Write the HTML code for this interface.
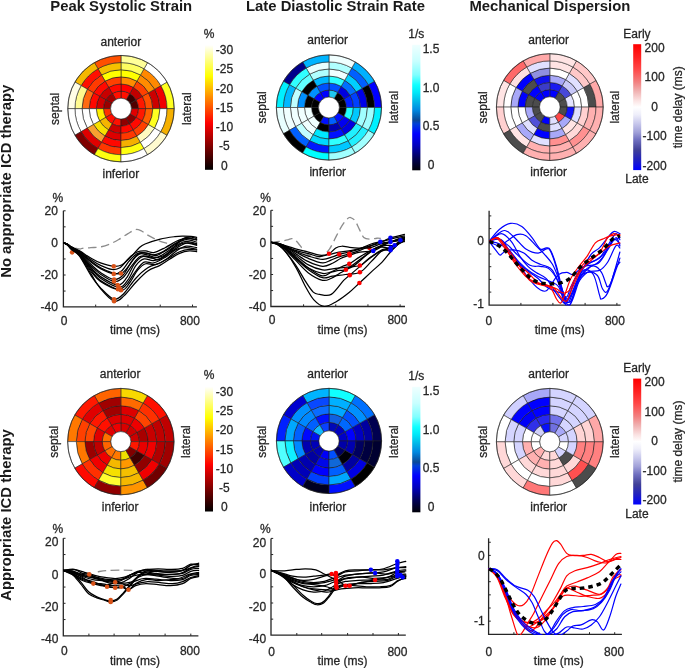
<!DOCTYPE html>
<html><head><meta charset="utf-8"><style>
html,body{margin:0;padding:0;background:#fff;}
svg{display:block;font-family:"Liberation Sans", sans-serif;}
</style></head><body>
<svg style="will-change:transform" width="685" height="668" viewBox="0 0 685 668">
<defs><linearGradient id="ghot" x1="0" y1="0" x2="0" y2="1"><stop offset="0.000" stop-color="#ffffff"/><stop offset="0.025" stop-color="#ffffe5"/><stop offset="0.050" stop-color="#ffffcb"/><stop offset="0.075" stop-color="#ffffb2"/><stop offset="0.100" stop-color="#ffff99"/><stop offset="0.125" stop-color="#ffff7f"/><stop offset="0.150" stop-color="#ffff65"/><stop offset="0.175" stop-color="#ffff4c"/><stop offset="0.200" stop-color="#ffff33"/><stop offset="0.225" stop-color="#ffff19"/><stop offset="0.250" stop-color="#ffff00"/><stop offset="0.275" stop-color="#ffed00"/><stop offset="0.300" stop-color="#ffdc00"/><stop offset="0.325" stop-color="#ffcc00"/><stop offset="0.350" stop-color="#ffbb00"/><stop offset="0.375" stop-color="#ffaa00"/><stop offset="0.400" stop-color="#ff9900"/><stop offset="0.425" stop-color="#ff8700"/><stop offset="0.450" stop-color="#ff7700"/><stop offset="0.475" stop-color="#ff6600"/><stop offset="0.500" stop-color="#ff5500"/><stop offset="0.525" stop-color="#ff4300"/><stop offset="0.550" stop-color="#ff3300"/><stop offset="0.575" stop-color="#ff2100"/><stop offset="0.600" stop-color="#ff1100"/><stop offset="0.625" stop-color="#ff0000"/><stop offset="0.650" stop-color="#ed0000"/><stop offset="0.675" stop-color="#dd0000"/><stop offset="0.700" stop-color="#cb0000"/><stop offset="0.725" stop-color="#bb0000"/><stop offset="0.750" stop-color="#aa0000"/><stop offset="0.775" stop-color="#990000"/><stop offset="0.800" stop-color="#880000"/><stop offset="0.825" stop-color="#760000"/><stop offset="0.850" stop-color="#650000"/><stop offset="0.875" stop-color="#550000"/><stop offset="0.900" stop-color="#440000"/><stop offset="0.925" stop-color="#320000"/><stop offset="0.950" stop-color="#220000"/><stop offset="0.975" stop-color="#110000"/><stop offset="1.000" stop-color="#000000"/></linearGradient><linearGradient id="gblue" x1="0" y1="0" x2="0" y2="1"><stop offset="0.000" stop-color="#f0ffff"/><stop offset="0.130" stop-color="#c8ffff"/><stop offset="0.240" stop-color="#80ffff"/><stop offset="0.320" stop-color="#10ffff"/><stop offset="0.380" stop-color="#00e8f8"/><stop offset="0.450" stop-color="#00b8e8"/><stop offset="0.520" stop-color="#0088e0"/><stop offset="0.600" stop-color="#0a4898"/><stop offset="0.630" stop-color="#0040d8"/><stop offset="0.710" stop-color="#0000ff"/><stop offset="0.800" stop-color="#0000c0"/><stop offset="0.910" stop-color="#000050"/><stop offset="1.000" stop-color="#000008"/></linearGradient><linearGradient id="grb" x1="0" y1="0" x2="0" y2="1"><stop offset="0.000" stop-color="#ff0000"/><stop offset="0.100" stop-color="#ff2020"/><stop offset="0.200" stop-color="#ff4848"/><stop offset="0.300" stop-color="#f28080"/><stop offset="0.370" stop-color="#f0b0b0"/><stop offset="0.450" stop-color="#fbe4e4"/><stop offset="0.500" stop-color="#ffffff"/><stop offset="0.560" stop-color="#eeeefa"/><stop offset="0.630" stop-color="#c8c8ec"/><stop offset="0.700" stop-color="#a0a0d8"/><stop offset="0.760" stop-color="#7070c0"/><stop offset="0.840" stop-color="#404098"/><stop offset="0.920" stop-color="#2020c0"/><stop offset="1.000" stop-color="#0000ff"/></linearGradient><clipPath id="c1"><rect x="63.4" y="200" width="134" height="107.3"/></clipPath><clipPath id="c2"><rect x="271.4" y="200" width="134" height="107.3"/></clipPath><clipPath id="c3"><rect x="489.1" y="200" width="133" height="105.4"/></clipPath><clipPath id="c4"><rect x="63.3" y="530" width="136" height="106.2"/></clipPath><clipPath id="c5"><rect x="271" y="530" width="136" height="105.8"/></clipPath><clipPath id="c6"><rect x="488.6" y="530" width="134" height="105"/></clipPath></defs>
<rect width="685" height="668" fill="#fff"/>
<text x="121.2" y="10.7" font-size="14.85" text-anchor="middle" font-weight="bold" fill="#1a1a1a">Peak Systolic Strain</text>
<text x="335.5" y="10.7" font-size="14.85" text-anchor="middle" font-weight="bold" fill="#1a1a1a">Late Diastolic Strain Rate</text>
<text x="549.9" y="10.7" font-size="14.85" text-anchor="middle" font-weight="bold" fill="#1a1a1a">Mechanical Dispersion</text>
<text x="10.8" y="181.3" font-size="14.85" text-anchor="middle" font-weight="bold" fill="#1a1a1a" transform="rotate(-90 10.8 181.3)">No appropriate ICD therapy</text>
<text x="10.8" y="515" font-size="14.85" text-anchor="middle" font-weight="bold" fill="#1a1a1a" transform="rotate(-90 10.8 515)">Appropriate ICD therapy</text>
<g>
<path d="M138.53 108.65A17.53 17.53 0 0 0 136.18 99.88L130.01 103.45A10.4 10.4 0 0 1 131.4 108.65Z" fill="#500000" stroke="#1e1e1e" stroke-width="0.55"/>
<path d="M145.67 108.65A24.67 24.67 0 0 0 142.36 96.32L136.18 99.88A17.53 17.53 0 0 1 138.53 108.65Z" fill="#ff1800" stroke="#1e1e1e" stroke-width="0.55"/>
<path d="M152.8 108.65A31.8 31.8 0 0 0 148.54 92.75L142.36 96.32A24.67 24.67 0 0 1 145.67 108.65Z" fill="#ff5000" stroke="#1e1e1e" stroke-width="0.55"/>
<path d="M159.93 108.65A38.93 38.93 0 0 0 154.72 89.18L148.54 92.75A31.8 31.8 0 0 1 152.8 108.65Z" fill="#cc0000" stroke="#1e1e1e" stroke-width="0.55"/>
<path d="M167.07 108.65A46.07 46.07 0 0 0 160.89 85.62L154.72 89.18A38.93 38.93 0 0 1 159.93 108.65Z" fill="#f00000" stroke="#1e1e1e" stroke-width="0.55"/>
<path d="M174.2 108.65A53.2 53.2 0 0 0 167.07 82.05L160.89 85.62A46.07 46.07 0 0 1 167.07 108.65Z" fill="#ffff20" stroke="#1e1e1e" stroke-width="0.55"/>
<path d="M136.18 99.88A17.53 17.53 0 0 0 129.77 93.47L126.2 99.64A10.4 10.4 0 0 1 130.01 103.45Z" fill="#3a0000" stroke="#1e1e1e" stroke-width="0.55"/>
<path d="M142.36 96.32A24.67 24.67 0 0 0 133.33 87.29L129.77 93.47A17.53 17.53 0 0 1 136.18 99.88Z" fill="#c00000" stroke="#1e1e1e" stroke-width="0.55"/>
<path d="M148.54 92.75A31.8 31.8 0 0 0 136.9 81.11L133.33 87.29A24.67 24.67 0 0 1 142.36 96.32Z" fill="#ff4000" stroke="#1e1e1e" stroke-width="0.55"/>
<path d="M154.72 89.18A38.93 38.93 0 0 0 140.47 74.93L136.9 81.11A31.8 31.8 0 0 1 148.54 92.75Z" fill="#ff8c00" stroke="#1e1e1e" stroke-width="0.55"/>
<path d="M160.89 85.62A46.07 46.07 0 0 0 144.03 68.76L140.47 74.93A38.93 38.93 0 0 1 154.72 89.18Z" fill="#ff8800" stroke="#1e1e1e" stroke-width="0.55"/>
<path d="M167.07 82.05A53.2 53.2 0 0 0 147.6 62.58L144.03 68.76A46.07 46.07 0 0 1 160.89 85.62Z" fill="#ffffff" stroke="#1e1e1e" stroke-width="0.55"/>
<path d="M129.77 93.47A17.53 17.53 0 0 0 121 91.12L121 98.25A10.4 10.4 0 0 1 126.2 99.64Z" fill="#ff1000" stroke="#1e1e1e" stroke-width="0.55"/>
<path d="M133.33 87.29A24.67 24.67 0 0 0 121 83.98L121 91.12A17.53 17.53 0 0 1 129.77 93.47Z" fill="#ff0000" stroke="#1e1e1e" stroke-width="0.55"/>
<path d="M136.9 81.11A31.8 31.8 0 0 0 121 76.85L121 83.98A24.67 24.67 0 0 1 133.33 87.29Z" fill="#ff8c00" stroke="#1e1e1e" stroke-width="0.55"/>
<path d="M140.47 74.93A38.93 38.93 0 0 0 121 69.72L121 76.85A31.8 31.8 0 0 1 136.9 81.11Z" fill="#ffff00" stroke="#1e1e1e" stroke-width="0.55"/>
<path d="M144.03 68.76A46.07 46.07 0 0 0 121 62.58L121 69.72A38.93 38.93 0 0 1 140.47 74.93Z" fill="#fdfd60" stroke="#1e1e1e" stroke-width="0.55"/>
<path d="M147.6 62.58A53.2 53.2 0 0 0 121 55.45L121 62.58A46.07 46.07 0 0 1 144.03 68.76Z" fill="#ffff99" stroke="#1e1e1e" stroke-width="0.55"/>
<path d="M121 91.12A17.53 17.53 0 0 0 112.23 93.47L115.8 99.64A10.4 10.4 0 0 1 121 98.25Z" fill="#ff1000" stroke="#1e1e1e" stroke-width="0.55"/>
<path d="M121 83.98A24.67 24.67 0 0 0 108.67 87.29L112.23 93.47A17.53 17.53 0 0 1 121 91.12Z" fill="#ff0800" stroke="#1e1e1e" stroke-width="0.55"/>
<path d="M121 76.85A31.8 31.8 0 0 0 105.1 81.11L108.67 87.29A24.67 24.67 0 0 1 121 83.98Z" fill="#ff4000" stroke="#1e1e1e" stroke-width="0.55"/>
<path d="M121 69.72A38.93 38.93 0 0 0 101.53 74.93L105.1 81.11A31.8 31.8 0 0 1 121 76.85Z" fill="#ffff00" stroke="#1e1e1e" stroke-width="0.55"/>
<path d="M121 62.58A46.07 46.07 0 0 0 97.97 68.76L101.53 74.93A38.93 38.93 0 0 1 121 69.72Z" fill="#f5c000" stroke="#1e1e1e" stroke-width="0.55"/>
<path d="M121 55.45A53.2 53.2 0 0 0 94.4 62.58L97.97 68.76A46.07 46.07 0 0 1 121 62.58Z" fill="#ff5000" stroke="#1e1e1e" stroke-width="0.55"/>
<path d="M112.23 93.47A17.53 17.53 0 0 0 105.82 99.88L111.99 103.45A10.4 10.4 0 0 1 115.8 99.64Z" fill="#a00000" stroke="#1e1e1e" stroke-width="0.55"/>
<path d="M108.67 87.29A24.67 24.67 0 0 0 99.64 96.32L105.82 99.88A17.53 17.53 0 0 1 112.23 93.47Z" fill="#c80000" stroke="#1e1e1e" stroke-width="0.55"/>
<path d="M105.1 81.11A31.8 31.8 0 0 0 93.46 92.75L99.64 96.32A24.67 24.67 0 0 1 108.67 87.29Z" fill="#ff0800" stroke="#1e1e1e" stroke-width="0.55"/>
<path d="M101.53 74.93A38.93 38.93 0 0 0 87.28 89.18L93.46 92.75A31.8 31.8 0 0 1 105.1 81.11Z" fill="#ff3a00" stroke="#1e1e1e" stroke-width="0.55"/>
<path d="M97.97 68.76A46.07 46.07 0 0 0 81.11 85.62L87.28 89.18A38.93 38.93 0 0 1 101.53 74.93Z" fill="#ff1000" stroke="#1e1e1e" stroke-width="0.55"/>
<path d="M94.4 62.58A53.2 53.2 0 0 0 74.93 82.05L81.11 85.62A46.07 46.07 0 0 1 97.97 68.76Z" fill="#f5b800" stroke="#1e1e1e" stroke-width="0.55"/>
<path d="M105.82 99.88A17.53 17.53 0 0 0 103.47 108.65L110.6 108.65A10.4 10.4 0 0 1 111.99 103.45Z" fill="#9a0000" stroke="#1e1e1e" stroke-width="0.55"/>
<path d="M99.64 96.32A24.67 24.67 0 0 0 96.33 108.65L103.47 108.65A17.53 17.53 0 0 1 105.82 99.88Z" fill="#d00000" stroke="#1e1e1e" stroke-width="0.55"/>
<path d="M93.46 92.75A31.8 31.8 0 0 0 89.2 108.65L96.33 108.65A24.67 24.67 0 0 1 99.64 96.32Z" fill="#ff0800" stroke="#1e1e1e" stroke-width="0.55"/>
<path d="M87.28 89.18A38.93 38.93 0 0 0 82.07 108.65L89.2 108.65A31.8 31.8 0 0 1 93.46 92.75Z" fill="#ff6a10" stroke="#1e1e1e" stroke-width="0.55"/>
<path d="M81.11 85.62A46.07 46.07 0 0 0 74.93 108.65L82.07 108.65A38.93 38.93 0 0 1 87.28 89.18Z" fill="#fffa90" stroke="#1e1e1e" stroke-width="0.55"/>
<path d="M74.93 82.05A53.2 53.2 0 0 0 67.8 108.65L74.93 108.65A46.07 46.07 0 0 1 81.11 85.62Z" fill="#fffde6" stroke="#1e1e1e" stroke-width="0.55"/>
<path d="M103.47 108.65A17.53 17.53 0 0 0 105.82 117.42L111.99 113.85A10.4 10.4 0 0 1 110.6 108.65Z" fill="#ff3000" stroke="#1e1e1e" stroke-width="0.55"/>
<path d="M96.33 108.65A24.67 24.67 0 0 0 99.64 120.98L105.82 117.42A17.53 17.53 0 0 1 103.47 108.65Z" fill="#ffef00" stroke="#1e1e1e" stroke-width="0.55"/>
<path d="M89.2 108.65A31.8 31.8 0 0 0 93.46 124.55L99.64 120.98A24.67 24.67 0 0 1 96.33 108.65Z" fill="#ffffff" stroke="#1e1e1e" stroke-width="0.55"/>
<path d="M82.07 108.65A38.93 38.93 0 0 0 87.28 128.12L93.46 124.55A31.8 31.8 0 0 1 89.2 108.65Z" fill="#ffffff" stroke="#1e1e1e" stroke-width="0.55"/>
<path d="M74.93 108.65A46.07 46.07 0 0 0 81.11 131.68L87.28 128.12A38.93 38.93 0 0 1 82.07 108.65Z" fill="#ffffff" stroke="#1e1e1e" stroke-width="0.55"/>
<path d="M67.8 108.65A53.2 53.2 0 0 0 74.93 135.25L81.11 131.68A46.07 46.07 0 0 1 74.93 108.65Z" fill="#ffffff" stroke="#1e1e1e" stroke-width="0.55"/>
<path d="M105.82 117.42A17.53 17.53 0 0 0 112.23 123.83L115.8 117.66A10.4 10.4 0 0 1 111.99 113.85Z" fill="#ff0c00" stroke="#1e1e1e" stroke-width="0.55"/>
<path d="M99.64 120.98A24.67 24.67 0 0 0 108.67 130.01L112.23 123.83A17.53 17.53 0 0 1 105.82 117.42Z" fill="#f5b400" stroke="#1e1e1e" stroke-width="0.55"/>
<path d="M93.46 124.55A31.8 31.8 0 0 0 105.1 136.19L108.67 130.01A24.67 24.67 0 0 1 99.64 120.98Z" fill="#f8e000" stroke="#1e1e1e" stroke-width="0.55"/>
<path d="M87.28 128.12A38.93 38.93 0 0 0 101.53 142.37L105.1 136.19A31.8 31.8 0 0 1 93.46 124.55Z" fill="#f8a030" stroke="#1e1e1e" stroke-width="0.55"/>
<path d="M81.11 131.68A46.07 46.07 0 0 0 97.97 148.54L101.53 142.37A38.93 38.93 0 0 1 87.28 128.12Z" fill="#e00000" stroke="#1e1e1e" stroke-width="0.55"/>
<path d="M74.93 135.25A53.2 53.2 0 0 0 94.4 154.72L97.97 148.54A46.07 46.07 0 0 1 81.11 131.68Z" fill="#800000" stroke="#1e1e1e" stroke-width="0.55"/>
<path d="M112.23 123.83A17.53 17.53 0 0 0 121 126.18L121 119.05A10.4 10.4 0 0 1 115.8 117.66Z" fill="#ff1000" stroke="#1e1e1e" stroke-width="0.55"/>
<path d="M108.67 130.01A24.67 24.67 0 0 0 121 133.32L121 126.18A17.53 17.53 0 0 1 112.23 123.83Z" fill="#cc0000" stroke="#1e1e1e" stroke-width="0.55"/>
<path d="M105.1 136.19A31.8 31.8 0 0 0 121 140.45L121 133.32A24.67 24.67 0 0 1 108.67 130.01Z" fill="#dd0000" stroke="#1e1e1e" stroke-width="0.55"/>
<path d="M101.53 142.37A38.93 38.93 0 0 0 121 147.58L121 140.45A31.8 31.8 0 0 1 105.1 136.19Z" fill="#ff0800" stroke="#1e1e1e" stroke-width="0.55"/>
<path d="M97.97 148.54A46.07 46.07 0 0 0 121 154.72L121 147.58A38.93 38.93 0 0 1 101.53 142.37Z" fill="#ff3800" stroke="#1e1e1e" stroke-width="0.55"/>
<path d="M94.4 154.72A53.2 53.2 0 0 0 121 161.85L121 154.72A46.07 46.07 0 0 1 97.97 148.54Z" fill="#ffff10" stroke="#1e1e1e" stroke-width="0.55"/>
<path d="M121 126.18A17.53 17.53 0 0 0 129.77 123.83L126.2 117.66A10.4 10.4 0 0 1 121 119.05Z" fill="#900000" stroke="#1e1e1e" stroke-width="0.55"/>
<path d="M121 133.32A24.67 24.67 0 0 0 133.33 130.01L129.77 123.83A17.53 17.53 0 0 1 121 126.18Z" fill="#ff0800" stroke="#1e1e1e" stroke-width="0.55"/>
<path d="M121 140.45A31.8 31.8 0 0 0 136.9 136.19L133.33 130.01A24.67 24.67 0 0 1 121 133.32Z" fill="#ff3800" stroke="#1e1e1e" stroke-width="0.55"/>
<path d="M121 147.58A38.93 38.93 0 0 0 140.47 142.37L136.9 136.19A31.8 31.8 0 0 1 121 140.45Z" fill="#f5b000" stroke="#1e1e1e" stroke-width="0.55"/>
<path d="M121 154.72A46.07 46.07 0 0 0 144.03 148.54L140.47 142.37A38.93 38.93 0 0 1 121 147.58Z" fill="#ffff10" stroke="#1e1e1e" stroke-width="0.55"/>
<path d="M121 161.85A53.2 53.2 0 0 0 147.6 154.72L144.03 148.54A46.07 46.07 0 0 1 121 154.72Z" fill="#ffffff" stroke="#1e1e1e" stroke-width="0.55"/>
<path d="M129.77 123.83A17.53 17.53 0 0 0 136.18 117.42L130.01 113.85A10.4 10.4 0 0 1 126.2 117.66Z" fill="#880000" stroke="#1e1e1e" stroke-width="0.55"/>
<path d="M133.33 130.01A24.67 24.67 0 0 0 142.36 120.98L136.18 117.42A17.53 17.53 0 0 1 129.77 123.83Z" fill="#ff0800" stroke="#1e1e1e" stroke-width="0.55"/>
<path d="M136.9 136.19A31.8 31.8 0 0 0 148.54 124.55L142.36 120.98A24.67 24.67 0 0 1 133.33 130.01Z" fill="#ff4000" stroke="#1e1e1e" stroke-width="0.55"/>
<path d="M140.47 142.37A38.93 38.93 0 0 0 154.72 128.12L148.54 124.55A31.8 31.8 0 0 1 136.9 136.19Z" fill="#fffbc0" stroke="#1e1e1e" stroke-width="0.55"/>
<path d="M144.03 148.54A46.07 46.07 0 0 0 160.89 131.68L154.72 128.12A38.93 38.93 0 0 1 140.47 142.37Z" fill="#ffffff" stroke="#1e1e1e" stroke-width="0.55"/>
<path d="M147.6 154.72A53.2 53.2 0 0 0 167.07 135.25L160.89 131.68A46.07 46.07 0 0 1 144.03 148.54Z" fill="#fffbd0" stroke="#1e1e1e" stroke-width="0.55"/>
<path d="M136.18 117.42A17.53 17.53 0 0 0 138.53 108.65L131.4 108.65A10.4 10.4 0 0 1 130.01 113.85Z" fill="#e00000" stroke="#1e1e1e" stroke-width="0.55"/>
<path d="M142.36 120.98A24.67 24.67 0 0 0 145.67 108.65L138.53 108.65A17.53 17.53 0 0 1 136.18 117.42Z" fill="#ff1800" stroke="#1e1e1e" stroke-width="0.55"/>
<path d="M148.54 124.55A31.8 31.8 0 0 0 152.8 108.65L145.67 108.65A24.67 24.67 0 0 1 142.36 120.98Z" fill="#ff6000" stroke="#1e1e1e" stroke-width="0.55"/>
<path d="M154.72 128.12A38.93 38.93 0 0 0 159.93 108.65L152.8 108.65A31.8 31.8 0 0 1 148.54 124.55Z" fill="#ffff20" stroke="#1e1e1e" stroke-width="0.55"/>
<path d="M160.89 131.68A46.07 46.07 0 0 0 167.07 108.65L159.93 108.65A38.93 38.93 0 0 1 154.72 128.12Z" fill="#ffffff" stroke="#1e1e1e" stroke-width="0.55"/>
<path d="M167.07 135.25A53.2 53.2 0 0 0 174.2 108.65L167.07 108.65A46.07 46.07 0 0 1 160.89 131.68Z" fill="#f5b000" stroke="#1e1e1e" stroke-width="0.55"/>
</g>
<circle cx="121" cy="108.65" r="53.2" fill="none" stroke="#1e1e1e" stroke-width="0.6"/>
<circle cx="121" cy="108.65" r="10.4" fill="#fff" stroke="#1e1e1e" stroke-width="0.55"/>
<text x="120.8" y="45.8" font-size="12" text-anchor="middle" fill="#262626" stroke="#262626" stroke-width="0.28">anterior</text>
<text x="120.85" y="178.4" font-size="12" text-anchor="middle" fill="#262626" stroke="#262626" stroke-width="0.28">inferior</text>
<text x="59.1" y="108.9" font-size="12" text-anchor="middle" fill="#262626" stroke="#262626" stroke-width="0.28" transform="rotate(-90 59.1 108.9)">septal</text>
<text x="191" y="108.75" font-size="12" text-anchor="middle" fill="#262626" stroke="#262626" stroke-width="0.28" transform="rotate(-90 191 108.75)">lateral</text>
<g>
<path d="M346.38 107.5A17.43 17.43 0 0 0 344.05 98.78L337.96 102.3A10.4 10.4 0 0 1 339.35 107.5Z" fill="#000000" stroke="#1e1e1e" stroke-width="0.55"/>
<path d="M353.42 107.5A24.47 24.47 0 0 0 350.14 95.27L344.05 98.78A17.43 17.43 0 0 1 346.38 107.5Z" fill="#0020ff" stroke="#1e1e1e" stroke-width="0.55"/>
<path d="M360.45 107.5A31.5 31.5 0 0 0 356.23 91.75L350.14 95.27A24.47 24.47 0 0 1 353.42 107.5Z" fill="#0040ff" stroke="#1e1e1e" stroke-width="0.55"/>
<path d="M367.48 107.5A38.53 38.53 0 0 0 362.32 88.23L356.23 91.75A31.5 31.5 0 0 1 360.45 107.5Z" fill="#0000e8" stroke="#1e1e1e" stroke-width="0.55"/>
<path d="M374.52 107.5A45.57 45.57 0 0 0 368.41 84.72L362.32 88.23A38.53 38.53 0 0 1 367.48 107.5Z" fill="#000000" stroke="#1e1e1e" stroke-width="0.55"/>
<path d="M381.55 107.5A52.6 52.6 0 0 0 374.5 81.2L368.41 84.72A45.57 45.57 0 0 1 374.52 107.5Z" fill="#0000ff" stroke="#1e1e1e" stroke-width="0.55"/>
<path d="M344.05 98.78A17.43 17.43 0 0 0 337.67 92.4L334.15 98.49A10.4 10.4 0 0 1 337.96 102.3Z" fill="#000000" stroke="#1e1e1e" stroke-width="0.55"/>
<path d="M350.14 95.27A24.47 24.47 0 0 0 341.18 86.31L337.67 92.4A17.43 17.43 0 0 1 344.05 98.78Z" fill="#0000e0" stroke="#1e1e1e" stroke-width="0.55"/>
<path d="M356.23 91.75A31.5 31.5 0 0 0 344.7 80.22L341.18 86.31A24.47 24.47 0 0 1 350.14 95.27Z" fill="#0070ff" stroke="#1e1e1e" stroke-width="0.55"/>
<path d="M362.32 88.23A38.53 38.53 0 0 0 348.22 74.13L344.7 80.22A31.5 31.5 0 0 1 356.23 91.75Z" fill="#00d0ff" stroke="#1e1e1e" stroke-width="0.55"/>
<path d="M368.41 84.72A45.57 45.57 0 0 0 351.73 68.04L348.22 74.13A38.53 38.53 0 0 1 362.32 88.23Z" fill="#0060ff" stroke="#1e1e1e" stroke-width="0.55"/>
<path d="M374.5 81.2A52.6 52.6 0 0 0 355.25 61.95L351.73 68.04A45.57 45.57 0 0 1 368.41 84.72Z" fill="#00b0ff" stroke="#1e1e1e" stroke-width="0.55"/>
<path d="M337.67 92.4A17.43 17.43 0 0 0 328.95 90.07L328.95 97.1A10.4 10.4 0 0 1 334.15 98.49Z" fill="#20c8f0" stroke="#1e1e1e" stroke-width="0.55"/>
<path d="M341.18 86.31A24.47 24.47 0 0 0 328.95 83.03L328.95 90.07A17.43 17.43 0 0 1 337.67 92.4Z" fill="#0050ff" stroke="#1e1e1e" stroke-width="0.55"/>
<path d="M344.7 80.22A31.5 31.5 0 0 0 328.95 76L328.95 83.03A24.47 24.47 0 0 1 341.18 86.31Z" fill="#30ffff" stroke="#1e1e1e" stroke-width="0.55"/>
<path d="M348.22 74.13A38.53 38.53 0 0 0 328.95 68.97L328.95 76A31.5 31.5 0 0 1 344.7 80.22Z" fill="#f0ffff" stroke="#1e1e1e" stroke-width="0.55"/>
<path d="M351.73 68.04A45.57 45.57 0 0 0 328.95 61.93L328.95 68.97A38.53 38.53 0 0 1 348.22 74.13Z" fill="#b0ffff" stroke="#1e1e1e" stroke-width="0.55"/>
<path d="M355.25 61.95A52.6 52.6 0 0 0 328.95 54.9L328.95 61.93A45.57 45.57 0 0 1 351.73 68.04Z" fill="#f0ffff" stroke="#1e1e1e" stroke-width="0.55"/>
<path d="M328.95 90.07A17.43 17.43 0 0 0 320.23 92.4L323.75 98.49A10.4 10.4 0 0 1 328.95 97.1Z" fill="#0000ff" stroke="#1e1e1e" stroke-width="0.55"/>
<path d="M328.95 83.03A24.47 24.47 0 0 0 316.72 86.31L320.23 92.4A17.43 17.43 0 0 1 328.95 90.07Z" fill="#0050ff" stroke="#1e1e1e" stroke-width="0.55"/>
<path d="M328.95 76A31.5 31.5 0 0 0 313.2 80.22L316.72 86.31A24.47 24.47 0 0 1 328.95 83.03Z" fill="#00b8ff" stroke="#1e1e1e" stroke-width="0.55"/>
<path d="M328.95 68.97A38.53 38.53 0 0 0 309.68 74.13L313.2 80.22A31.5 31.5 0 0 1 328.95 76Z" fill="#b0ffff" stroke="#1e1e1e" stroke-width="0.55"/>
<path d="M328.95 61.93A45.57 45.57 0 0 0 306.17 68.04L309.68 74.13A38.53 38.53 0 0 1 328.95 68.97Z" fill="#e8ffff" stroke="#1e1e1e" stroke-width="0.55"/>
<path d="M328.95 54.9A52.6 52.6 0 0 0 302.65 61.95L306.17 68.04A45.57 45.57 0 0 1 328.95 61.93Z" fill="#00b4ff" stroke="#1e1e1e" stroke-width="0.55"/>
<path d="M320.23 92.4A17.43 17.43 0 0 0 313.85 98.78L319.94 102.3A10.4 10.4 0 0 1 323.75 98.49Z" fill="#0000ff" stroke="#1e1e1e" stroke-width="0.55"/>
<path d="M316.72 86.31A24.47 24.47 0 0 0 307.76 95.27L313.85 98.78A17.43 17.43 0 0 1 320.23 92.4Z" fill="#0090ff" stroke="#1e1e1e" stroke-width="0.55"/>
<path d="M313.2 80.22A31.5 31.5 0 0 0 301.67 91.75L307.76 95.27A24.47 24.47 0 0 1 316.72 86.31Z" fill="#000000" stroke="#1e1e1e" stroke-width="0.55"/>
<path d="M309.68 74.13A38.53 38.53 0 0 0 295.58 88.23L301.67 91.75A31.5 31.5 0 0 1 313.2 80.22Z" fill="#60ffff" stroke="#1e1e1e" stroke-width="0.55"/>
<path d="M306.17 68.04A45.57 45.57 0 0 0 289.49 84.72L295.58 88.23A38.53 38.53 0 0 1 309.68 74.13Z" fill="#30ffff" stroke="#1e1e1e" stroke-width="0.55"/>
<path d="M302.65 61.95A52.6 52.6 0 0 0 283.4 81.2L289.49 84.72A45.57 45.57 0 0 1 306.17 68.04Z" fill="#00008c" stroke="#1e1e1e" stroke-width="0.55"/>
<path d="M313.85 98.78A17.43 17.43 0 0 0 311.52 107.5L318.55 107.5A10.4 10.4 0 0 1 319.94 102.3Z" fill="#000000" stroke="#1e1e1e" stroke-width="0.55"/>
<path d="M307.76 95.27A24.47 24.47 0 0 0 304.48 107.5L311.52 107.5A17.43 17.43 0 0 1 313.85 98.78Z" fill="#000000" stroke="#1e1e1e" stroke-width="0.55"/>
<path d="M301.67 91.75A31.5 31.5 0 0 0 297.45 107.5L304.48 107.5A24.47 24.47 0 0 1 307.76 95.27Z" fill="#0090ff" stroke="#1e1e1e" stroke-width="0.55"/>
<path d="M295.58 88.23A38.53 38.53 0 0 0 290.42 107.5L297.45 107.5A31.5 31.5 0 0 1 301.67 91.75Z" fill="#c0ffff" stroke="#1e1e1e" stroke-width="0.55"/>
<path d="M289.49 84.72A45.57 45.57 0 0 0 283.38 107.5L290.42 107.5A38.53 38.53 0 0 1 295.58 88.23Z" fill="#00b8ff" stroke="#1e1e1e" stroke-width="0.55"/>
<path d="M283.4 81.2A52.6 52.6 0 0 0 276.35 107.5L283.38 107.5A45.57 45.57 0 0 1 289.49 84.72Z" fill="#00f0ff" stroke="#1e1e1e" stroke-width="0.55"/>
<path d="M311.52 107.5A17.43 17.43 0 0 0 313.85 116.22L319.94 112.7A10.4 10.4 0 0 1 318.55 107.5Z" fill="#000000" stroke="#1e1e1e" stroke-width="0.55"/>
<path d="M304.48 107.5A24.47 24.47 0 0 0 307.76 119.73L313.85 116.22A17.43 17.43 0 0 1 311.52 107.5Z" fill="#f0ffff" stroke="#1e1e1e" stroke-width="0.55"/>
<path d="M297.45 107.5A31.5 31.5 0 0 0 301.67 123.25L307.76 119.73A24.47 24.47 0 0 1 304.48 107.5Z" fill="#f0ffff" stroke="#1e1e1e" stroke-width="0.55"/>
<path d="M290.42 107.5A38.53 38.53 0 0 0 295.58 126.77L301.67 123.25A31.5 31.5 0 0 1 297.45 107.5Z" fill="#f0ffff" stroke="#1e1e1e" stroke-width="0.55"/>
<path d="M283.38 107.5A45.57 45.57 0 0 0 289.49 130.28L295.58 126.77A38.53 38.53 0 0 1 290.42 107.5Z" fill="#f0ffff" stroke="#1e1e1e" stroke-width="0.55"/>
<path d="M276.35 107.5A52.6 52.6 0 0 0 283.4 133.8L289.49 130.28A45.57 45.57 0 0 1 283.38 107.5Z" fill="#e8ffff" stroke="#1e1e1e" stroke-width="0.55"/>
<path d="M313.85 116.22A17.43 17.43 0 0 0 320.23 122.6L323.75 116.51A10.4 10.4 0 0 1 319.94 112.7Z" fill="#000000" stroke="#1e1e1e" stroke-width="0.55"/>
<path d="M307.76 119.73A24.47 24.47 0 0 0 316.72 128.69L320.23 122.6A17.43 17.43 0 0 1 313.85 116.22Z" fill="#f0ffff" stroke="#1e1e1e" stroke-width="0.55"/>
<path d="M301.67 123.25A31.5 31.5 0 0 0 313.2 134.78L316.72 128.69A24.47 24.47 0 0 1 307.76 119.73Z" fill="#f0ffff" stroke="#1e1e1e" stroke-width="0.55"/>
<path d="M295.58 126.77A38.53 38.53 0 0 0 309.68 140.87L313.2 134.78A31.5 31.5 0 0 1 301.67 123.25Z" fill="#c0ffff" stroke="#1e1e1e" stroke-width="0.55"/>
<path d="M289.49 130.28A45.57 45.57 0 0 0 306.17 146.96L309.68 140.87A38.53 38.53 0 0 1 295.58 126.77Z" fill="#0060ff" stroke="#1e1e1e" stroke-width="0.55"/>
<path d="M283.4 133.8A52.6 52.6 0 0 0 302.65 153.05L306.17 146.96A45.57 45.57 0 0 1 289.49 130.28Z" fill="#000000" stroke="#1e1e1e" stroke-width="0.55"/>
<path d="M320.23 122.6A17.43 17.43 0 0 0 328.95 124.93L328.95 117.9A10.4 10.4 0 0 1 323.75 116.51Z" fill="#0010ff" stroke="#1e1e1e" stroke-width="0.55"/>
<path d="M316.72 128.69A24.47 24.47 0 0 0 328.95 131.97L328.95 124.93A17.43 17.43 0 0 1 320.23 122.6Z" fill="#000000" stroke="#1e1e1e" stroke-width="0.55"/>
<path d="M313.2 134.78A31.5 31.5 0 0 0 328.95 139L328.95 131.97A24.47 24.47 0 0 1 316.72 128.69Z" fill="#00e8ff" stroke="#1e1e1e" stroke-width="0.55"/>
<path d="M309.68 140.87A38.53 38.53 0 0 0 328.95 146.03L328.95 139A31.5 31.5 0 0 1 313.2 134.78Z" fill="#00d8ff" stroke="#1e1e1e" stroke-width="0.55"/>
<path d="M306.17 146.96A45.57 45.57 0 0 0 328.95 153.07L328.95 146.03A38.53 38.53 0 0 1 309.68 140.87Z" fill="#0018ff" stroke="#1e1e1e" stroke-width="0.55"/>
<path d="M302.65 153.05A52.6 52.6 0 0 0 328.95 160.1L328.95 153.07A45.57 45.57 0 0 1 306.17 146.96Z" fill="#00ffff" stroke="#1e1e1e" stroke-width="0.55"/>
<path d="M328.95 124.93A17.43 17.43 0 0 0 337.67 122.6L334.15 116.51A10.4 10.4 0 0 1 328.95 117.9Z" fill="#0060ff" stroke="#1e1e1e" stroke-width="0.55"/>
<path d="M328.95 131.97A24.47 24.47 0 0 0 341.18 128.69L337.67 122.6A17.43 17.43 0 0 1 328.95 124.93Z" fill="#0000b0" stroke="#1e1e1e" stroke-width="0.55"/>
<path d="M328.95 139A31.5 31.5 0 0 0 344.7 134.78L341.18 128.69A24.47 24.47 0 0 1 328.95 131.97Z" fill="#0010ff" stroke="#1e1e1e" stroke-width="0.55"/>
<path d="M328.95 146.03A38.53 38.53 0 0 0 348.22 140.87L344.7 134.78A31.5 31.5 0 0 1 328.95 139Z" fill="#30ffff" stroke="#1e1e1e" stroke-width="0.55"/>
<path d="M328.95 153.07A45.57 45.57 0 0 0 351.73 146.96L348.22 140.87A38.53 38.53 0 0 1 328.95 146.03Z" fill="#00c8ff" stroke="#1e1e1e" stroke-width="0.55"/>
<path d="M328.95 160.1A52.6 52.6 0 0 0 355.25 153.05L351.73 146.96A45.57 45.57 0 0 1 328.95 153.07Z" fill="#a0ffff" stroke="#1e1e1e" stroke-width="0.55"/>
<path d="M337.67 122.6A17.43 17.43 0 0 0 344.05 116.22L337.96 112.7A10.4 10.4 0 0 1 334.15 116.51Z" fill="#0010ff" stroke="#1e1e1e" stroke-width="0.55"/>
<path d="M341.18 128.69A24.47 24.47 0 0 0 350.14 119.73L344.05 116.22A17.43 17.43 0 0 1 337.67 122.6Z" fill="#0000f0" stroke="#1e1e1e" stroke-width="0.55"/>
<path d="M344.7 134.78A31.5 31.5 0 0 0 356.23 123.25L350.14 119.73A24.47 24.47 0 0 1 341.18 128.69Z" fill="#0000e0" stroke="#1e1e1e" stroke-width="0.55"/>
<path d="M348.22 140.87A38.53 38.53 0 0 0 362.32 126.77L356.23 123.25A31.5 31.5 0 0 1 344.7 134.78Z" fill="#20f0ff" stroke="#1e1e1e" stroke-width="0.55"/>
<path d="M351.73 146.96A45.57 45.57 0 0 0 368.41 130.28L362.32 126.77A38.53 38.53 0 0 1 348.22 140.87Z" fill="#20f0ff" stroke="#1e1e1e" stroke-width="0.55"/>
<path d="M355.25 153.05A52.6 52.6 0 0 0 374.5 133.8L368.41 130.28A45.57 45.57 0 0 1 351.73 146.96Z" fill="#a0ffff" stroke="#1e1e1e" stroke-width="0.55"/>
<path d="M344.05 116.22A17.43 17.43 0 0 0 346.38 107.5L339.35 107.5A10.4 10.4 0 0 1 337.96 112.7Z" fill="#000000" stroke="#1e1e1e" stroke-width="0.55"/>
<path d="M350.14 119.73A24.47 24.47 0 0 0 353.42 107.5L346.38 107.5A17.43 17.43 0 0 1 344.05 116.22Z" fill="#20ffff" stroke="#1e1e1e" stroke-width="0.55"/>
<path d="M356.23 123.25A31.5 31.5 0 0 0 360.45 107.5L353.42 107.5A24.47 24.47 0 0 1 350.14 119.73Z" fill="#00c8ff" stroke="#1e1e1e" stroke-width="0.55"/>
<path d="M362.32 126.77A38.53 38.53 0 0 0 367.48 107.5L360.45 107.5A31.5 31.5 0 0 1 356.23 123.25Z" fill="#a0ffff" stroke="#1e1e1e" stroke-width="0.55"/>
<path d="M368.41 130.28A45.57 45.57 0 0 0 374.52 107.5L367.48 107.5A38.53 38.53 0 0 1 362.32 126.77Z" fill="#a0ffff" stroke="#1e1e1e" stroke-width="0.55"/>
<path d="M374.5 133.8A52.6 52.6 0 0 0 381.55 107.5L374.52 107.5A45.57 45.57 0 0 1 368.41 130.28Z" fill="#00f0ff" stroke="#1e1e1e" stroke-width="0.55"/>
</g>
<circle cx="328.95" cy="107.5" r="52.6" fill="none" stroke="#1e1e1e" stroke-width="0.6"/>
<circle cx="328.95" cy="107.5" r="10.4" fill="#fff" stroke="#1e1e1e" stroke-width="0.55"/>
<text x="327.65" y="44" font-size="12" text-anchor="middle" fill="#262626" stroke="#262626" stroke-width="0.28">anterior</text>
<text x="327.75" y="176.4" font-size="12" text-anchor="middle" fill="#262626" stroke="#262626" stroke-width="0.28">inferior</text>
<text x="265.6" y="107.4" font-size="12" text-anchor="middle" fill="#262626" stroke="#262626" stroke-width="0.28" transform="rotate(-90 265.6 107.4)">septal</text>
<text x="397.7" y="107.25" font-size="12" text-anchor="middle" fill="#262626" stroke="#262626" stroke-width="0.28" transform="rotate(-90 397.7 107.25)">lateral</text>
<g>
<path d="M567.28 107.1A17.48 17.48 0 0 0 564.94 98.36L558.72 101.95A10.3 10.3 0 0 1 560.1 107.1Z" fill="#4c4c4c" stroke="#1e1e1e" stroke-width="0.55"/>
<path d="M574.47 107.1A24.67 24.67 0 0 0 571.16 94.77L564.94 98.36A17.48 17.48 0 0 1 567.28 107.1Z" fill="#e4e4ff" stroke="#1e1e1e" stroke-width="0.55"/>
<path d="M581.65 107.1A31.85 31.85 0 0 0 577.38 91.17L571.16 94.77A24.67 24.67 0 0 1 574.47 107.1Z" fill="#ffffff" stroke="#1e1e1e" stroke-width="0.55"/>
<path d="M588.83 107.1A39.03 39.03 0 0 0 583.6 87.58L577.38 91.17A31.85 31.85 0 0 1 581.65 107.1Z" fill="#ffffff" stroke="#1e1e1e" stroke-width="0.55"/>
<path d="M596.02 107.1A46.22 46.22 0 0 0 589.82 83.99L583.6 87.58A39.03 39.03 0 0 1 588.83 107.1Z" fill="#4c4c4c" stroke="#1e1e1e" stroke-width="0.55"/>
<path d="M603.2 107.1A53.4 53.4 0 0 0 596.05 80.4L589.82 83.99A46.22 46.22 0 0 1 596.02 107.1Z" fill="#ffa8a8" stroke="#1e1e1e" stroke-width="0.55"/>
<path d="M564.94 98.36A17.48 17.48 0 0 0 558.54 91.96L554.95 98.18A10.3 10.3 0 0 1 558.72 101.95Z" fill="#4c4c4c" stroke="#1e1e1e" stroke-width="0.55"/>
<path d="M571.16 94.77A24.67 24.67 0 0 0 562.13 85.74L558.54 91.96A17.48 17.48 0 0 1 564.94 98.36Z" fill="#4848d8" stroke="#1e1e1e" stroke-width="0.55"/>
<path d="M577.38 91.17A31.85 31.85 0 0 0 565.72 79.52L562.13 85.74A24.67 24.67 0 0 1 571.16 94.77Z" fill="#c8c8f8" stroke="#1e1e1e" stroke-width="0.55"/>
<path d="M583.6 87.58A39.03 39.03 0 0 0 569.32 73.3L565.72 79.52A31.85 31.85 0 0 1 577.38 91.17Z" fill="#e0e0ff" stroke="#1e1e1e" stroke-width="0.55"/>
<path d="M589.82 83.99A46.22 46.22 0 0 0 572.91 67.08L569.32 73.3A39.03 39.03 0 0 1 583.6 87.58Z" fill="#ffc8c8" stroke="#1e1e1e" stroke-width="0.55"/>
<path d="M596.05 80.4A53.4 53.4 0 0 0 576.5 60.85L572.91 67.08A46.22 46.22 0 0 1 589.82 83.99Z" fill="#ffc8c8" stroke="#1e1e1e" stroke-width="0.55"/>
<path d="M558.54 91.96A17.48 17.48 0 0 0 549.8 89.62L549.8 96.8A10.3 10.3 0 0 1 554.95 98.18Z" fill="#0000ff" stroke="#1e1e1e" stroke-width="0.55"/>
<path d="M562.13 85.74A24.67 24.67 0 0 0 549.8 82.43L549.8 89.62A17.48 17.48 0 0 1 558.54 91.96Z" fill="#1a1af0" stroke="#1e1e1e" stroke-width="0.55"/>
<path d="M565.72 79.52A31.85 31.85 0 0 0 549.8 75.25L549.8 82.43A24.67 24.67 0 0 1 562.13 85.74Z" fill="#a8a8f8" stroke="#1e1e1e" stroke-width="0.55"/>
<path d="M569.32 73.3A39.03 39.03 0 0 0 549.8 68.07L549.8 75.25A31.85 31.85 0 0 1 565.72 79.52Z" fill="#ffffff" stroke="#1e1e1e" stroke-width="0.55"/>
<path d="M572.91 67.08A46.22 46.22 0 0 0 549.8 60.88L549.8 68.07A39.03 39.03 0 0 1 569.32 73.3Z" fill="#ffe4e4" stroke="#1e1e1e" stroke-width="0.55"/>
<path d="M576.5 60.85A53.4 53.4 0 0 0 549.8 53.7L549.8 60.88A46.22 46.22 0 0 1 572.91 67.08Z" fill="#ffe4e4" stroke="#1e1e1e" stroke-width="0.55"/>
<path d="M549.8 89.62A17.48 17.48 0 0 0 541.06 91.96L544.65 98.18A10.3 10.3 0 0 1 549.8 96.8Z" fill="#0000ff" stroke="#1e1e1e" stroke-width="0.55"/>
<path d="M549.8 82.43A24.67 24.67 0 0 0 537.47 85.74L541.06 91.96A17.48 17.48 0 0 1 549.8 89.62Z" fill="#3c3cc8" stroke="#1e1e1e" stroke-width="0.55"/>
<path d="M549.8 75.25A31.85 31.85 0 0 0 533.88 79.52L537.47 85.74A24.67 24.67 0 0 1 549.8 82.43Z" fill="#1010f0" stroke="#1e1e1e" stroke-width="0.55"/>
<path d="M549.8 68.07A39.03 39.03 0 0 0 530.28 73.3L533.88 79.52A31.85 31.85 0 0 1 549.8 75.25Z" fill="#9090e0" stroke="#1e1e1e" stroke-width="0.55"/>
<path d="M549.8 60.88A46.22 46.22 0 0 0 526.69 67.08L530.28 73.3A39.03 39.03 0 0 1 549.8 68.07Z" fill="#e0e0ff" stroke="#1e1e1e" stroke-width="0.55"/>
<path d="M549.8 53.7A53.4 53.4 0 0 0 523.1 60.85L526.69 67.08A46.22 46.22 0 0 1 549.8 60.88Z" fill="#ffa8a8" stroke="#1e1e1e" stroke-width="0.55"/>
<path d="M541.06 91.96A17.48 17.48 0 0 0 534.66 98.36L540.88 101.95A10.3 10.3 0 0 1 544.65 98.18Z" fill="#0000ff" stroke="#1e1e1e" stroke-width="0.55"/>
<path d="M537.47 85.74A24.67 24.67 0 0 0 528.44 94.77L534.66 98.36A17.48 17.48 0 0 1 541.06 91.96Z" fill="#0000ff" stroke="#1e1e1e" stroke-width="0.55"/>
<path d="M533.88 79.52A31.85 31.85 0 0 0 522.22 91.17L528.44 94.77A24.67 24.67 0 0 1 537.47 85.74Z" fill="#4c4c4c" stroke="#1e1e1e" stroke-width="0.55"/>
<path d="M530.28 73.3A39.03 39.03 0 0 0 516 87.58L522.22 91.17A31.85 31.85 0 0 1 533.88 79.52Z" fill="#0000ff" stroke="#1e1e1e" stroke-width="0.55"/>
<path d="M526.69 67.08A46.22 46.22 0 0 0 509.78 83.99L516 87.58A39.03 39.03 0 0 1 530.28 73.3Z" fill="#ffe0e0" stroke="#1e1e1e" stroke-width="0.55"/>
<path d="M523.1 60.85A53.4 53.4 0 0 0 503.55 80.4L509.78 83.99A46.22 46.22 0 0 1 526.69 67.08Z" fill="#ff6868" stroke="#1e1e1e" stroke-width="0.55"/>
<path d="M534.66 98.36A17.48 17.48 0 0 0 532.32 107.1L539.5 107.1A10.3 10.3 0 0 1 540.88 101.95Z" fill="#4c4c4c" stroke="#1e1e1e" stroke-width="0.55"/>
<path d="M528.44 94.77A24.67 24.67 0 0 0 525.13 107.1L532.32 107.1A17.48 17.48 0 0 1 534.66 98.36Z" fill="#4c4c4c" stroke="#1e1e1e" stroke-width="0.55"/>
<path d="M522.22 91.17A31.85 31.85 0 0 0 517.95 107.1L525.13 107.1A24.67 24.67 0 0 1 528.44 94.77Z" fill="#0000ff" stroke="#1e1e1e" stroke-width="0.55"/>
<path d="M516 87.58A39.03 39.03 0 0 0 510.77 107.1L517.95 107.1A31.85 31.85 0 0 1 522.22 91.17Z" fill="#a8a8f8" stroke="#1e1e1e" stroke-width="0.55"/>
<path d="M509.78 83.99A46.22 46.22 0 0 0 503.58 107.1L510.77 107.1A39.03 39.03 0 0 1 516 87.58Z" fill="#ffffff" stroke="#1e1e1e" stroke-width="0.55"/>
<path d="M503.55 80.4A53.4 53.4 0 0 0 496.4 107.1L503.58 107.1A46.22 46.22 0 0 1 509.78 83.99Z" fill="#ffe4e4" stroke="#1e1e1e" stroke-width="0.55"/>
<path d="M532.32 107.1A17.48 17.48 0 0 0 534.66 115.84L540.88 112.25A10.3 10.3 0 0 1 539.5 107.1Z" fill="#4c4c4c" stroke="#1e1e1e" stroke-width="0.55"/>
<path d="M525.13 107.1A24.67 24.67 0 0 0 528.44 119.43L534.66 115.84A17.48 17.48 0 0 1 532.32 107.1Z" fill="#a8a8f8" stroke="#1e1e1e" stroke-width="0.55"/>
<path d="M517.95 107.1A31.85 31.85 0 0 0 522.22 123.02L528.44 119.43A24.67 24.67 0 0 1 525.13 107.1Z" fill="#ffffff" stroke="#1e1e1e" stroke-width="0.55"/>
<path d="M510.77 107.1A39.03 39.03 0 0 0 516 126.62L522.22 123.02A31.85 31.85 0 0 1 517.95 107.1Z" fill="#ffffff" stroke="#1e1e1e" stroke-width="0.55"/>
<path d="M503.58 107.1A46.22 46.22 0 0 0 509.78 130.21L516 126.62A39.03 39.03 0 0 1 510.77 107.1Z" fill="#ffffff" stroke="#1e1e1e" stroke-width="0.55"/>
<path d="M496.4 107.1A53.4 53.4 0 0 0 503.55 133.8L509.78 130.21A46.22 46.22 0 0 1 503.58 107.1Z" fill="#ffd0d0" stroke="#1e1e1e" stroke-width="0.55"/>
<path d="M534.66 115.84A17.48 17.48 0 0 0 541.06 122.24L544.65 116.02A10.3 10.3 0 0 1 540.88 112.25Z" fill="#4c4c4c" stroke="#1e1e1e" stroke-width="0.55"/>
<path d="M528.44 119.43A24.67 24.67 0 0 0 537.47 128.46L541.06 122.24A17.48 17.48 0 0 1 534.66 115.84Z" fill="#5050d8" stroke="#1e1e1e" stroke-width="0.55"/>
<path d="M522.22 123.02A31.85 31.85 0 0 0 533.87 134.68L537.47 128.46A24.67 24.67 0 0 1 528.44 119.43Z" fill="#e0e0ff" stroke="#1e1e1e" stroke-width="0.55"/>
<path d="M516 126.62A39.03 39.03 0 0 0 530.28 140.9L533.87 134.68A31.85 31.85 0 0 1 522.22 123.02Z" fill="#a8a8f8" stroke="#1e1e1e" stroke-width="0.55"/>
<path d="M509.78 130.21A46.22 46.22 0 0 0 526.69 147.12L530.28 140.9A39.03 39.03 0 0 1 516 126.62Z" fill="#ffe4e4" stroke="#1e1e1e" stroke-width="0.55"/>
<path d="M503.55 133.8A53.4 53.4 0 0 0 523.1 153.35L526.69 147.12A46.22 46.22 0 0 1 509.78 130.21Z" fill="#4c4c4c" stroke="#1e1e1e" stroke-width="0.55"/>
<path d="M541.06 122.24A17.48 17.48 0 0 0 549.8 124.58L549.8 117.4A10.3 10.3 0 0 1 544.65 116.02Z" fill="#0000ff" stroke="#1e1e1e" stroke-width="0.55"/>
<path d="M537.47 128.46A24.67 24.67 0 0 0 549.8 131.77L549.8 124.58A17.48 17.48 0 0 1 541.06 122.24Z" fill="#4c4c4c" stroke="#1e1e1e" stroke-width="0.55"/>
<path d="M533.87 134.68A31.85 31.85 0 0 0 549.8 138.95L549.8 131.77A24.67 24.67 0 0 1 537.47 128.46Z" fill="#0000ff" stroke="#1e1e1e" stroke-width="0.55"/>
<path d="M530.28 140.9A39.03 39.03 0 0 0 549.8 146.13L549.8 138.95A31.85 31.85 0 0 1 533.87 134.68Z" fill="#e0e0ff" stroke="#1e1e1e" stroke-width="0.55"/>
<path d="M526.69 147.12A46.22 46.22 0 0 0 549.8 153.32L549.8 146.13A39.03 39.03 0 0 1 530.28 140.9Z" fill="#ffb0b0" stroke="#1e1e1e" stroke-width="0.55"/>
<path d="M523.1 153.35A53.4 53.4 0 0 0 549.8 160.5L549.8 153.32A46.22 46.22 0 0 1 526.69 147.12Z" fill="#ffb0b0" stroke="#1e1e1e" stroke-width="0.55"/>
<path d="M549.8 124.58A17.48 17.48 0 0 0 558.54 122.24L554.95 116.02A10.3 10.3 0 0 1 549.8 117.4Z" fill="#e0e0ff" stroke="#1e1e1e" stroke-width="0.55"/>
<path d="M549.8 131.77A24.67 24.67 0 0 0 562.13 128.46L558.54 122.24A17.48 17.48 0 0 1 549.8 124.58Z" fill="#e0e0ff" stroke="#1e1e1e" stroke-width="0.55"/>
<path d="M549.8 138.95A31.85 31.85 0 0 0 565.72 134.68L562.13 128.46A24.67 24.67 0 0 1 549.8 131.77Z" fill="#a8a8f8" stroke="#1e1e1e" stroke-width="0.55"/>
<path d="M549.8 146.13A39.03 39.03 0 0 0 569.32 140.9L565.72 134.68A31.85 31.85 0 0 1 549.8 138.95Z" fill="#ff9090" stroke="#1e1e1e" stroke-width="0.55"/>
<path d="M549.8 153.32A46.22 46.22 0 0 0 572.91 147.12L569.32 140.9A39.03 39.03 0 0 1 549.8 146.13Z" fill="#ffb0b0" stroke="#1e1e1e" stroke-width="0.55"/>
<path d="M549.8 160.5A53.4 53.4 0 0 0 576.5 153.35L572.91 147.12A46.22 46.22 0 0 1 549.8 153.32Z" fill="#ffb0b0" stroke="#1e1e1e" stroke-width="0.55"/>
<path d="M558.54 122.24A17.48 17.48 0 0 0 564.94 115.84L558.72 112.25A10.3 10.3 0 0 1 554.95 116.02Z" fill="#ff4848" stroke="#1e1e1e" stroke-width="0.55"/>
<path d="M562.13 128.46A24.67 24.67 0 0 0 571.16 119.43L564.94 115.84A17.48 17.48 0 0 1 558.54 122.24Z" fill="#a8a8f8" stroke="#1e1e1e" stroke-width="0.55"/>
<path d="M565.72 134.68A31.85 31.85 0 0 0 577.38 123.03L571.16 119.43A24.67 24.67 0 0 1 562.13 128.46Z" fill="#ffe4e4" stroke="#1e1e1e" stroke-width="0.55"/>
<path d="M569.32 140.9A39.03 39.03 0 0 0 583.6 126.62L577.38 123.03A31.85 31.85 0 0 1 565.72 134.68Z" fill="#ffd8d8" stroke="#1e1e1e" stroke-width="0.55"/>
<path d="M572.91 147.12A46.22 46.22 0 0 0 589.82 130.21L583.6 126.62A39.03 39.03 0 0 1 569.32 140.9Z" fill="#ff9090" stroke="#1e1e1e" stroke-width="0.55"/>
<path d="M576.5 153.35A53.4 53.4 0 0 0 596.05 133.8L589.82 130.21A46.22 46.22 0 0 1 572.91 147.12Z" fill="#ffb0b0" stroke="#1e1e1e" stroke-width="0.55"/>
<path d="M564.94 115.84A17.48 17.48 0 0 0 567.28 107.1L560.1 107.1A10.3 10.3 0 0 1 558.72 112.25Z" fill="#4c4c4c" stroke="#1e1e1e" stroke-width="0.55"/>
<path d="M571.16 119.43A24.67 24.67 0 0 0 574.47 107.1L567.28 107.1A17.48 17.48 0 0 1 564.94 115.84Z" fill="#1010ff" stroke="#1e1e1e" stroke-width="0.55"/>
<path d="M577.38 123.03A31.85 31.85 0 0 0 581.65 107.1L574.47 107.1A24.67 24.67 0 0 1 571.16 119.43Z" fill="#e0e0ff" stroke="#1e1e1e" stroke-width="0.55"/>
<path d="M583.6 126.62A39.03 39.03 0 0 0 588.83 107.1L581.65 107.1A31.85 31.85 0 0 1 577.38 123.03Z" fill="#ffd0d0" stroke="#1e1e1e" stroke-width="0.55"/>
<path d="M589.82 130.21A46.22 46.22 0 0 0 596.02 107.1L588.83 107.1A39.03 39.03 0 0 1 583.6 126.62Z" fill="#ffb0b0" stroke="#1e1e1e" stroke-width="0.55"/>
<path d="M596.05 133.8A53.4 53.4 0 0 0 603.2 107.1L596.02 107.1A46.22 46.22 0 0 1 589.82 130.21Z" fill="#ffb0b0" stroke="#1e1e1e" stroke-width="0.55"/>
</g>
<circle cx="549.8" cy="107.1" r="53.4" fill="none" stroke="#1e1e1e" stroke-width="0.6"/>
<circle cx="549.8" cy="107.1" r="10.3" fill="#fff" stroke="#1e1e1e" stroke-width="0.55"/>
<text x="548.7" y="44" font-size="12" text-anchor="middle" fill="#262626" stroke="#262626" stroke-width="0.28">anterior</text>
<text x="548.65" y="176.4" font-size="12" text-anchor="middle" fill="#262626" stroke="#262626" stroke-width="0.28">inferior</text>
<text x="486.9" y="107.4" font-size="12" text-anchor="middle" fill="#262626" stroke="#262626" stroke-width="0.28" transform="rotate(-90 486.9 107.4)">septal</text>
<text x="618.7" y="107.25" font-size="12" text-anchor="middle" fill="#262626" stroke="#262626" stroke-width="0.28" transform="rotate(-90 618.7 107.25)">lateral</text>
<g>
<path d="M139.49 441.6A18.64 18.64 0 0 0 136.99 432.28L129.51 436.6A10 10 0 0 1 130.85 441.6Z" fill="#cc0000" stroke="#1e1e1e" stroke-width="0.55"/>
<path d="M148.13 441.6A27.28 27.28 0 0 0 144.48 427.96L136.99 432.28A18.64 18.64 0 0 1 139.49 441.6Z" fill="#a80000" stroke="#1e1e1e" stroke-width="0.55"/>
<path d="M156.77 441.6A35.92 35.92 0 0 0 151.96 423.64L144.48 427.96A27.28 27.28 0 0 1 148.13 441.6Z" fill="#c80000" stroke="#1e1e1e" stroke-width="0.55"/>
<path d="M165.41 441.6A44.56 44.56 0 0 0 159.44 419.32L151.96 423.64A35.92 35.92 0 0 1 156.77 441.6Z" fill="#c00000" stroke="#1e1e1e" stroke-width="0.55"/>
<path d="M174.05 441.6A53.2 53.2 0 0 0 166.92 415L159.44 419.32A44.56 44.56 0 0 1 165.41 441.6Z" fill="#c00000" stroke="#1e1e1e" stroke-width="0.55"/>
<path d="M136.99 432.28A18.64 18.64 0 0 0 130.17 425.46L125.85 432.94A10 10 0 0 1 129.51 436.6Z" fill="#cc0000" stroke="#1e1e1e" stroke-width="0.55"/>
<path d="M144.48 427.96A27.28 27.28 0 0 0 134.49 417.97L130.17 425.46A18.64 18.64 0 0 1 136.99 432.28Z" fill="#ee0000" stroke="#1e1e1e" stroke-width="0.55"/>
<path d="M151.96 423.64A35.92 35.92 0 0 0 138.81 410.49L134.49 417.97A27.28 27.28 0 0 1 144.48 427.96Z" fill="#ff4400" stroke="#1e1e1e" stroke-width="0.55"/>
<path d="M159.44 419.32A44.56 44.56 0 0 0 143.13 403.01L138.81 410.49A35.92 35.92 0 0 1 151.96 423.64Z" fill="#ff3000" stroke="#1e1e1e" stroke-width="0.55"/>
<path d="M166.92 415A53.2 53.2 0 0 0 147.45 395.53L143.13 403.01A44.56 44.56 0 0 1 159.44 419.32Z" fill="#ff1000" stroke="#1e1e1e" stroke-width="0.55"/>
<path d="M130.17 425.46A18.64 18.64 0 0 0 120.85 422.96L120.85 431.6A10 10 0 0 1 125.85 432.94Z" fill="#d80000" stroke="#1e1e1e" stroke-width="0.55"/>
<path d="M134.49 417.97A27.28 27.28 0 0 0 120.85 414.32L120.85 422.96A18.64 18.64 0 0 1 130.17 425.46Z" fill="#dd0000" stroke="#1e1e1e" stroke-width="0.55"/>
<path d="M138.81 410.49A35.92 35.92 0 0 0 120.85 405.68L120.85 414.32A27.28 27.28 0 0 1 134.49 417.97Z" fill="#dd0000" stroke="#1e1e1e" stroke-width="0.55"/>
<path d="M143.13 403.01A44.56 44.56 0 0 0 120.85 397.04L120.85 405.68A35.92 35.92 0 0 1 138.81 410.49Z" fill="#ff6a00" stroke="#1e1e1e" stroke-width="0.55"/>
<path d="M147.45 395.53A53.2 53.2 0 0 0 120.85 388.4L120.85 397.04A44.56 44.56 0 0 1 143.13 403.01Z" fill="#f8d800" stroke="#1e1e1e" stroke-width="0.55"/>
<path d="M120.85 422.96A18.64 18.64 0 0 0 111.53 425.46L115.85 432.94A10 10 0 0 1 120.85 431.6Z" fill="#ee0000" stroke="#1e1e1e" stroke-width="0.55"/>
<path d="M120.85 414.32A27.28 27.28 0 0 0 107.21 417.97L111.53 425.46A18.64 18.64 0 0 1 120.85 422.96Z" fill="#dd0000" stroke="#1e1e1e" stroke-width="0.55"/>
<path d="M120.85 405.68A35.92 35.92 0 0 0 102.89 410.49L107.21 417.97A27.28 27.28 0 0 1 120.85 414.32Z" fill="#a00000" stroke="#1e1e1e" stroke-width="0.55"/>
<path d="M120.85 397.04A44.56 44.56 0 0 0 98.57 403.01L102.89 410.49A35.92 35.92 0 0 1 120.85 405.68Z" fill="#a00000" stroke="#1e1e1e" stroke-width="0.55"/>
<path d="M120.85 388.4A53.2 53.2 0 0 0 94.25 395.53L98.57 403.01A44.56 44.56 0 0 1 120.85 397.04Z" fill="#ff6400" stroke="#1e1e1e" stroke-width="0.55"/>
<path d="M111.53 425.46A18.64 18.64 0 0 0 104.71 432.28L112.19 436.6A10 10 0 0 1 115.85 432.94Z" fill="#e00000" stroke="#1e1e1e" stroke-width="0.55"/>
<path d="M107.21 417.97A27.28 27.28 0 0 0 97.22 427.96L104.71 432.28A18.64 18.64 0 0 1 111.53 425.46Z" fill="#ff1000" stroke="#1e1e1e" stroke-width="0.55"/>
<path d="M102.89 410.49A35.92 35.92 0 0 0 89.74 423.64L97.22 427.96A27.28 27.28 0 0 1 107.21 417.97Z" fill="#ff1800" stroke="#1e1e1e" stroke-width="0.55"/>
<path d="M98.57 403.01A44.56 44.56 0 0 0 82.26 419.32L89.74 423.64A35.92 35.92 0 0 1 102.89 410.49Z" fill="#e00000" stroke="#1e1e1e" stroke-width="0.55"/>
<path d="M94.25 395.53A53.2 53.2 0 0 0 74.78 415L82.26 419.32A44.56 44.56 0 0 1 98.57 403.01Z" fill="#ff1800" stroke="#1e1e1e" stroke-width="0.55"/>
<path d="M104.71 432.28A18.64 18.64 0 0 0 102.21 441.6L110.85 441.6A10 10 0 0 1 112.19 436.6Z" fill="#ff7000" stroke="#1e1e1e" stroke-width="0.55"/>
<path d="M97.22 427.96A27.28 27.28 0 0 0 93.57 441.6L102.21 441.6A18.64 18.64 0 0 1 104.71 432.28Z" fill="#e00000" stroke="#1e1e1e" stroke-width="0.55"/>
<path d="M89.74 423.64A35.92 35.92 0 0 0 84.93 441.6L93.57 441.6A27.28 27.28 0 0 1 97.22 427.96Z" fill="#ff4800" stroke="#1e1e1e" stroke-width="0.55"/>
<path d="M82.26 419.32A44.56 44.56 0 0 0 76.29 441.6L84.93 441.6A35.92 35.92 0 0 1 89.74 423.64Z" fill="#ff4000" stroke="#1e1e1e" stroke-width="0.55"/>
<path d="M74.78 415A53.2 53.2 0 0 0 67.65 441.6L76.29 441.6A44.56 44.56 0 0 1 82.26 419.32Z" fill="#ff7800" stroke="#1e1e1e" stroke-width="0.55"/>
<path d="M102.21 441.6A18.64 18.64 0 0 0 104.71 450.92L112.19 446.6A10 10 0 0 1 110.85 441.6Z" fill="#ff6400" stroke="#1e1e1e" stroke-width="0.55"/>
<path d="M93.57 441.6A27.28 27.28 0 0 0 97.22 455.24L104.71 450.92A18.64 18.64 0 0 1 102.21 441.6Z" fill="#c00000" stroke="#1e1e1e" stroke-width="0.55"/>
<path d="M84.93 441.6A35.92 35.92 0 0 0 89.74 459.56L97.22 455.24A27.28 27.28 0 0 1 93.57 441.6Z" fill="#9a0000" stroke="#1e1e1e" stroke-width="0.55"/>
<path d="M76.29 441.6A44.56 44.56 0 0 0 82.26 463.88L89.74 459.56A35.92 35.92 0 0 1 84.93 441.6Z" fill="#ff7800" stroke="#1e1e1e" stroke-width="0.55"/>
<path d="M67.65 441.6A53.2 53.2 0 0 0 74.78 468.2L82.26 463.88A44.56 44.56 0 0 1 76.29 441.6Z" fill="#ffffff" stroke="#1e1e1e" stroke-width="0.55"/>
<path d="M104.71 450.92A18.64 18.64 0 0 0 111.53 457.74L115.85 450.26A10 10 0 0 1 112.19 446.6Z" fill="#ff7000" stroke="#1e1e1e" stroke-width="0.55"/>
<path d="M97.22 455.24A27.28 27.28 0 0 0 107.21 465.23L111.53 457.74A18.64 18.64 0 0 1 104.71 450.92Z" fill="#ee0000" stroke="#1e1e1e" stroke-width="0.55"/>
<path d="M89.74 459.56A35.92 35.92 0 0 0 102.89 472.71L107.21 465.23A27.28 27.28 0 0 1 97.22 455.24Z" fill="#f00000" stroke="#1e1e1e" stroke-width="0.55"/>
<path d="M82.26 463.88A44.56 44.56 0 0 0 98.57 480.19L102.89 472.71A35.92 35.92 0 0 1 89.74 459.56Z" fill="#ff3000" stroke="#1e1e1e" stroke-width="0.55"/>
<path d="M74.78 468.2A53.2 53.2 0 0 0 94.25 487.67L98.57 480.19A44.56 44.56 0 0 1 82.26 463.88Z" fill="#ff0800" stroke="#1e1e1e" stroke-width="0.55"/>
<path d="M111.53 457.74A18.64 18.64 0 0 0 120.85 460.24L120.85 451.6A10 10 0 0 1 115.85 450.26Z" fill="#ff7800" stroke="#1e1e1e" stroke-width="0.55"/>
<path d="M107.21 465.23A27.28 27.28 0 0 0 120.85 468.88L120.85 460.24A18.64 18.64 0 0 1 111.53 457.74Z" fill="#f5b800" stroke="#1e1e1e" stroke-width="0.55"/>
<path d="M102.89 472.71A35.92 35.92 0 0 0 120.85 477.52L120.85 468.88A27.28 27.28 0 0 1 107.21 465.23Z" fill="#f5e000" stroke="#1e1e1e" stroke-width="0.55"/>
<path d="M98.57 480.19A44.56 44.56 0 0 0 120.85 486.16L120.85 477.52A35.92 35.92 0 0 1 102.89 472.71Z" fill="#ffff30" stroke="#1e1e1e" stroke-width="0.55"/>
<path d="M94.25 487.67A53.2 53.2 0 0 0 120.85 494.8L120.85 486.16A44.56 44.56 0 0 1 98.57 480.19Z" fill="#900000" stroke="#1e1e1e" stroke-width="0.55"/>
<path d="M120.85 460.24A18.64 18.64 0 0 0 130.17 457.74L125.85 450.26A10 10 0 0 1 120.85 451.6Z" fill="#f0e000" stroke="#1e1e1e" stroke-width="0.55"/>
<path d="M120.85 468.88A27.28 27.28 0 0 0 134.49 465.23L130.17 457.74A18.64 18.64 0 0 1 120.85 460.24Z" fill="#ff9800" stroke="#1e1e1e" stroke-width="0.55"/>
<path d="M120.85 477.52A35.92 35.92 0 0 0 138.81 472.71L134.49 465.23A27.28 27.28 0 0 1 120.85 468.88Z" fill="#f5c000" stroke="#1e1e1e" stroke-width="0.55"/>
<path d="M120.85 486.16A44.56 44.56 0 0 0 143.13 480.19L138.81 472.71A35.92 35.92 0 0 1 120.85 477.52Z" fill="#f5b800" stroke="#1e1e1e" stroke-width="0.55"/>
<path d="M120.85 494.8A53.2 53.2 0 0 0 147.45 487.67L143.13 480.19A44.56 44.56 0 0 1 120.85 486.16Z" fill="#ff9400" stroke="#1e1e1e" stroke-width="0.55"/>
<path d="M130.17 457.74A18.64 18.64 0 0 0 136.99 450.92L129.51 446.6A10 10 0 0 1 125.85 450.26Z" fill="#800000" stroke="#1e1e1e" stroke-width="0.55"/>
<path d="M134.49 465.23A27.28 27.28 0 0 0 144.48 455.24L136.99 450.92A18.64 18.64 0 0 1 130.17 457.74Z" fill="#400000" stroke="#1e1e1e" stroke-width="0.55"/>
<path d="M138.81 472.71A35.92 35.92 0 0 0 151.96 459.56L144.48 455.24A27.28 27.28 0 0 1 134.49 465.23Z" fill="#900000" stroke="#1e1e1e" stroke-width="0.55"/>
<path d="M143.13 480.19A44.56 44.56 0 0 0 159.44 463.88L151.96 459.56A35.92 35.92 0 0 1 138.81 472.71Z" fill="#f00000" stroke="#1e1e1e" stroke-width="0.55"/>
<path d="M147.45 487.67A53.2 53.2 0 0 0 166.92 468.2L159.44 463.88A44.56 44.56 0 0 1 143.13 480.19Z" fill="#700000" stroke="#1e1e1e" stroke-width="0.55"/>
<path d="M136.99 450.92A18.64 18.64 0 0 0 139.49 441.6L130.85 441.6A10 10 0 0 1 129.51 446.6Z" fill="#ff1800" stroke="#1e1e1e" stroke-width="0.55"/>
<path d="M144.48 455.24A27.28 27.28 0 0 0 148.13 441.6L139.49 441.6A18.64 18.64 0 0 1 136.99 450.92Z" fill="#e80000" stroke="#1e1e1e" stroke-width="0.55"/>
<path d="M151.96 459.56A35.92 35.92 0 0 0 156.77 441.6L148.13 441.6A27.28 27.28 0 0 1 144.48 455.24Z" fill="#f00000" stroke="#1e1e1e" stroke-width="0.55"/>
<path d="M159.44 463.88A44.56 44.56 0 0 0 165.41 441.6L156.77 441.6A35.92 35.92 0 0 1 151.96 459.56Z" fill="#b00000" stroke="#1e1e1e" stroke-width="0.55"/>
<path d="M166.92 468.2A53.2 53.2 0 0 0 174.05 441.6L165.41 441.6A44.56 44.56 0 0 1 159.44 463.88Z" fill="#a00000" stroke="#1e1e1e" stroke-width="0.55"/>
</g>
<circle cx="120.85" cy="441.6" r="53.2" fill="none" stroke="#1e1e1e" stroke-width="0.6"/>
<circle cx="120.85" cy="441.6" r="10" fill="#fff" stroke="#1e1e1e" stroke-width="0.55"/>
<text x="120.15" y="378.4" font-size="12" text-anchor="middle" fill="#262626" stroke="#262626" stroke-width="0.28">anterior</text>
<text x="120.15" y="510.9" font-size="12" text-anchor="middle" fill="#262626" stroke="#262626" stroke-width="0.28">inferior</text>
<text x="58.3" y="441.75" font-size="12" text-anchor="middle" fill="#262626" stroke="#262626" stroke-width="0.28" transform="rotate(-90 58.3 441.75)">septal</text>
<text x="190" y="441.6" font-size="12" text-anchor="middle" fill="#262626" stroke="#262626" stroke-width="0.28" transform="rotate(-90 190 441.6)">lateral</text>
<g>
<path d="M347.6 440.95A18.6 18.6 0 0 0 345.11 431.65L337.75 435.9A10.1 10.1 0 0 1 339.1 440.95Z" fill="#0000c8" stroke="#1e1e1e" stroke-width="0.55"/>
<path d="M356.1 440.95A27.1 27.1 0 0 0 352.47 427.4L345.11 431.65A18.6 18.6 0 0 1 347.6 440.95Z" fill="#0000ff" stroke="#1e1e1e" stroke-width="0.55"/>
<path d="M364.6 440.95A35.6 35.6 0 0 0 359.83 423.15L352.47 427.4A27.1 27.1 0 0 1 356.1 440.95Z" fill="#0000c0" stroke="#1e1e1e" stroke-width="0.55"/>
<path d="M373.1 440.95A44.1 44.1 0 0 0 367.19 418.9L359.83 423.15A35.6 35.6 0 0 1 364.6 440.95Z" fill="#0000a0" stroke="#1e1e1e" stroke-width="0.55"/>
<path d="M381.6 440.95A52.6 52.6 0 0 0 374.55 414.65L367.19 418.9A44.1 44.1 0 0 1 373.1 440.95Z" fill="#000050" stroke="#1e1e1e" stroke-width="0.55"/>
<path d="M345.11 431.65A18.6 18.6 0 0 0 338.3 424.84L334.05 432.2A10.1 10.1 0 0 1 337.75 435.9Z" fill="#0000c0" stroke="#1e1e1e" stroke-width="0.55"/>
<path d="M352.47 427.4A27.1 27.1 0 0 0 342.55 417.48L338.3 424.84A18.6 18.6 0 0 1 345.11 431.65Z" fill="#0068ff" stroke="#1e1e1e" stroke-width="0.55"/>
<path d="M359.83 423.15A35.6 35.6 0 0 0 346.8 410.12L342.55 417.48A27.1 27.1 0 0 1 352.47 427.4Z" fill="#0050ff" stroke="#1e1e1e" stroke-width="0.55"/>
<path d="M367.19 418.9A44.1 44.1 0 0 0 351.05 402.76L346.8 410.12A35.6 35.6 0 0 1 359.83 423.15Z" fill="#0090ff" stroke="#1e1e1e" stroke-width="0.55"/>
<path d="M374.55 414.65A52.6 52.6 0 0 0 355.3 395.4L351.05 402.76A44.1 44.1 0 0 1 367.19 418.9Z" fill="#0070ff" stroke="#1e1e1e" stroke-width="0.55"/>
<path d="M338.3 424.84A18.6 18.6 0 0 0 329 422.35L329 430.85A10.1 10.1 0 0 1 334.05 432.2Z" fill="#0008b8" stroke="#1e1e1e" stroke-width="0.55"/>
<path d="M342.55 417.48A27.1 27.1 0 0 0 329 413.85L329 422.35A18.6 18.6 0 0 1 338.3 424.84Z" fill="#1060e0" stroke="#1e1e1e" stroke-width="0.55"/>
<path d="M346.8 410.12A35.6 35.6 0 0 0 329 405.35L329 413.85A27.1 27.1 0 0 1 342.55 417.48Z" fill="#00a8ff" stroke="#1e1e1e" stroke-width="0.55"/>
<path d="M351.05 402.76A44.1 44.1 0 0 0 329 396.85L329 405.35A35.6 35.6 0 0 1 346.8 410.12Z" fill="#00b0ff" stroke="#1e1e1e" stroke-width="0.55"/>
<path d="M355.3 395.4A52.6 52.6 0 0 0 329 388.35L329 396.85A44.1 44.1 0 0 1 351.05 402.76Z" fill="#10ffff" stroke="#1e1e1e" stroke-width="0.55"/>
<path d="M329 422.35A18.6 18.6 0 0 0 319.7 424.84L323.95 432.2A10.1 10.1 0 0 1 329 430.85Z" fill="#0a40ff" stroke="#1e1e1e" stroke-width="0.55"/>
<path d="M329 413.85A27.1 27.1 0 0 0 315.45 417.48L319.7 424.84A18.6 18.6 0 0 1 329 422.35Z" fill="#0010ff" stroke="#1e1e1e" stroke-width="0.55"/>
<path d="M329 405.35A35.6 35.6 0 0 0 311.2 410.12L315.45 417.48A27.1 27.1 0 0 1 329 413.85Z" fill="#0a6cff" stroke="#1e1e1e" stroke-width="0.55"/>
<path d="M329 396.85A44.1 44.1 0 0 0 306.95 402.76L311.2 410.12A35.6 35.6 0 0 1 329 405.35Z" fill="#0848ff" stroke="#1e1e1e" stroke-width="0.55"/>
<path d="M329 388.35A52.6 52.6 0 0 0 302.7 395.4L306.95 402.76A44.1 44.1 0 0 1 329 396.85Z" fill="#00b4ff" stroke="#1e1e1e" stroke-width="0.55"/>
<path d="M319.7 424.84A18.6 18.6 0 0 0 312.89 431.65L320.25 435.9A10.1 10.1 0 0 1 323.95 432.2Z" fill="#10b8ff" stroke="#1e1e1e" stroke-width="0.55"/>
<path d="M315.45 417.48A27.1 27.1 0 0 0 305.53 427.4L312.89 431.65A18.6 18.6 0 0 1 319.7 424.84Z" fill="#0060ff" stroke="#1e1e1e" stroke-width="0.55"/>
<path d="M311.2 410.12A35.6 35.6 0 0 0 298.17 423.15L305.53 427.4A27.1 27.1 0 0 1 315.45 417.48Z" fill="#0088ff" stroke="#1e1e1e" stroke-width="0.55"/>
<path d="M306.95 402.76A44.1 44.1 0 0 0 290.81 418.9L298.17 423.15A35.6 35.6 0 0 1 311.2 410.12Z" fill="#0090ff" stroke="#1e1e1e" stroke-width="0.55"/>
<path d="M302.7 395.4A52.6 52.6 0 0 0 283.45 414.65L290.81 418.9A44.1 44.1 0 0 1 306.95 402.76Z" fill="#0000d0" stroke="#1e1e1e" stroke-width="0.55"/>
<path d="M312.89 431.65A18.6 18.6 0 0 0 310.4 440.95L318.9 440.95A10.1 10.1 0 0 1 320.25 435.9Z" fill="#0010f0" stroke="#1e1e1e" stroke-width="0.55"/>
<path d="M305.53 427.4A27.1 27.1 0 0 0 301.9 440.95L310.4 440.95A18.6 18.6 0 0 1 312.89 431.65Z" fill="#0008ff" stroke="#1e1e1e" stroke-width="0.55"/>
<path d="M298.17 423.15A35.6 35.6 0 0 0 293.4 440.95L301.9 440.95A27.1 27.1 0 0 1 305.53 427.4Z" fill="#0060ff" stroke="#1e1e1e" stroke-width="0.55"/>
<path d="M290.81 418.9A44.1 44.1 0 0 0 284.9 440.95L293.4 440.95A35.6 35.6 0 0 1 298.17 423.15Z" fill="#00a8ff" stroke="#1e1e1e" stroke-width="0.55"/>
<path d="M283.45 414.65A52.6 52.6 0 0 0 276.4 440.95L284.9 440.95A44.1 44.1 0 0 1 290.81 418.9Z" fill="#0020ff" stroke="#1e1e1e" stroke-width="0.55"/>
<path d="M310.4 440.95A18.6 18.6 0 0 0 312.89 450.25L320.25 446A10.1 10.1 0 0 1 318.9 440.95Z" fill="#0000b8" stroke="#1e1e1e" stroke-width="0.55"/>
<path d="M301.9 440.95A27.1 27.1 0 0 0 305.53 454.5L312.89 450.25A18.6 18.6 0 0 1 310.4 440.95Z" fill="#0000b0" stroke="#1e1e1e" stroke-width="0.55"/>
<path d="M293.4 440.95A35.6 35.6 0 0 0 298.17 458.75L305.53 454.5A27.1 27.1 0 0 1 301.9 440.95Z" fill="#0088ff" stroke="#1e1e1e" stroke-width="0.55"/>
<path d="M284.9 440.95A44.1 44.1 0 0 0 290.81 463L298.17 458.75A35.6 35.6 0 0 1 293.4 440.95Z" fill="#10f0ff" stroke="#1e1e1e" stroke-width="0.55"/>
<path d="M276.4 440.95A52.6 52.6 0 0 0 283.45 467.25L290.81 463A44.1 44.1 0 0 1 284.9 440.95Z" fill="#50ffff" stroke="#1e1e1e" stroke-width="0.55"/>
<path d="M312.89 450.25A18.6 18.6 0 0 0 319.7 457.06L323.95 449.7A10.1 10.1 0 0 1 320.25 446Z" fill="#0000b0" stroke="#1e1e1e" stroke-width="0.55"/>
<path d="M305.53 454.5A27.1 27.1 0 0 0 315.45 464.42L319.7 457.06A18.6 18.6 0 0 1 312.89 450.25Z" fill="#0000a0" stroke="#1e1e1e" stroke-width="0.55"/>
<path d="M298.17 458.75A35.6 35.6 0 0 0 311.2 471.78L315.45 464.42A27.1 27.1 0 0 1 305.53 454.5Z" fill="#0000b0" stroke="#1e1e1e" stroke-width="0.55"/>
<path d="M290.81 463A44.1 44.1 0 0 0 306.95 479.14L311.2 471.78A35.6 35.6 0 0 1 298.17 458.75Z" fill="#0000b8" stroke="#1e1e1e" stroke-width="0.55"/>
<path d="M283.45 467.25A52.6 52.6 0 0 0 302.7 486.5L306.95 479.14A44.1 44.1 0 0 1 290.81 463Z" fill="#0000c8" stroke="#1e1e1e" stroke-width="0.55"/>
<path d="M319.7 457.06A18.6 18.6 0 0 0 329 459.55L329 451.05A10.1 10.1 0 0 1 323.95 449.7Z" fill="#0000f8" stroke="#1e1e1e" stroke-width="0.55"/>
<path d="M315.45 464.42A27.1 27.1 0 0 0 329 468.05L329 459.55A18.6 18.6 0 0 1 319.7 457.06Z" fill="#0008e8" stroke="#1e1e1e" stroke-width="0.55"/>
<path d="M311.2 471.78A35.6 35.6 0 0 0 329 476.55L329 468.05A27.1 27.1 0 0 1 315.45 464.42Z" fill="#0000ff" stroke="#1e1e1e" stroke-width="0.55"/>
<path d="M306.95 479.14A44.1 44.1 0 0 0 329 485.05L329 476.55A35.6 35.6 0 0 1 311.2 471.78Z" fill="#0040ff" stroke="#1e1e1e" stroke-width="0.55"/>
<path d="M302.7 486.5A52.6 52.6 0 0 0 329 493.55L329 485.05A44.1 44.1 0 0 1 306.95 479.14Z" fill="#000020" stroke="#1e1e1e" stroke-width="0.55"/>
<path d="M329 459.55A18.6 18.6 0 0 0 338.3 457.06L334.05 449.7A10.1 10.1 0 0 1 329 451.05Z" fill="#0050ff" stroke="#1e1e1e" stroke-width="0.55"/>
<path d="M329 468.05A27.1 27.1 0 0 0 342.55 464.42L338.3 457.06A18.6 18.6 0 0 1 329 459.55Z" fill="#1068d8" stroke="#1e1e1e" stroke-width="0.55"/>
<path d="M329 476.55A35.6 35.6 0 0 0 346.8 471.78L342.55 464.42A27.1 27.1 0 0 1 329 468.05Z" fill="#0060ff" stroke="#1e1e1e" stroke-width="0.55"/>
<path d="M329 485.05A44.1 44.1 0 0 0 351.05 479.14L346.8 471.78A35.6 35.6 0 0 1 329 476.55Z" fill="#00a8ff" stroke="#1e1e1e" stroke-width="0.55"/>
<path d="M329 493.55A52.6 52.6 0 0 0 355.3 486.5L351.05 479.14A44.1 44.1 0 0 1 329 485.05Z" fill="#0010ff" stroke="#1e1e1e" stroke-width="0.55"/>
<path d="M338.3 457.06A18.6 18.6 0 0 0 345.11 450.25L337.75 446A10.1 10.1 0 0 1 334.05 449.7Z" fill="#000060" stroke="#1e1e1e" stroke-width="0.55"/>
<path d="M342.55 464.42A27.1 27.1 0 0 0 352.47 454.5L345.11 450.25A18.6 18.6 0 0 1 338.3 457.06Z" fill="#000008" stroke="#1e1e1e" stroke-width="0.55"/>
<path d="M346.8 471.78A35.6 35.6 0 0 0 359.83 458.75L352.47 454.5A27.1 27.1 0 0 1 342.55 464.42Z" fill="#0000a0" stroke="#1e1e1e" stroke-width="0.55"/>
<path d="M351.05 479.14A44.1 44.1 0 0 0 367.19 463L359.83 458.75A35.6 35.6 0 0 1 346.8 471.78Z" fill="#0000e0" stroke="#1e1e1e" stroke-width="0.55"/>
<path d="M355.3 486.5A52.6 52.6 0 0 0 374.55 467.25L367.19 463A44.1 44.1 0 0 1 351.05 479.14Z" fill="#000000" stroke="#1e1e1e" stroke-width="0.55"/>
<path d="M345.11 450.25A18.6 18.6 0 0 0 347.6 440.95L339.1 440.95A10.1 10.1 0 0 1 337.75 446Z" fill="#0000a8" stroke="#1e1e1e" stroke-width="0.55"/>
<path d="M352.47 454.5A27.1 27.1 0 0 0 356.1 440.95L347.6 440.95A18.6 18.6 0 0 1 345.11 450.25Z" fill="#0000b0" stroke="#1e1e1e" stroke-width="0.55"/>
<path d="M359.83 458.75A35.6 35.6 0 0 0 364.6 440.95L356.1 440.95A27.1 27.1 0 0 1 352.47 454.5Z" fill="#000060" stroke="#1e1e1e" stroke-width="0.55"/>
<path d="M367.19 463A44.1 44.1 0 0 0 373.1 440.95L364.6 440.95A35.6 35.6 0 0 1 359.83 458.75Z" fill="#000040" stroke="#1e1e1e" stroke-width="0.55"/>
<path d="M374.55 467.25A52.6 52.6 0 0 0 381.6 440.95L373.1 440.95A44.1 44.1 0 0 1 367.19 463Z" fill="#000030" stroke="#1e1e1e" stroke-width="0.55"/>
</g>
<circle cx="329" cy="440.95" r="52.6" fill="none" stroke="#1e1e1e" stroke-width="0.6"/>
<circle cx="329" cy="440.95" r="10.1" fill="#fff" stroke="#1e1e1e" stroke-width="0.55"/>
<text x="327.65" y="378.3" font-size="12" text-anchor="middle" fill="#262626" stroke="#262626" stroke-width="0.28">anterior</text>
<text x="327.9" y="510.7" font-size="12" text-anchor="middle" fill="#262626" stroke="#262626" stroke-width="0.28">inferior</text>
<text x="265.9" y="441.75" font-size="12" text-anchor="middle" fill="#262626" stroke="#262626" stroke-width="0.28" transform="rotate(-90 265.9 441.75)">septal</text>
<text x="397.9" y="441.6" font-size="12" text-anchor="middle" fill="#262626" stroke="#262626" stroke-width="0.28" transform="rotate(-90 397.9 441.6)">lateral</text>
<g>
<path d="M568.48 441.8A18.68 18.68 0 0 0 565.98 432.46L558.46 436.8A10 10 0 0 1 559.8 441.8Z" fill="#d4d4ff" stroke="#1e1e1e" stroke-width="0.55"/>
<path d="M577.16 441.8A27.36 27.36 0 0 0 573.49 428.12L565.98 432.46A18.68 18.68 0 0 1 568.48 441.8Z" fill="#d4d4ff" stroke="#1e1e1e" stroke-width="0.55"/>
<path d="M585.84 441.8A36.04 36.04 0 0 0 581.01 423.78L573.49 428.12A27.36 27.36 0 0 1 577.16 441.8Z" fill="#ffd4d4" stroke="#1e1e1e" stroke-width="0.55"/>
<path d="M594.52 441.8A44.72 44.72 0 0 0 588.53 419.44L581.01 423.78A36.04 36.04 0 0 1 585.84 441.8Z" fill="#ffd4d4" stroke="#1e1e1e" stroke-width="0.55"/>
<path d="M603.2 441.8A53.4 53.4 0 0 0 596.05 415.1L588.53 419.44A44.72 44.72 0 0 1 594.52 441.8Z" fill="#ffa8a8" stroke="#1e1e1e" stroke-width="0.55"/>
<path d="M565.98 432.46A18.68 18.68 0 0 0 559.14 425.62L554.8 433.14A10 10 0 0 1 558.46 436.8Z" fill="#a8a8f8" stroke="#1e1e1e" stroke-width="0.55"/>
<path d="M573.49 428.12A27.36 27.36 0 0 0 563.48 418.11L559.14 425.62A18.68 18.68 0 0 1 565.98 432.46Z" fill="#d4d4ff" stroke="#1e1e1e" stroke-width="0.55"/>
<path d="M581.01 423.78A36.04 36.04 0 0 0 567.82 410.59L563.48 418.11A27.36 27.36 0 0 1 573.49 428.12Z" fill="#d4d4ff" stroke="#1e1e1e" stroke-width="0.55"/>
<path d="M588.53 419.44A44.72 44.72 0 0 0 572.16 403.07L567.82 410.59A36.04 36.04 0 0 1 581.01 423.78Z" fill="#d4d4ff" stroke="#1e1e1e" stroke-width="0.55"/>
<path d="M596.05 415.1A53.4 53.4 0 0 0 576.5 395.55L572.16 403.07A44.72 44.72 0 0 1 588.53 419.44Z" fill="#d4d4ff" stroke="#1e1e1e" stroke-width="0.55"/>
<path d="M559.14 425.62A18.68 18.68 0 0 0 549.8 423.12L549.8 431.8A10 10 0 0 1 554.8 433.14Z" fill="#7070e0" stroke="#1e1e1e" stroke-width="0.55"/>
<path d="M563.48 418.11A27.36 27.36 0 0 0 549.8 414.44L549.8 423.12A18.68 18.68 0 0 1 559.14 425.62Z" fill="#7070e8" stroke="#1e1e1e" stroke-width="0.55"/>
<path d="M567.82 410.59A36.04 36.04 0 0 0 549.8 405.76L549.8 414.44A27.36 27.36 0 0 1 563.48 418.11Z" fill="#d4d4ff" stroke="#1e1e1e" stroke-width="0.55"/>
<path d="M572.16 403.07A44.72 44.72 0 0 0 549.8 397.08L549.8 405.76A36.04 36.04 0 0 1 567.82 410.59Z" fill="#d4d4ff" stroke="#1e1e1e" stroke-width="0.55"/>
<path d="M576.5 395.55A53.4 53.4 0 0 0 549.8 388.4L549.8 397.08A44.72 44.72 0 0 1 572.16 403.07Z" fill="#d4d4ff" stroke="#1e1e1e" stroke-width="0.55"/>
<path d="M549.8 423.12A18.68 18.68 0 0 0 540.46 425.62L544.8 433.14A10 10 0 0 1 549.8 431.8Z" fill="#0810f8" stroke="#1e1e1e" stroke-width="0.55"/>
<path d="M549.8 414.44A27.36 27.36 0 0 0 536.12 418.11L540.46 425.62A18.68 18.68 0 0 1 549.8 423.12Z" fill="#2828f0" stroke="#1e1e1e" stroke-width="0.55"/>
<path d="M549.8 405.76A36.04 36.04 0 0 0 531.78 410.59L536.12 418.11A27.36 27.36 0 0 1 549.8 414.44Z" fill="#0000ff" stroke="#1e1e1e" stroke-width="0.55"/>
<path d="M549.8 397.08A44.72 44.72 0 0 0 527.44 403.07L531.78 410.59A36.04 36.04 0 0 1 549.8 405.76Z" fill="#0000ff" stroke="#1e1e1e" stroke-width="0.55"/>
<path d="M549.8 388.4A53.4 53.4 0 0 0 523.1 395.55L527.44 403.07A44.72 44.72 0 0 1 549.8 397.08Z" fill="#a8a8f8" stroke="#1e1e1e" stroke-width="0.55"/>
<path d="M540.46 425.62A18.68 18.68 0 0 0 533.62 432.46L541.14 436.8A10 10 0 0 1 544.8 433.14Z" fill="#d0d0f8" stroke="#1e1e1e" stroke-width="0.55"/>
<path d="M536.12 418.11A27.36 27.36 0 0 0 526.11 428.12L533.62 432.46A18.68 18.68 0 0 1 540.46 425.62Z" fill="#3030e8" stroke="#1e1e1e" stroke-width="0.55"/>
<path d="M531.78 410.59A36.04 36.04 0 0 0 518.59 423.78L526.11 428.12A27.36 27.36 0 0 1 536.12 418.11Z" fill="#0000f8" stroke="#1e1e1e" stroke-width="0.55"/>
<path d="M527.44 403.07A44.72 44.72 0 0 0 511.07 419.44L518.59 423.78A36.04 36.04 0 0 1 531.78 410.59Z" fill="#0000ff" stroke="#1e1e1e" stroke-width="0.55"/>
<path d="M523.1 395.55A53.4 53.4 0 0 0 503.55 415.1L511.07 419.44A44.72 44.72 0 0 1 527.44 403.07Z" fill="#d0d0ff" stroke="#1e1e1e" stroke-width="0.55"/>
<path d="M533.62 432.46A18.68 18.68 0 0 0 531.12 441.8L539.8 441.8A10 10 0 0 1 541.14 436.8Z" fill="#ffffff" stroke="#1e1e1e" stroke-width="0.55"/>
<path d="M526.11 428.12A27.36 27.36 0 0 0 522.44 441.8L531.12 441.8A18.68 18.68 0 0 1 533.62 432.46Z" fill="#ffffff" stroke="#1e1e1e" stroke-width="0.55"/>
<path d="M518.59 423.78A36.04 36.04 0 0 0 513.76 441.8L522.44 441.8A27.36 27.36 0 0 1 526.11 428.12Z" fill="#d4d4ff" stroke="#1e1e1e" stroke-width="0.55"/>
<path d="M511.07 419.44A44.72 44.72 0 0 0 505.08 441.8L513.76 441.8A36.04 36.04 0 0 1 518.59 423.78Z" fill="#d4d4ff" stroke="#1e1e1e" stroke-width="0.55"/>
<path d="M503.55 415.1A53.4 53.4 0 0 0 496.4 441.8L505.08 441.8A44.72 44.72 0 0 1 511.07 419.44Z" fill="#ffffff" stroke="#1e1e1e" stroke-width="0.55"/>
<path d="M531.12 441.8A18.68 18.68 0 0 0 533.62 451.14L541.14 446.8A10 10 0 0 1 539.8 441.8Z" fill="#ffffff" stroke="#1e1e1e" stroke-width="0.55"/>
<path d="M522.44 441.8A27.36 27.36 0 0 0 526.11 455.48L533.62 451.14A18.68 18.68 0 0 1 531.12 441.8Z" fill="#ffb0b0" stroke="#1e1e1e" stroke-width="0.55"/>
<path d="M513.76 441.8A36.04 36.04 0 0 0 518.59 459.82L526.11 455.48A27.36 27.36 0 0 1 522.44 441.8Z" fill="#d4d4ff" stroke="#1e1e1e" stroke-width="0.55"/>
<path d="M505.08 441.8A44.72 44.72 0 0 0 511.07 464.16L518.59 459.82A36.04 36.04 0 0 1 513.76 441.8Z" fill="#ffffff" stroke="#1e1e1e" stroke-width="0.55"/>
<path d="M496.4 441.8A53.4 53.4 0 0 0 503.55 468.5L511.07 464.16A44.72 44.72 0 0 1 505.08 441.8Z" fill="#ffd8d8" stroke="#1e1e1e" stroke-width="0.55"/>
<path d="M533.62 451.14A18.68 18.68 0 0 0 540.46 457.98L544.8 450.46A10 10 0 0 1 541.14 446.8Z" fill="#ffb0b0" stroke="#1e1e1e" stroke-width="0.55"/>
<path d="M526.11 455.48A27.36 27.36 0 0 0 536.12 465.49L540.46 457.98A18.68 18.68 0 0 1 533.62 451.14Z" fill="#ffb0b0" stroke="#1e1e1e" stroke-width="0.55"/>
<path d="M518.59 459.82A36.04 36.04 0 0 0 531.78 473.01L536.12 465.49A27.36 27.36 0 0 1 526.11 455.48Z" fill="#ffd8d8" stroke="#1e1e1e" stroke-width="0.55"/>
<path d="M511.07 464.16A44.72 44.72 0 0 0 527.44 480.53L531.78 473.01A36.04 36.04 0 0 1 518.59 459.82Z" fill="#ffffff" stroke="#1e1e1e" stroke-width="0.55"/>
<path d="M503.55 468.5A53.4 53.4 0 0 0 523.1 488.05L527.44 480.53A44.72 44.72 0 0 1 511.07 464.16Z" fill="#ffd8d8" stroke="#1e1e1e" stroke-width="0.55"/>
<path d="M540.46 457.98A18.68 18.68 0 0 0 549.8 460.48L549.8 451.8A10 10 0 0 1 544.8 450.46Z" fill="#ffd8d8" stroke="#1e1e1e" stroke-width="0.55"/>
<path d="M536.12 465.49A27.36 27.36 0 0 0 549.8 469.16L549.8 460.48A18.68 18.68 0 0 1 540.46 457.98Z" fill="#ffb0b0" stroke="#1e1e1e" stroke-width="0.55"/>
<path d="M531.78 473.01A36.04 36.04 0 0 0 549.8 477.84L549.8 469.16A27.36 27.36 0 0 1 536.12 465.49Z" fill="#ffd8d8" stroke="#1e1e1e" stroke-width="0.55"/>
<path d="M527.44 480.53A44.72 44.72 0 0 0 549.8 486.52L549.8 477.84A36.04 36.04 0 0 1 531.78 473.01Z" fill="#ffffff" stroke="#1e1e1e" stroke-width="0.55"/>
<path d="M523.1 488.05A53.4 53.4 0 0 0 549.8 495.2L549.8 486.52A44.72 44.72 0 0 1 527.44 480.53Z" fill="#ff7878" stroke="#1e1e1e" stroke-width="0.55"/>
<path d="M549.8 460.48A18.68 18.68 0 0 0 559.14 457.98L554.8 450.46A10 10 0 0 1 549.8 451.8Z" fill="#ffd8d8" stroke="#1e1e1e" stroke-width="0.55"/>
<path d="M549.8 469.16A27.36 27.36 0 0 0 563.48 465.49L559.14 457.98A18.68 18.68 0 0 1 549.8 460.48Z" fill="#ffd8d8" stroke="#1e1e1e" stroke-width="0.55"/>
<path d="M549.8 477.84A36.04 36.04 0 0 0 567.82 473.01L563.48 465.49A27.36 27.36 0 0 1 549.8 469.16Z" fill="#ffd8d8" stroke="#1e1e1e" stroke-width="0.55"/>
<path d="M549.8 486.52A44.72 44.72 0 0 0 572.16 480.53L567.82 473.01A36.04 36.04 0 0 1 549.8 477.84Z" fill="#ffd8d8" stroke="#1e1e1e" stroke-width="0.55"/>
<path d="M549.8 495.2A53.4 53.4 0 0 0 576.5 488.05L572.16 480.53A44.72 44.72 0 0 1 549.8 486.52Z" fill="#ffffff" stroke="#1e1e1e" stroke-width="0.55"/>
<path d="M559.14 457.98A18.68 18.68 0 0 0 565.98 451.14L558.46 446.8A10 10 0 0 1 554.8 450.46Z" fill="#d4d4ff" stroke="#1e1e1e" stroke-width="0.55"/>
<path d="M563.48 465.49A27.36 27.36 0 0 0 573.49 455.48L565.98 451.14A18.68 18.68 0 0 1 559.14 457.98Z" fill="#4c4c4c" stroke="#1e1e1e" stroke-width="0.55"/>
<path d="M567.82 473.01A36.04 36.04 0 0 0 581.01 459.82L573.49 455.48A27.36 27.36 0 0 1 563.48 465.49Z" fill="#ffd8d8" stroke="#1e1e1e" stroke-width="0.55"/>
<path d="M572.16 480.53A44.72 44.72 0 0 0 588.53 464.16L581.01 459.82A36.04 36.04 0 0 1 567.82 473.01Z" fill="#ff5050" stroke="#1e1e1e" stroke-width="0.55"/>
<path d="M576.5 488.05A53.4 53.4 0 0 0 596.05 468.5L588.53 464.16A44.72 44.72 0 0 1 572.16 480.53Z" fill="#4c4c4c" stroke="#1e1e1e" stroke-width="0.55"/>
<path d="M565.98 451.14A18.68 18.68 0 0 0 568.48 441.8L559.8 441.8A10 10 0 0 1 558.46 446.8Z" fill="#ffffff" stroke="#1e1e1e" stroke-width="0.55"/>
<path d="M573.49 455.48A27.36 27.36 0 0 0 577.16 441.8L568.48 441.8A18.68 18.68 0 0 1 565.98 451.14Z" fill="#d4d4ff" stroke="#1e1e1e" stroke-width="0.55"/>
<path d="M581.01 459.82A36.04 36.04 0 0 0 585.84 441.8L577.16 441.8A27.36 27.36 0 0 1 573.49 455.48Z" fill="#ff8080" stroke="#1e1e1e" stroke-width="0.55"/>
<path d="M588.53 464.16A44.72 44.72 0 0 0 594.52 441.8L585.84 441.8A36.04 36.04 0 0 1 581.01 459.82Z" fill="#ff8080" stroke="#1e1e1e" stroke-width="0.55"/>
<path d="M596.05 468.5A53.4 53.4 0 0 0 603.2 441.8L594.52 441.8A44.72 44.72 0 0 1 588.53 464.16Z" fill="#ff8080" stroke="#1e1e1e" stroke-width="0.55"/>
</g>
<circle cx="549.8" cy="441.8" r="53.4" fill="none" stroke="#1e1e1e" stroke-width="0.6"/>
<circle cx="549.8" cy="441.8" r="10" fill="#fff" stroke="#1e1e1e" stroke-width="0.55"/>
<text x="548.7" y="378.3" font-size="12" text-anchor="middle" fill="#262626" stroke="#262626" stroke-width="0.28">anterior</text>
<text x="548.65" y="510.9" font-size="12" text-anchor="middle" fill="#262626" stroke="#262626" stroke-width="0.28">inferior</text>
<text x="486.9" y="441.75" font-size="12" text-anchor="middle" fill="#262626" stroke="#262626" stroke-width="0.28" transform="rotate(-90 486.9 441.75)">septal</text>
<text x="618.7" y="441.75" font-size="12" text-anchor="middle" fill="#262626" stroke="#262626" stroke-width="0.28" transform="rotate(-90 618.7 441.75)">lateral</text>
<rect x="205" y="45" width="8" height="124.8" fill="url(#ghot)"/>
<text x="209.1" y="37.6" font-size="12" text-anchor="middle" fill="#262626" stroke="#262626" stroke-width="0.28">%</text>
<text x="224.4" y="54.02" font-size="12" text-anchor="middle" fill="#262626" stroke="#262626" stroke-width="0.28">-30</text>
<text x="224.4" y="73.28" font-size="12" text-anchor="middle" fill="#262626" stroke="#262626" stroke-width="0.28">-25</text>
<text x="224.4" y="92.54" font-size="12" text-anchor="middle" fill="#262626" stroke="#262626" stroke-width="0.28">-20</text>
<text x="224.4" y="111.8" font-size="12" text-anchor="middle" fill="#262626" stroke="#262626" stroke-width="0.28">-15</text>
<text x="224.4" y="131.06" font-size="12" text-anchor="middle" fill="#262626" stroke="#262626" stroke-width="0.28">-10</text>
<text x="224.4" y="150.32" font-size="12" text-anchor="middle" fill="#262626" stroke="#262626" stroke-width="0.28">-5</text>
<text x="224.4" y="169.58" font-size="12" text-anchor="middle" fill="#262626" stroke="#262626" stroke-width="0.28">0</text>
<rect x="412.2" y="44.8" width="8.2" height="125.5" fill="url(#gblue)"/>
<text x="416.3" y="38.3" font-size="12" text-anchor="middle" fill="#262626" stroke="#262626" stroke-width="0.28">1/s</text>
<text x="431" y="53.12" font-size="12" text-anchor="middle" fill="#262626" stroke="#262626" stroke-width="0.28">1.5</text>
<text x="431" y="91.62" font-size="12" text-anchor="middle" fill="#262626" stroke="#262626" stroke-width="0.28">1.0</text>
<text x="431" y="130.12" font-size="12" text-anchor="middle" fill="#262626" stroke="#262626" stroke-width="0.28">0.5</text>
<text x="431" y="168.62" font-size="12" text-anchor="middle" fill="#262626" stroke="#262626" stroke-width="0.28">0</text>
<rect x="633.2" y="44.2" width="8" height="125.9" fill="url(#grb)"/>
<text x="636.9" y="37.5" font-size="12" text-anchor="middle" fill="#262626" stroke="#262626" stroke-width="0.28">Early</text>
<text x="636.9" y="183.2" font-size="12" text-anchor="middle" fill="#262626" stroke="#262626" stroke-width="0.28">Late</text>
<text x="654.6" y="51.82" font-size="12" text-anchor="middle" fill="#262626" stroke="#262626" stroke-width="0.28">200</text>
<text x="654.6" y="81.32" font-size="12" text-anchor="middle" fill="#262626" stroke="#262626" stroke-width="0.28">100</text>
<text x="654.6" y="110.82" font-size="12" text-anchor="middle" fill="#262626" stroke="#262626" stroke-width="0.28">0</text>
<text x="654.6" y="140.32" font-size="12" text-anchor="middle" fill="#262626" stroke="#262626" stroke-width="0.28">-100</text>
<text x="654.6" y="169.82" font-size="12" text-anchor="middle" fill="#262626" stroke="#262626" stroke-width="0.28">-200</text>
<text x="682.3" y="107.2" font-size="12" text-anchor="middle" fill="#262626" stroke="#262626" stroke-width="0.28" transform="rotate(-90 682.3 107.2)">time delay (ms)</text>
<rect x="205" y="386.7" width="8" height="124.8" fill="url(#ghot)"/>
<text x="209.1" y="379.3" font-size="12" text-anchor="middle" fill="#262626" stroke="#262626" stroke-width="0.28">%</text>
<text x="224.4" y="395.72" font-size="12" text-anchor="middle" fill="#262626" stroke="#262626" stroke-width="0.28">-30</text>
<text x="224.4" y="414.98" font-size="12" text-anchor="middle" fill="#262626" stroke="#262626" stroke-width="0.28">-25</text>
<text x="224.4" y="434.24" font-size="12" text-anchor="middle" fill="#262626" stroke="#262626" stroke-width="0.28">-20</text>
<text x="224.4" y="453.5" font-size="12" text-anchor="middle" fill="#262626" stroke="#262626" stroke-width="0.28">-15</text>
<text x="224.4" y="472.76" font-size="12" text-anchor="middle" fill="#262626" stroke="#262626" stroke-width="0.28">-10</text>
<text x="224.4" y="492.02" font-size="12" text-anchor="middle" fill="#262626" stroke="#262626" stroke-width="0.28">-5</text>
<text x="224.4" y="511.28" font-size="12" text-anchor="middle" fill="#262626" stroke="#262626" stroke-width="0.28">0</text>
<rect x="412.2" y="386.8" width="8.2" height="125.5" fill="url(#gblue)"/>
<text x="416.3" y="380.3" font-size="12" text-anchor="middle" fill="#262626" stroke="#262626" stroke-width="0.28">1/s</text>
<text x="431" y="395.12" font-size="12" text-anchor="middle" fill="#262626" stroke="#262626" stroke-width="0.28">1.5</text>
<text x="431" y="433.62" font-size="12" text-anchor="middle" fill="#262626" stroke="#262626" stroke-width="0.28">1.0</text>
<text x="431" y="472.12" font-size="12" text-anchor="middle" fill="#262626" stroke="#262626" stroke-width="0.28">0.5</text>
<text x="431" y="510.62" font-size="12" text-anchor="middle" fill="#262626" stroke="#262626" stroke-width="0.28">0</text>
<rect x="633.2" y="378.6" width="8" height="125.9" fill="url(#grb)"/>
<text x="636.9" y="371.9" font-size="12" text-anchor="middle" fill="#262626" stroke="#262626" stroke-width="0.28">Early</text>
<text x="636.9" y="517.6" font-size="12" text-anchor="middle" fill="#262626" stroke="#262626" stroke-width="0.28">Late</text>
<text x="654.6" y="386.22" font-size="12" text-anchor="middle" fill="#262626" stroke="#262626" stroke-width="0.28">200</text>
<text x="654.6" y="415.72" font-size="12" text-anchor="middle" fill="#262626" stroke="#262626" stroke-width="0.28">100</text>
<text x="654.6" y="445.22" font-size="12" text-anchor="middle" fill="#262626" stroke="#262626" stroke-width="0.28">0</text>
<text x="654.6" y="474.72" font-size="12" text-anchor="middle" fill="#262626" stroke="#262626" stroke-width="0.28">-100</text>
<text x="654.6" y="504.22" font-size="12" text-anchor="middle" fill="#262626" stroke="#262626" stroke-width="0.28">-200</text>
<text x="682.3" y="441.6" font-size="12" text-anchor="middle" fill="#262626" stroke="#262626" stroke-width="0.28" transform="rotate(-90 682.3 441.6)">time delay (ms)</text>
<path d="M63.4 210.8V306.8H196.9" fill="none" stroke="#262626" stroke-width="1.3"/>
<path d="M63.4 210.8h2.2M63.4 226.85h2.2M63.4 242.9h2.2M63.4 258.95h2.2M63.4 275h2.2M63.4 291.05h2.2M95.68 306.8v-2.2M127.96 306.8v-2.2M160.24 306.8v-2.2M192.52 306.8v-2.2" fill="none" stroke="#262626" stroke-width="1"/>
<text x="57.9" y="214.82" font-size="12" text-anchor="end" fill="#262626" stroke="#262626" stroke-width="0.28">20</text>
<text x="57.9" y="247.02" font-size="12" text-anchor="end" fill="#262626" stroke="#262626" stroke-width="0.28">0</text>
<text x="57.9" y="279.12" font-size="12" text-anchor="end" fill="#262626" stroke="#262626" stroke-width="0.28">-20</text>
<text x="57.9" y="311.12" font-size="12" text-anchor="end" fill="#262626" stroke="#262626" stroke-width="0.28">-40</text>
<text x="57.8" y="202.1" font-size="12" text-anchor="middle" fill="#262626" stroke="#262626" stroke-width="0.28">%</text>
<text x="64.2" y="324.9" font-size="12" text-anchor="middle" fill="#262626" stroke="#262626" stroke-width="0.28">0</text>
<text x="189.9" y="324.9" font-size="12" text-anchor="middle" fill="#262626" stroke="#262626" stroke-width="0.28">800</text>
<text x="134.9" y="334.3" font-size="12" text-anchor="middle" fill="#262626" stroke="#262626" stroke-width="0.28">time (ms)</text>
<path d="M63.4 242.9C64.75 243.57 68.78 245.9 71.47 246.91C74.16 247.93 77.74 248.76 79.54 249C81.34 249.24 80.4 248.57 82.28 248.36C84.17 248.14 87.66 247.98 90.84 247.72C94.01 247.45 98.1 247.39 101.33 246.75C104.56 246.11 107.3 245.07 110.21 243.86C113.11 242.66 115.8 241.24 118.76 239.53C121.72 237.82 125.16 235.25 127.96 233.59C130.76 231.93 133.39 230.06 135.55 229.58C137.7 229.1 138.91 229.82 140.87 230.7C142.84 231.58 145.18 233.59 147.33 234.88C149.48 236.16 151.63 237.34 153.78 238.41C155.94 239.48 157.87 240.44 160.24 241.3C162.61 242.15 166.7 243.17 167.99 243.54" fill="none" stroke="#8c8c8c" stroke-width="1.3" stroke-linecap="butt" stroke-linejoin="round" stroke-dasharray="8.5 4.5" clip-path="url(#c1)"/>
<circle cx="72.12" cy="252.37" r="2.3" fill="#d95319"/>
<path d="M63.4 242.9C64.07 243.1 66.09 243.44 67.44 244.1C68.78 244.77 69.45 245.75 71.47 246.87C73.49 248 76.26 248.94 79.54 250.84C82.82 252.75 87.66 256.29 91.16 258.31C94.66 260.33 96.76 261.62 100.52 262.96C104.29 264.3 110.26 265.99 113.76 266.33C117.25 266.68 119.14 266.15 121.5 265.05C123.87 263.95 126.08 261.44 127.96 259.75C129.84 258.07 130.92 256.94 132.8 254.94C134.69 252.93 137.21 249.53 139.26 247.72C141.3 245.9 141.57 245.47 145.07 244.02C148.57 242.58 155.26 240.28 160.24 239.05C165.22 237.82 171.16 237.12 174.93 236.64C178.69 236.16 180.17 236.19 182.84 236.16C185.5 236.13 188.57 236.27 190.91 236.48C193.25 236.69 195.88 237.28 196.88 237.44" fill="none" stroke="#000" stroke-width="1.25" stroke-linecap="round" stroke-linejoin="round" clip-path="url(#c1)"/>
<path d="M63.4 242.9C64.07 243.13 66.09 243.51 67.44 244.26C68.78 245.01 69.45 246.13 71.47 247.4C73.49 248.68 76.26 249.58 79.54 251.9C82.82 254.23 87.66 258.71 91.16 261.36C94.66 264 97.08 265.91 100.52 267.78C103.97 269.65 108.4 271.63 111.82 272.59C115.24 273.56 118.33 274.49 121.02 273.56C123.71 272.62 125.46 269.94 127.96 266.98C130.46 264.01 133.61 258.15 136.03 255.74C138.45 253.33 140.06 252.8 142.49 252.53C144.91 252.26 148.13 253.65 150.56 254.13C152.98 254.62 154.32 256.22 157.01 255.42C159.7 254.62 163.47 251.41 166.7 249.32C169.92 247.23 173.15 244.72 176.38 242.9C179.61 241.08 182.65 238.89 186.06 238.41C189.48 237.92 195.08 239.74 196.88 240.01" fill="none" stroke="#000" stroke-width="1.25" stroke-linecap="round" stroke-linejoin="round" clip-path="url(#c1)"/>
<path d="M63.4 242.9C64.07 243.14 66.09 243.55 67.44 244.34C68.78 245.14 69.45 246.32 71.47 247.67C73.49 249.02 76.26 250.02 79.54 252.43C82.82 254.85 87.66 259.47 91.16 262.16C94.66 264.85 96.76 266.63 100.52 268.58C104.29 270.53 110.26 273.48 113.76 273.88C117.25 274.28 118.87 273.21 121.5 270.99C124.14 268.77 126.88 263.5 129.57 260.56C132.26 257.61 134.95 254.59 137.64 253.33C140.33 252.08 143.02 252.74 145.71 253.01C148.4 253.28 150.29 255.42 153.78 254.94C157.28 254.46 162.93 252 166.7 250.12C170.46 248.25 173.15 245.44 176.38 243.7C179.61 241.96 182.65 239.96 186.06 239.69C189.48 239.42 195.08 241.7 196.88 242.1" fill="none" stroke="#000" stroke-width="1.25" stroke-linecap="round" stroke-linejoin="round" clip-path="url(#c1)"/>
<path d="M63.4 242.9C64.07 243.15 66.09 243.59 67.44 244.42C68.78 245.26 69.45 246.51 71.47 247.93C73.49 249.35 76.26 250.19 79.54 252.96C82.82 255.74 87.66 261.3 91.16 264.57C94.66 267.84 96.7 270.1 100.52 272.59C104.34 275.08 110.31 279.09 114.08 279.49C117.85 279.9 120.27 277.89 123.12 275C125.97 272.11 128.5 265.64 131.19 262.16C133.88 258.68 136.57 255.34 139.26 254.13C141.95 252.93 144.37 254.4 147.33 254.94C150.29 255.47 153.51 258.01 157.01 257.35C160.51 256.68 164.81 253.07 168.31 250.93C171.81 248.78 175.03 246.11 177.99 244.5C180.95 242.9 182.92 241.43 186.06 241.3C189.21 241.16 195.08 243.3 196.88 243.7" fill="none" stroke="#000" stroke-width="1.25" stroke-linecap="round" stroke-linejoin="round" clip-path="url(#c1)"/>
<path d="M63.4 242.9C64.07 243.17 66.09 243.62 67.44 244.5C68.78 245.39 69.45 246.7 71.47 248.2C73.49 249.69 76.26 250.5 79.54 253.49C82.82 256.49 87.66 262.72 91.16 266.17C94.66 269.62 96.7 271.66 100.52 274.2C104.34 276.74 110.31 280.88 114.08 281.42C117.85 281.96 120.13 280.08 123.12 277.41C126.1 274.73 129.17 268.85 132 265.37C134.82 261.89 137.24 258.01 140.06 256.54C142.89 255.07 145.85 256.01 148.94 256.54C152.04 257.08 155.13 260.42 158.63 259.75C162.12 259.08 166.43 254.8 169.92 252.53C173.42 250.26 176.65 247.72 179.61 246.11C182.57 244.51 184.8 243.17 187.68 242.9C190.56 242.63 195.34 244.24 196.88 244.5" fill="none" stroke="#000" stroke-width="1.25" stroke-linecap="round" stroke-linejoin="round" clip-path="url(#c1)"/>
<path d="M63.4 242.9C64.07 243.17 66.09 243.62 67.44 244.5C68.78 245.39 69.45 246.7 71.47 248.2C73.49 249.69 76.26 250.23 79.54 253.49C82.82 256.76 87.66 263.93 91.16 267.78C94.66 271.63 96.11 273.74 100.52 276.61C104.93 279.47 113.33 284.68 117.63 284.95C121.93 285.22 123.55 281.74 126.35 278.21C129.14 274.68 131.73 267.38 134.42 263.76C137.11 260.15 139.53 257.48 142.49 256.54C145.44 255.61 148.67 258.28 152.17 258.15C155.67 258.01 159.7 257.48 163.47 255.74C167.23 254 171.27 249.86 174.77 247.72C178.26 245.57 180.76 243.3 184.45 242.9C188.14 242.5 194.81 244.91 196.88 245.31" fill="none" stroke="#000" stroke-width="1.25" stroke-linecap="round" stroke-linejoin="round" clip-path="url(#c1)"/>
<path d="M63.4 242.9C64.07 243.18 66.09 243.66 67.44 244.59C68.78 245.51 69.45 246.89 71.47 248.46C73.49 250.03 76.26 250.67 79.54 254.02C82.82 257.38 87.66 264.55 91.16 268.58C94.66 272.61 95.87 275.08 100.52 278.21C105.18 281.34 114.51 287.09 119.08 287.36C123.66 287.63 125.14 283.48 127.96 279.81C130.78 276.15 133.34 268.85 136.03 265.37C138.72 261.89 141.14 259.75 144.1 258.95C147.06 258.15 150.29 261.09 153.78 260.56C157.28 260.02 161.58 258.15 165.08 255.74C168.58 253.33 171.54 249.05 174.77 246.11C177.99 243.17 181.49 239.56 184.45 238.09C187.41 236.61 190.45 237.15 192.52 237.28C194.59 237.42 196.15 238.62 196.88 238.89" fill="none" stroke="#000" stroke-width="1.25" stroke-linecap="round" stroke-linejoin="round" clip-path="url(#c1)"/>
<path d="M63.4 242.9C64.07 243.19 66.09 243.69 67.44 244.67C68.78 245.64 69.45 247.08 71.47 248.73C73.49 250.37 76.26 250.98 79.54 254.55C82.82 258.13 87.66 265.84 91.16 270.19C94.66 274.53 95.55 277.27 100.52 280.62C105.5 283.96 116.18 289.85 121.02 290.25C125.86 290.65 126.8 286.37 129.57 283.02C132.34 279.68 134.95 273.39 137.64 270.19C140.33 266.98 142.75 264.7 145.71 263.76C148.67 262.83 151.9 265.37 155.4 264.57C158.89 263.76 163.2 261.22 166.7 258.95C170.19 256.68 173.15 253.06 176.38 250.93C179.61 248.79 182.65 246.65 186.06 246.11C189.48 245.58 195.08 247.45 196.88 247.72" fill="none" stroke="#000" stroke-width="1.25" stroke-linecap="round" stroke-linejoin="round" clip-path="url(#c1)"/>
<path d="M63.4 242.9C64.07 243.21 66.09 243.73 67.44 244.75C68.78 245.76 69.45 247.27 71.47 248.99C73.49 250.71 76.26 251.28 79.54 255.08C82.82 258.88 87.66 267.4 91.16 271.79C94.66 276.18 96.06 278.5 100.52 281.42C104.99 284.34 113.65 288.75 117.95 289.28C122.26 289.82 123.47 287.55 126.35 284.63C129.22 281.71 132.26 275.54 135.22 271.79C138.18 268.05 141.01 263.63 144.1 262.16C147.19 260.69 150.29 263.76 153.78 262.96C157.28 262.16 161.32 259.62 165.08 257.35C168.85 255.07 172.88 250.93 176.38 249.32C179.88 247.71 182.65 247.72 186.06 247.72C189.48 247.72 195.08 249.05 196.88 249.32" fill="none" stroke="#000" stroke-width="1.25" stroke-linecap="round" stroke-linejoin="round" clip-path="url(#c1)"/>
<path d="M63.4 242.9C64.07 243.23 66.09 243.8 67.44 244.91C68.78 246.01 69.45 247.65 71.47 249.52C73.49 251.39 76.26 251.76 79.54 256.14C82.82 260.52 87.66 270.52 91.16 275.8C94.66 281.09 96.7 283.93 100.52 287.84C104.34 291.75 110.18 298.3 114.08 299.24C117.98 300.17 120.29 296.96 123.92 293.46C127.56 289.95 131.89 282.49 135.87 278.21C139.85 273.93 143.8 270.32 147.81 267.78C151.82 265.24 156.23 264.7 159.92 262.96C163.6 261.22 166.64 259.22 169.92 257.35C173.21 255.47 176.38 253.07 179.61 251.73C182.84 250.39 186.41 249.59 189.29 249.32C192.17 249.05 195.61 249.99 196.88 250.12" fill="none" stroke="#000" stroke-width="1.25" stroke-linecap="round" stroke-linejoin="round" clip-path="url(#c1)"/>
<path d="M63.4 242.9C64.07 243.22 66.09 243.77 67.44 244.83C68.78 245.89 69.45 247.46 71.47 249.26C73.49 251.05 76.26 251.45 79.54 255.61C82.82 259.77 87.66 268.69 91.16 274.2C94.66 279.7 96.7 284.15 100.52 288.64C104.34 293.14 110.18 299.96 114.08 301.16C117.98 302.37 120.29 299.02 123.92 295.87C127.56 292.71 131.89 286.37 135.87 282.22C139.85 278.08 143.8 273.8 147.81 270.99C151.82 268.18 156.23 267.38 159.92 265.37C163.6 263.36 166.64 260.96 169.92 258.95C173.21 256.94 176.38 254.67 179.61 253.33C182.84 252 186.41 251.19 189.29 250.93C192.17 250.66 195.61 251.59 196.88 251.73" fill="none" stroke="#000" stroke-width="1.25" stroke-linecap="round" stroke-linejoin="round" clip-path="url(#c1)"/>
<path d="M63.4 242.9C64.07 243.11 66.09 243.48 67.44 244.18C68.78 244.89 69.45 245.94 71.47 247.14C73.49 248.34 76.26 249.27 79.54 251.37C82.82 253.48 87.66 257.42 91.16 259.75C94.66 262.09 97.08 263.76 100.52 265.37C103.97 266.98 108.59 268.98 111.82 269.38C115.05 269.78 116.93 269.78 119.89 267.78C122.85 265.77 126.61 260.02 129.57 257.35C132.53 254.67 134.95 252.8 137.64 251.73C140.33 250.66 143.02 250.79 145.71 250.93C148.4 251.06 150.56 253.06 153.78 252.53C157.01 252 161.32 249.59 165.08 247.72C168.85 245.84 172.88 242.9 176.38 241.3C179.88 239.69 182.65 238.35 186.06 238.09C189.48 237.82 195.08 239.42 196.88 239.69" fill="none" stroke="#000" stroke-width="1.25" stroke-linecap="round" stroke-linejoin="round" clip-path="url(#c1)"/>
<circle cx="113.76" cy="266.33" r="2.3" fill="#d95319"/>
<circle cx="121.02" cy="273.56" r="2.3" fill="#d95319"/>
<circle cx="113.76" cy="273.88" r="2.3" fill="#d95319"/>
<circle cx="114.08" cy="279.49" r="2.3" fill="#d95319"/>
<circle cx="114.08" cy="281.42" r="2.3" fill="#d95319"/>
<circle cx="117.63" cy="284.95" r="2.3" fill="#d95319"/>
<circle cx="119.08" cy="287.36" r="2.3" fill="#d95319"/>
<circle cx="121.02" cy="290.25" r="2.3" fill="#d95319"/>
<circle cx="117.95" cy="289.28" r="2.3" fill="#d95319"/>
<circle cx="114.08" cy="299.24" r="2.3" fill="#d95319"/>
<circle cx="114.08" cy="301.16" r="2.3" fill="#d95319"/>
<path d="M270.9 210.3V306.5H405" fill="none" stroke="#262626" stroke-width="1.3"/>
<path d="M270.9 210.3h2.2M270.9 226.35h2.2M270.9 242.4h2.2M270.9 258.45h2.2M270.9 274.5h2.2M270.9 290.55h2.2M303.58 306.5v-2.2M335.76 306.5v-2.2M367.94 306.5v-2.2M400.12 306.5v-2.2" fill="none" stroke="#262626" stroke-width="1"/>
<text x="266.1" y="215.42" font-size="12" text-anchor="end" fill="#262626" stroke="#262626" stroke-width="0.28">20</text>
<text x="266.1" y="247.12" font-size="12" text-anchor="end" fill="#262626" stroke="#262626" stroke-width="0.28">0</text>
<text x="266.1" y="279.02" font-size="12" text-anchor="end" fill="#262626" stroke="#262626" stroke-width="0.28">-20</text>
<text x="266.1" y="311.32" font-size="12" text-anchor="end" fill="#262626" stroke="#262626" stroke-width="0.28">-40</text>
<text x="265.6" y="202.1" font-size="12" text-anchor="middle" fill="#262626" stroke="#262626" stroke-width="0.28">%</text>
<text x="272" y="324.3" font-size="12" text-anchor="middle" fill="#262626" stroke="#262626" stroke-width="0.28">0</text>
<text x="397.4" y="324.3" font-size="12" text-anchor="middle" fill="#262626" stroke="#262626" stroke-width="0.28">800</text>
<text x="342.6" y="334.3" font-size="12" text-anchor="middle" fill="#262626" stroke="#262626" stroke-width="0.28">time (ms)</text>
<path d="M271.4 242.4C272.74 242.24 276.76 241.84 279.44 241.44C282.13 241.04 285.43 240.47 287.49 239.99C289.55 239.51 290.36 238.39 291.83 238.55C293.31 238.71 294.44 239.08 296.34 240.96C298.24 242.83 301.25 247.43 303.26 249.78C305.27 252.14 306.21 253.9 308.41 255.08C310.61 256.26 314.09 256.71 316.45 256.85C318.81 256.98 320.37 257.22 322.57 255.88C324.77 254.54 327.31 252.19 329.65 248.82C331.98 245.45 334.53 239.48 336.56 235.66C338.6 231.83 340.1 228.65 341.87 225.87C343.64 223.09 345.74 220.36 347.18 218.97C348.63 217.58 349.25 217.23 350.56 217.52C351.88 217.82 353.59 218.75 355.07 220.73C356.54 222.71 357.96 226.62 359.41 229.4C360.86 232.18 362.01 235.79 363.76 237.42C365.5 239.06 367.67 239.06 369.87 239.19C372.07 239.32 375.13 238.36 376.95 238.23C378.77 238.09 380.17 238.36 380.81 238.39" fill="none" stroke="#8c8c8c" stroke-width="1.3" stroke-linecap="butt" stroke-linejoin="round" stroke-dasharray="8.5 4.5" clip-path="url(#c2)"/>
<circle cx="369.39" cy="247.86" r="2.3" fill="#ff0000"/>
<path d="M271.4 242.4C272.47 242.8 275.42 243.2 277.84 244.81C280.25 246.41 282.8 248.15 285.88 252.03C288.96 255.91 293.15 262.46 296.34 268.08C299.53 273.7 302.11 280.44 305.03 285.74C307.95 291.03 310.66 296.41 313.88 299.86C317.1 303.31 320.55 306.17 324.34 306.44C328.12 306.71 332.49 303.74 336.56 301.46C340.64 299.19 344.98 295.87 348.79 292.8C352.6 289.72 355.6 286.54 359.41 283.01C363.22 279.48 367.86 275.09 371.64 271.61C375.42 268.13 378.96 265.41 382.1 262.14C385.24 258.88 387.73 255.05 390.47 252.03C393.2 249.01 396.18 245.88 398.51 244C400.84 242.13 403.47 241.33 404.46 240.8" fill="none" stroke="#000" stroke-width="1.25" stroke-linecap="round" stroke-linejoin="round" clip-path="url(#c2)"/>
<path d="M271.4 242.4C272.47 242.8 275.69 243.47 277.84 244.81C279.98 246.15 281.32 247.08 284.27 250.43C287.22 253.77 292.05 259.79 295.53 264.87C299.02 269.95 302.24 276.37 305.19 280.92C308.14 285.47 310.82 289.91 313.23 292.16C315.65 294.4 316.67 294.03 319.67 294.4C322.67 294.78 327.26 296.73 331.25 294.4C335.25 292.07 340.56 283.65 343.64 280.44C346.73 277.23 347.05 277.47 349.76 275.14C352.47 272.81 356.33 269.52 359.89 266.48C363.46 263.43 367.4 259.65 371.16 256.85C374.91 254.04 379.2 251.12 382.42 249.62C385.64 248.12 387.78 249.06 390.47 247.86C393.15 246.65 396.18 243.84 398.51 242.4C400.84 240.96 403.47 239.72 404.46 239.19" fill="none" stroke="#000" stroke-width="1.25" stroke-linecap="round" stroke-linejoin="round" clip-path="url(#c2)"/>
<path d="M271.4 242.4C272.47 242.72 275.69 243.26 277.84 244.33C279.98 245.4 281.32 246.2 284.27 248.82C287.22 251.44 291.51 256.04 295.53 260.06C299.56 264.07 303.9 269.52 308.41 272.89C312.91 276.27 318.81 279.34 322.57 280.28C326.32 281.21 328.2 279.61 330.93 278.51C333.67 277.42 336.48 275.17 338.98 273.7C341.47 272.23 343.22 271.42 345.9 269.69C348.58 267.95 351.39 265.94 355.07 263.26C358.74 260.59 363.65 256.58 367.94 253.63C372.23 250.69 377.06 247.56 380.81 245.61C384.57 243.66 386.52 243.26 390.47 241.92C394.41 240.58 402.13 238.31 404.46 237.59" fill="none" stroke="#000" stroke-width="1.25" stroke-linecap="round" stroke-linejoin="round" clip-path="url(#c2)"/>
<path d="M271.4 242.4C272.47 242.72 275.69 243.39 277.84 244.33C279.98 245.26 281.32 245.66 284.27 248.02C287.22 250.37 291.51 254.84 295.53 258.45C299.56 262.06 303.9 266.48 308.41 269.69C312.91 272.89 318.54 276.64 322.57 277.71C326.59 278.78 328.73 276.64 332.54 276.11C336.35 275.57 340.86 275.14 345.41 274.5C349.97 273.86 355.6 274.39 359.89 272.25C364.19 270.11 367.4 265.3 371.16 261.66C374.91 258.02 379.2 252.32 382.42 250.43C385.64 248.53 387.78 251.33 390.47 250.26C393.15 249.19 396.18 245.58 398.51 244C400.84 242.43 403.47 241.33 404.46 240.8" fill="none" stroke="#000" stroke-width="1.25" stroke-linecap="round" stroke-linejoin="round" clip-path="url(#c2)"/>
<path d="M271.4 242.4C272.47 242.67 275.69 243.2 277.84 244C279.98 244.81 281.32 245.07 284.27 247.22C287.22 249.36 291.51 253.37 295.53 256.85C299.56 260.32 303.9 264.9 308.41 268.08C312.91 271.26 318.54 275.41 322.57 275.94C326.59 276.48 329.27 272.87 332.54 271.29C335.81 269.71 339.41 267.71 342.2 266.48C344.98 265.24 346.33 265.51 349.28 263.91C352.23 262.3 356.25 259.09 359.89 256.85C363.54 254.6 367.4 252.3 371.16 250.43C374.91 248.55 379.2 247.03 382.42 245.61C385.64 244.19 386.79 243.39 390.47 241.92C394.14 240.45 402.13 237.64 404.46 236.78" fill="none" stroke="#000" stroke-width="1.25" stroke-linecap="round" stroke-linejoin="round" clip-path="url(#c2)"/>
<path d="M271.4 242.4C272.47 242.67 275.69 243.2 277.84 244C279.98 244.81 281.32 245.34 284.27 247.22C287.22 249.09 291.51 252.3 295.53 255.24C299.56 258.18 303.9 262.44 308.41 264.87C312.91 267.3 318.54 269.18 322.57 269.85C326.59 270.51 328.73 269.31 332.54 268.88C336.35 268.45 340.86 267.84 345.41 267.28C349.97 266.72 355.87 266.98 359.89 265.51C363.92 264.04 366.33 260.7 369.55 258.45C372.77 256.2 375.72 253.8 379.2 252.03C382.69 250.26 387.25 249.46 390.47 247.86C393.68 246.25 396.18 243.84 398.51 242.4C400.84 240.96 403.47 239.72 404.46 239.19" fill="none" stroke="#000" stroke-width="1.25" stroke-linecap="round" stroke-linejoin="round" clip-path="url(#c2)"/>
<path d="M271.4 242.4C272.47 242.61 275.69 243.02 277.84 243.68C279.98 244.35 281.32 244.75 284.27 246.41C287.22 248.07 291.51 251.09 295.53 253.63C299.56 256.18 303.9 259.55 308.41 261.66C312.91 263.77 318.54 266.05 322.57 266.31C326.59 266.58 329.54 264.58 332.54 263.26C335.55 261.95 337.8 259.76 340.59 258.45C343.38 257.14 346.06 256.47 349.28 255.4C352.49 254.33 355.9 252.78 359.89 252.03C363.89 251.28 369.23 251.98 373.25 250.91C377.27 249.84 380.46 246.55 384.03 245.61C387.6 244.67 391.24 246.36 394.65 245.29C398.06 244.22 402.83 240.21 404.46 239.19" fill="none" stroke="#000" stroke-width="1.25" stroke-linecap="round" stroke-linejoin="round" clip-path="url(#c2)"/>
<path d="M271.4 242.4C272.47 242.61 275.69 243.02 277.84 243.68C279.98 244.35 281.32 245.02 284.27 246.41C287.22 247.8 291.51 250.02 295.53 252.03C299.56 254.04 303.9 256.63 308.41 258.45C312.91 260.27 318.81 262.68 322.57 262.94C326.32 263.21 328.2 261.07 330.93 260.06C333.67 259.04 335.84 257.89 338.98 256.85C342.12 255.8 346.27 254.87 349.76 253.8C353.24 252.73 356.33 251.79 359.89 250.43C363.46 249.06 367.75 247.03 371.16 245.61C374.56 244.19 377.11 242.99 380.33 241.92C383.55 240.85 386.44 240.18 390.47 239.19C394.49 238.2 402.13 236.52 404.46 235.98" fill="none" stroke="#000" stroke-width="1.25" stroke-linecap="round" stroke-linejoin="round" clip-path="url(#c2)"/>
<path d="M271.4 242.4C272.47 242.56 275.69 242.83 277.84 243.36C279.98 243.9 281.32 244.3 284.27 245.61C287.22 246.92 291.51 249.49 295.53 251.23C299.56 252.97 303.9 254.68 308.41 256.04C312.91 257.41 318.54 259.28 322.57 259.41C326.59 259.55 329.78 257.7 332.54 256.85C335.3 255.99 336.46 255.08 339.14 254.28C341.82 253.47 345.17 252.94 348.63 252.03C352.09 251.12 356.14 250.16 359.89 248.82C363.65 247.48 367.14 245.34 371.16 244C375.18 242.67 380.81 241.84 384.03 240.8C387.25 239.75 387.06 238.82 390.47 237.75C393.87 236.68 402.13 234.94 404.46 234.38" fill="none" stroke="#000" stroke-width="1.25" stroke-linecap="round" stroke-linejoin="round" clip-path="url(#c2)"/>
<path d="M271.4 242.4C272.47 242.56 275.69 242.83 277.84 243.36C279.98 243.9 281.32 244.43 284.27 245.61C287.22 246.79 291.51 249.09 295.53 250.43C299.56 251.76 304.38 252.59 308.41 253.63C312.43 254.68 316.24 256.66 319.67 256.68C323.1 256.71 326.32 255.24 329 253.8C331.68 252.35 333.61 249.27 335.76 248.02C337.91 246.76 339.73 246.39 341.87 246.25C344.02 246.12 345.9 246.92 348.63 247.22C351.37 247.51 354.83 247.91 358.29 248.02C361.75 248.12 365.63 248.53 369.39 247.86C373.14 247.19 377.3 244.99 380.81 244C384.32 243.02 386.52 242.85 390.47 241.92C394.41 240.98 402.13 238.98 404.46 238.39" fill="none" stroke="#000" stroke-width="1.25" stroke-linecap="round" stroke-linejoin="round" clip-path="url(#c2)"/>
<path d="M271.4 242.4C272.47 242.53 275.69 242.72 277.84 243.2C279.98 243.68 281.32 244.35 284.27 245.29C287.22 246.23 291.51 247.7 295.53 248.82C299.56 249.94 304.38 250.96 308.41 252.03C312.43 253.1 316.18 254.84 319.67 255.24C323.16 255.64 326.11 254.97 329.32 254.44C332.54 253.9 335.22 252.7 338.98 252.03C342.73 251.36 347.56 251.23 351.85 250.43C356.14 249.62 360.43 248.28 364.72 247.22C369.01 246.15 373.3 244.89 377.59 244C381.88 243.12 386.66 242.53 390.47 241.92C394.27 241.3 398.11 241.04 400.44 240.31C402.77 239.59 403.79 238.04 404.46 237.59" fill="none" stroke="#000" stroke-width="1.25" stroke-linecap="round" stroke-linejoin="round" clip-path="url(#c2)"/>
<path d="M271.4 242.4C272.47 242.69 275.69 243.23 277.84 244.17C279.98 245.1 281.32 245.77 284.27 248.02C287.22 250.26 291.51 254.3 295.53 257.65C299.56 260.99 303.9 265.46 308.41 268.08C312.91 270.7 318.81 272.71 322.57 273.38C326.32 274.05 328.2 272.57 330.93 272.09C333.67 271.61 336.48 270.89 338.98 270.49C341.47 270.09 343.22 270.62 345.9 269.69C348.58 268.75 351.66 267.28 355.07 264.87C358.47 262.46 362.58 258.18 366.33 255.24C370.09 252.3 373.54 248.45 377.59 247.22C381.64 245.98 386.87 248.66 390.63 247.86C394.38 247.05 397.81 243.44 400.12 242.4C402.43 241.36 403.74 241.73 404.46 241.6" fill="none" stroke="#000" stroke-width="1.25" stroke-linecap="round" stroke-linejoin="round" clip-path="url(#c2)"/>
<circle cx="329" cy="253.8" r="2.3" fill="#ff0000"/>
<circle cx="339.14" cy="254.28" r="2.3" fill="#ff0000"/>
<circle cx="349.28" cy="253.8" r="2.3" fill="#ff0000"/>
<circle cx="349.76" cy="255.4" r="2.3" fill="#ff0000"/>
<circle cx="349.28" cy="263.91" r="2.3" fill="#ff0000"/>
<circle cx="345.9" cy="269.69" r="2.3" fill="#ff0000"/>
<circle cx="349.76" cy="275.14" r="2.3" fill="#ff0000"/>
<circle cx="359.89" cy="265.51" r="2.3" fill="#ff0000"/>
<circle cx="359.89" cy="272.25" r="2.3" fill="#ff0000"/>
<circle cx="359.41" cy="283.01" r="2.3" fill="#ff0000"/>
<circle cx="380.33" cy="241.92" r="2.3" fill="#0000ff"/>
<circle cx="373.25" cy="250.91" r="2.3" fill="#0000ff"/>
<circle cx="390.47" cy="237.75" r="2.3" fill="#0000ff"/>
<circle cx="390.47" cy="241.92" r="2.3" fill="#0000ff"/>
<circle cx="390.63" cy="247.86" r="2.3" fill="#0000ff"/>
<circle cx="390.47" cy="250.26" r="2.3" fill="#0000ff"/>
<circle cx="394.65" cy="245.29" r="2.3" fill="#0000ff"/>
<circle cx="400.44" cy="240.31" r="2.3" fill="#0000ff"/>
<path d="M489.1 210.7V305.1H620.6" fill="none" stroke="#262626" stroke-width="1.3"/>
<path d="M489.1 215.9h2.2M489.1 228.6h2.2M489.1 241.3h2.2M489.1 254h2.2M489.1 266.7h2.2M489.1 279.4h2.2M489.1 292.1h2.2M520.9 305.1v-2.2M552.9 305.1v-2.2M585.1 305.1v-2.2M616.9 305.1v-2.2" fill="none" stroke="#262626" stroke-width="1"/>
<text x="484" y="244.62" font-size="12" text-anchor="end" fill="#262626" stroke="#262626" stroke-width="0.28">0</text>
<text x="484" y="308.42" font-size="12" text-anchor="end" fill="#262626" stroke="#262626" stroke-width="0.28">-1</text>
<text x="488.8" y="324.8" font-size="12" text-anchor="middle" fill="#262626" stroke="#262626" stroke-width="0.28">0</text>
<text x="614.9" y="324.8" font-size="12" text-anchor="middle" fill="#262626" stroke="#262626" stroke-width="0.28">800</text>
<text x="559.7" y="334.3" font-size="12" text-anchor="middle" fill="#262626" stroke="#262626" stroke-width="0.28">time (ms)</text>
<path d="M489.09 241.38C490.79 239.4 495.73 232.52 499.31 229.52C502.88 226.53 506.8 223.9 510.55 223.39C514.29 222.88 518.21 224.07 521.79 226.46C525.36 228.84 528.94 233.95 532.01 237.7C535.07 241.45 537.8 247.24 540.18 248.94C542.57 250.64 544.61 247.75 546.31 247.92C548.02 248.09 548.7 246.9 550.4 249.96C552.1 253.03 554.49 259.5 556.53 266.31C558.57 273.12 560.96 285.05 562.66 290.84C564.37 296.63 565.39 300.37 566.75 301.06C568.11 301.74 569.13 298.33 570.84 294.92C572.54 291.52 574.92 285.05 576.97 280.62C579.01 276.19 580.71 272.78 583.1 268.36C585.48 263.93 588.55 257.46 591.27 254.05C594 250.64 596.72 250.64 599.45 247.92C602.17 245.19 605.24 240.42 607.62 237.7C610.01 234.97 611.71 232.25 613.76 231.57C615.8 230.89 618.86 233.27 619.89 233.61" fill="none" stroke="#0000ff" stroke-width="1.2" stroke-linecap="round" stroke-linejoin="round" clip-path="url(#c3)"/>
<path d="M489.09 241.38C491.13 239.74 498.28 233.2 501.35 231.57C504.42 229.93 505.1 230.38 507.48 231.57C509.87 232.76 512.59 235.83 515.66 238.72C518.72 241.62 522.13 246.56 525.87 248.94C529.62 251.32 534.73 253.03 538.14 253.03C541.54 253.03 544.27 249.28 546.31 248.94C548.36 248.6 548.7 247.75 550.4 250.98C552.1 254.22 554.49 261.03 556.53 268.36C558.57 275.68 560.62 288.79 562.66 294.92C564.71 301.06 567.09 304.8 568.79 305.14C570.5 305.48 571.18 301.4 572.88 296.97C574.58 292.54 576.63 283.34 579.01 278.57C581.4 273.81 584.46 270.4 587.19 268.36C589.91 266.31 592.98 265.63 595.36 266.31C597.75 266.99 599.79 269.72 601.49 272.44C603.2 275.17 604.56 280.28 605.58 282.66C606.6 285.05 606.6 287.09 607.62 286.75C608.65 286.41 609.67 286.41 611.71 280.62C613.76 274.83 618.52 256.77 619.89 252.01" fill="none" stroke="#0000ff" stroke-width="1.2" stroke-linecap="round" stroke-linejoin="round" clip-path="url(#c3)"/>
<path d="M489.09 241.38C490.79 242.13 496.24 245.98 499.31 245.87C502.37 245.77 504.59 242.64 507.48 240.77C510.38 238.89 513.61 235.49 516.68 234.63C519.74 233.78 522.64 233.78 525.87 235.66C529.11 237.53 533.03 242.81 536.09 245.87C539.16 248.94 541.54 250.98 544.27 254.05C546.99 257.12 550.06 260.18 552.44 264.27C554.83 268.36 556.53 273.12 558.57 278.57C560.62 284.02 563 293.05 564.71 296.97C566.41 300.89 567.09 303.78 568.79 302.08C570.5 300.37 572.54 292.03 574.92 286.75C577.31 281.47 580.03 272.44 583.1 270.4C586.16 268.36 590.59 270.4 593.32 274.49C596.04 278.57 598.09 290.84 599.45 294.92C600.81 299.01 600.13 299.35 601.49 299.01C602.86 298.67 605.24 297.65 607.62 292.88C610.01 288.11 613.76 276.19 615.8 270.4C617.84 264.61 619.21 260.18 619.89 258.14" fill="none" stroke="#0000ff" stroke-width="1.2" stroke-linecap="round" stroke-linejoin="round" clip-path="url(#c3)"/>
<path d="M489.09 241.38C490.45 243.15 495.39 249.72 497.26 252.01C499.14 254.29 498.97 255.24 500.33 255.07C501.69 254.9 503.22 251.84 505.44 250.98C507.65 250.13 510.55 249.62 513.61 249.96C516.68 250.3 520.77 251.32 523.83 253.03C526.9 254.73 529.28 258.31 532.01 260.18C534.73 262.05 537.8 263.25 540.18 264.27C542.57 265.29 544.27 265.29 546.31 266.31C548.36 267.33 550.06 266.99 552.44 270.4C554.83 273.81 558.23 281.98 560.62 286.75C563 291.52 564.71 297.99 566.75 299.01C568.79 300.03 570.84 296.29 572.88 292.88C574.92 289.47 576.63 281.98 579.01 278.57C581.4 275.17 584.12 272.95 587.19 272.44C590.25 271.93 594.85 272.78 597.41 275.51C599.96 278.23 600.81 286.24 602.51 288.79C604.22 291.35 605.41 294.24 607.62 290.84C609.84 287.43 613.76 273.12 615.8 268.36C617.84 263.59 619.21 263.25 619.89 262.22" fill="none" stroke="#0000ff" stroke-width="1.2" stroke-linecap="round" stroke-linejoin="round" clip-path="url(#c3)"/>
<path d="M489.09 241.38C490.45 240.77 494.54 236.95 497.26 237.7C499.99 238.45 502.37 242.47 505.44 245.87C508.5 249.28 512.25 253.37 515.66 258.14C519.06 262.91 522.81 270.06 525.87 274.49C528.94 278.92 531.67 282.15 534.05 284.71C536.43 287.26 538.14 288.79 540.18 289.82C542.22 290.84 544.27 292.03 546.31 290.84C548.36 289.64 550.4 285.39 552.44 282.66C554.49 279.94 556.19 276.19 558.57 274.49C560.96 272.78 564.37 272.44 566.75 272.44C569.13 272.44 570.5 275.17 572.88 274.49C575.27 273.81 577.99 270.4 581.06 268.36C584.12 266.31 588.21 263.93 591.27 262.22C594.34 260.52 596.72 260.86 599.45 258.14C602.17 255.41 604.9 249.96 607.62 245.87C610.35 241.79 613.76 234.63 615.8 233.61C617.84 232.59 619.21 238.72 619.89 239.74" fill="none" stroke="#0000ff" stroke-width="1.2" stroke-linecap="round" stroke-linejoin="round" clip-path="url(#c3)"/>
<path d="M489.09 241.38C491.13 240.08 497.6 233.54 501.35 233.61C505.1 233.68 508.5 238.04 511.57 241.79C514.63 245.53 517.02 252.01 519.74 256.09C522.47 260.18 525.19 263.59 527.92 266.31C530.64 269.04 533.03 270.4 536.09 272.44C539.16 274.49 543.25 275.51 546.31 278.57C549.38 281.64 552.1 287.43 554.49 290.84C556.87 294.24 558.74 296.97 560.62 299.01C562.49 301.06 564.02 304.46 565.73 303.1C567.43 301.74 568.96 295.61 570.84 290.84C572.71 286.07 574.58 278.57 576.97 274.49C579.35 270.4 582.08 268.02 585.14 266.31C588.21 264.61 592.3 265.97 595.36 264.27C598.43 262.57 600.81 259.84 603.54 256.09C606.26 252.35 608.99 244.85 611.71 241.79C614.44 238.72 618.52 238.38 619.89 237.7" fill="none" stroke="#0000ff" stroke-width="1.2" stroke-linecap="round" stroke-linejoin="round" clip-path="url(#c3)"/>
<path d="M489.09 241.38C490.79 241.79 495.9 242.06 499.31 243.83C502.71 245.6 506.12 248.6 509.52 252.01C512.93 255.41 516.34 260.86 519.74 264.27C523.15 267.67 526.9 270.06 529.96 272.44C533.03 274.83 535.41 276.19 538.14 278.57C540.86 280.96 543.59 284.71 546.31 286.75C549.04 288.79 552.1 289.82 554.49 290.84C556.87 291.86 558.57 291.86 560.62 292.88C562.66 293.9 565.05 297.99 566.75 296.97C568.45 295.95 568.79 290.84 570.84 286.75C572.88 282.66 576.29 276.19 579.01 272.44C581.74 268.7 584.46 266.31 587.19 264.27C589.91 262.22 592.64 261.88 595.36 260.18C598.09 258.48 600.47 257.46 603.54 254.05C606.6 250.64 611.03 241.45 613.76 239.74C616.48 238.04 618.86 243.15 619.89 243.83" fill="none" stroke="#0000ff" stroke-width="1.2" stroke-linecap="round" stroke-linejoin="round" clip-path="url(#c3)"/>
<path d="M489.09 241.38C490.45 240.94 494.2 238.14 497.26 238.72C500.33 239.3 504.07 242.13 507.48 244.85C510.89 247.58 513.95 251.67 517.7 255.07C521.45 258.48 526.22 263.42 529.96 265.29C533.71 267.16 537.12 265.8 540.18 266.31C543.25 266.82 545.63 266.31 548.36 268.36C551.08 270.4 553.81 273.47 556.53 278.57C559.26 283.68 562.32 295.27 564.71 299.01C567.09 302.76 568.79 303.44 570.84 301.06C572.88 298.67 574.24 289.47 576.97 284.71C579.69 279.94 583.44 274.83 587.19 272.44C590.93 270.06 596.04 272.1 599.45 270.4C602.86 268.7 604.9 266.31 607.62 262.22C610.35 258.14 613.76 248.26 615.8 245.87C617.84 243.49 619.21 247.58 619.89 247.92" fill="none" stroke="#0000ff" stroke-width="1.2" stroke-linecap="round" stroke-linejoin="round" clip-path="url(#c3)"/>
<path d="M489.09 241.38C491.13 241.11 497.6 237.63 501.35 239.74C505.1 241.86 507.48 249.28 511.57 254.05C515.66 258.82 521.45 264.61 525.87 268.36C530.3 272.1 534.05 274.32 538.14 276.53C542.22 278.74 546.99 279.94 550.4 281.64C553.81 283.34 556.19 283.17 558.57 286.75C560.96 290.33 563 299.86 564.71 303.1C566.41 306.34 567.43 306.85 568.79 306.16C570.16 305.48 570.84 303.95 572.88 299.01C574.92 294.07 577.99 281.98 581.06 276.53C584.12 271.08 588.21 268.7 591.27 266.31C594.34 263.93 596.72 264.95 599.45 262.22C602.17 259.5 604.9 254.05 607.62 249.96C610.35 245.87 613.76 238.38 615.8 237.7C617.84 237.02 619.21 244.51 619.89 245.87" fill="none" stroke="#0000ff" stroke-width="1.2" stroke-linecap="round" stroke-linejoin="round" clip-path="url(#c3)"/>
<path d="M489.09 241.38C490.45 240.77 494.54 236.95 497.26 237.7C499.99 238.45 503.05 243.15 505.44 245.87C507.82 248.6 509.18 250.64 511.57 254.05C513.95 257.46 516.68 261.88 519.74 266.31C522.81 270.74 526.56 277.55 529.96 280.62C533.37 283.68 536.77 283.51 540.18 284.71C543.59 285.9 547.67 285.39 550.4 287.77C553.12 290.16 554.83 296.46 556.53 299.01C558.23 301.57 559.26 303.78 560.62 303.1C561.98 302.42 563 299.01 564.71 294.92C566.41 290.84 568.45 283.34 570.84 278.57C573.22 273.81 576.29 270.06 579.01 266.31C581.74 262.57 584.46 260.01 587.19 256.09C589.91 252.18 592.64 245.7 595.36 242.81C598.09 239.91 600.81 239.91 603.54 238.72C606.26 237.53 608.99 236.34 611.71 235.66C614.44 234.97 618.52 234.8 619.89 234.63" fill="none" stroke="#ff0000" stroke-width="1.2" stroke-linecap="round" stroke-linejoin="round" clip-path="url(#c3)"/>
<path d="M489.09 241.38C490.45 240.94 494.2 236.95 497.26 238.72C500.33 240.49 504.42 247.75 507.48 252.01C510.55 256.26 512.59 260.18 515.66 264.27C518.72 268.36 522.47 273.47 525.87 276.53C529.28 279.6 532.69 281.3 536.09 282.66C539.5 284.02 543.25 283.68 546.31 284.71C549.38 285.73 552.1 286.75 554.49 288.79C556.87 290.84 558.57 294.92 560.62 296.97C562.66 299.01 564.71 302.76 566.75 301.06C568.79 299.35 570.5 291.86 572.88 286.75C575.27 281.64 577.99 274.83 581.06 270.4C584.12 265.97 587.87 263.25 591.27 260.18C594.68 257.12 598.43 254.39 601.49 252.01C604.56 249.62 606.6 247.41 609.67 245.87C612.73 244.34 618.18 243.32 619.89 242.81" fill="none" stroke="#ff0000" stroke-width="1.2" stroke-linecap="round" stroke-linejoin="round" clip-path="url(#c3)"/>
<path d="M489.09 241.38C490.79 240.94 495.9 236.61 499.31 238.72C502.71 240.83 506.46 249.79 509.52 254.05C512.59 258.31 514.63 261.2 517.7 264.27C520.77 267.33 524.51 269.38 527.92 272.44C531.32 275.51 534.73 280.45 538.14 282.66C541.54 284.88 545.29 284.71 548.36 285.73C551.42 286.75 554.15 287.6 556.53 288.79C558.92 289.99 560.62 292.54 562.66 292.88C564.71 293.22 566.75 293.22 568.79 290.84C570.84 288.45 572.54 283 574.92 278.57C577.31 274.15 580.37 267.67 583.1 264.27C585.82 260.86 588.55 260.01 591.27 258.14C594 256.26 596.72 256.43 599.45 253.03C602.17 249.62 605.24 240.94 607.62 237.7C610.01 234.46 611.71 233.95 613.76 233.61C615.8 233.27 618.86 235.32 619.89 235.66" fill="none" stroke="#ff0000" stroke-width="1.2" stroke-linecap="round" stroke-linejoin="round" clip-path="url(#c3)"/>
<path d="M489.09 241.38C490.45 241.96 494.54 243.25 497.26 244.85C499.99 246.45 502.71 248.43 505.44 250.98C508.16 253.54 510.89 257.12 513.61 260.18C516.34 263.25 519.06 266.48 521.79 269.38C524.51 272.27 527.24 275.41 529.96 277.55C532.69 279.7 535.41 281.23 538.14 282.25C540.86 283.28 543.59 283.45 546.31 283.68C549.04 283.92 551.76 283.92 554.49 283.68C557.21 283.45 559.94 283.28 562.66 282.25C565.39 281.23 568.11 279.87 570.84 277.55C573.56 275.24 576.29 271.08 579.01 268.36C581.74 265.63 584.46 263.42 587.19 261.2C589.91 258.99 592.64 257.12 595.36 255.07C598.09 253.03 600.81 251.49 603.54 248.94C606.26 246.39 608.99 241.96 611.71 239.74C614.44 237.53 618.52 236.34 619.89 235.66" fill="none" stroke="#000" stroke-width="3.4" stroke-linecap="butt" stroke-linejoin="round" stroke-dasharray="4.5 4" clip-path="url(#c3)"/>
<path d="M63.3 538.3V635.8H198.4" fill="none" stroke="#262626" stroke-width="1.3"/>
<path d="M63.3 538.3h2.2M63.3 554.55h2.2M63.3 570.8h2.2M63.3 587.05h2.2M63.3 603.3h2.2M63.3 619.55h2.2M88.9 635.8v-2.2M114.1 635.8v-2.2M139.3 635.8v-2.2M165.1 635.8v-2.2M190.8 635.8v-2.2" fill="none" stroke="#262626" stroke-width="1"/>
<text x="58.4" y="545.72" font-size="12" text-anchor="end" fill="#262626" stroke="#262626" stroke-width="0.28">20</text>
<text x="58.4" y="578.62" font-size="12" text-anchor="end" fill="#262626" stroke="#262626" stroke-width="0.28">0</text>
<text x="58.4" y="610.52" font-size="12" text-anchor="end" fill="#262626" stroke="#262626" stroke-width="0.28">-20</text>
<text x="58.4" y="642.52" font-size="12" text-anchor="end" fill="#262626" stroke="#262626" stroke-width="0.28">-40</text>
<text x="57.8" y="533" font-size="12" text-anchor="middle" fill="#262626" stroke="#262626" stroke-width="0.28">%</text>
<text x="64.3" y="655.4" font-size="12" text-anchor="middle" fill="#262626" stroke="#262626" stroke-width="0.28">0</text>
<text x="189.9" y="655.4" font-size="12" text-anchor="middle" fill="#262626" stroke="#262626" stroke-width="0.28">800</text>
<text x="134.9" y="665.4" font-size="12" text-anchor="middle" fill="#262626" stroke="#262626" stroke-width="0.28">time (ms)</text>
<path d="M97.81 571.76C99.34 571.55 103.09 570.8 107.01 570.53C110.92 570.26 117.05 570.16 121.31 570.12C125.57 570.09 130.17 570.26 132.55 570.33C134.94 570.4 135.11 570.5 135.62 570.53" fill="none" stroke="#8c8c8c" stroke-width="1.3" stroke-linecap="butt" stroke-linejoin="round" stroke-dasharray="8.5 4.5" clip-path="url(#c4)"/>
<path d="M63.07 570.33C64.6 570.84 69.37 571.52 72.26 573.39C75.16 575.27 77.71 578.5 80.44 581.57C83.16 584.63 85.89 589.23 88.61 591.79C91.34 594.34 94.06 595.53 96.79 596.9C99.51 598.26 102.65 599.28 104.96 599.96C107.28 600.64 108.64 601.15 110.68 600.98C112.73 600.81 115.11 600.3 117.22 598.94C119.34 597.58 121.31 595.02 123.36 592.81C125.4 590.6 127.44 588.04 129.49 585.66C131.53 583.27 133.57 580.55 135.62 578.5C137.66 576.46 139.71 574.76 141.75 573.39C143.79 572.03 145.16 570.67 147.88 570.33C150.61 569.99 154.35 571.01 158.1 571.35C161.85 571.69 166.27 572.54 170.36 572.37C174.45 572.2 179.22 571.52 182.62 570.33C186.03 569.14 188.07 566.24 190.8 565.22C193.52 564.2 197.61 564.37 198.97 564.2" fill="none" stroke="#000" stroke-width="1.25" stroke-linecap="round" stroke-linejoin="round" clip-path="url(#c4)"/>
<path d="M63.07 570.33C64.6 571.01 69.37 572.2 72.26 574.42C75.16 576.63 77.71 580.38 80.44 583.61C83.16 586.85 85.89 591.45 88.61 593.83C91.34 596.22 94.06 596.83 96.79 597.92C99.51 599.01 102.65 599.69 104.96 600.37C107.28 601.05 108.64 602.07 110.68 602.01C112.73 601.94 115.11 601.32 117.22 599.96C119.34 598.6 121.31 596.05 123.36 593.83C125.4 591.62 127.1 589.4 129.49 586.68C131.87 583.95 134.94 579.87 137.66 577.48C140.39 575.1 142.77 573.05 145.84 572.37C148.9 571.69 152.31 573.05 156.06 573.39C159.8 573.73 164.23 574.42 168.32 574.42C172.41 574.42 176.83 574.42 180.58 573.39C184.33 572.37 187.73 569.48 190.8 568.28C193.86 567.09 197.61 566.58 198.97 566.24" fill="none" stroke="#000" stroke-width="1.25" stroke-linecap="round" stroke-linejoin="round" clip-path="url(#c4)"/>
<path d="M63.07 570.33C64.94 570.16 71.07 568.8 74.31 569.31C77.54 569.82 79.99 572.54 82.48 573.39C84.97 574.25 86.84 573.73 89.23 574.42C91.61 575.1 94.16 576.29 96.79 577.48C99.41 578.67 102.24 580.55 104.96 581.57C107.69 582.59 110.41 583.44 113.14 583.61C115.86 583.78 118.59 583.44 121.31 582.59C124.04 581.74 126.76 580.21 129.49 578.5C132.21 576.8 134.94 573.9 137.66 572.37C140.39 570.84 142.77 569.65 145.84 569.31C148.9 568.97 152.31 570.06 156.06 570.33C159.8 570.6 163.89 570.94 168.32 570.94C172.75 570.94 178.88 571.28 182.62 570.33C186.37 569.37 188.07 566.41 190.8 565.22C193.52 564.03 197.61 563.52 198.97 563.17" fill="none" stroke="#000" stroke-width="1.25" stroke-linecap="round" stroke-linejoin="round" clip-path="url(#c4)"/>
<path d="M63.07 570.33C64.6 570.67 69.03 571.18 72.26 572.37C75.5 573.56 78.97 575.61 82.48 577.48C85.99 579.35 90.25 582.59 93.31 583.61C96.38 584.63 98.25 583.44 100.87 583.61C103.5 583.78 106.67 584.87 109.05 584.63C111.43 584.4 113.14 582.86 115.18 582.18C117.22 581.5 118.93 581.67 121.31 580.55C123.7 579.42 126.76 576.97 129.49 575.44C132.21 573.9 134.6 572.37 137.66 571.35C140.73 570.33 144.47 569.71 147.88 569.31C151.29 568.9 154.35 568.9 158.1 568.9C161.85 568.9 166.27 569.41 170.36 569.31C174.45 569.2 179.22 569.14 182.62 568.28C186.03 567.43 188.07 564.71 190.8 564.2C193.52 563.69 197.61 565.05 198.97 565.22" fill="none" stroke="#000" stroke-width="1.25" stroke-linecap="round" stroke-linejoin="round" clip-path="url(#c4)"/>
<path d="M63.07 570.33C64.6 570.84 69.03 571.86 72.26 573.39C75.5 574.93 79.07 577.99 82.48 579.52C85.89 581.06 89.63 581.74 92.7 582.59C95.77 583.44 98.49 583.95 100.87 584.63C103.26 585.32 104.62 586.17 107.01 586.68C109.39 587.19 112.8 587.6 115.18 587.7C117.57 587.8 118.93 587.97 121.31 587.29C123.7 586.61 126.76 585.25 129.49 583.61C132.21 581.98 134.6 579.01 137.66 577.48C140.73 575.95 144.13 574.76 147.88 574.42C151.63 574.07 156.06 575.1 160.14 575.44C164.23 575.78 168.66 576.46 172.41 576.46C176.15 576.46 179.56 576.29 182.62 575.44C185.69 574.59 188.07 572.2 190.8 571.35C193.52 570.5 197.61 570.5 198.97 570.33" fill="none" stroke="#000" stroke-width="1.25" stroke-linecap="round" stroke-linejoin="round" clip-path="url(#c4)"/>
<path d="M63.07 570.33C64.6 571.01 69.03 572.71 72.26 574.42C75.5 576.12 79.07 579.01 82.48 580.55C85.89 582.08 89.63 582.76 92.7 583.61C95.77 584.46 98.15 585.15 100.87 585.66C103.6 586.17 106.67 586.34 109.05 586.68C111.43 587.02 113.14 587.7 115.18 587.7C117.22 587.7 119.1 586.34 121.31 586.68C123.53 587.02 126.08 590.25 128.47 589.74C130.85 589.23 132.72 585.32 135.62 583.61C138.51 581.91 142.09 580.04 145.84 579.52C149.58 579.01 154.01 580.55 158.1 580.55C162.19 580.55 166.27 579.87 170.36 579.52C174.45 579.18 179.22 579.35 182.62 578.5C186.03 577.65 188.07 575.27 190.8 574.42C193.52 573.56 197.61 573.56 198.97 573.39" fill="none" stroke="#000" stroke-width="1.25" stroke-linecap="round" stroke-linejoin="round" clip-path="url(#c4)"/>
<path d="M63.07 570.33C64.6 570.84 69.03 572.03 72.26 573.39C75.5 574.76 79.07 577.14 82.48 578.5C85.89 579.87 89.63 580.55 92.7 581.57C95.77 582.59 97.81 583.95 100.87 584.63C103.94 585.32 107.69 585.55 111.09 585.66C114.5 585.76 118.42 584.57 121.31 585.25C124.21 585.93 126.08 589.68 128.47 589.74C130.85 589.81 132.72 586.68 135.62 585.66C138.51 584.63 142.09 583.78 145.84 583.61C149.58 583.44 154.01 584.29 158.1 584.63C162.19 584.97 166.27 585.83 170.36 585.66C174.45 585.49 179.22 584.8 182.62 583.61C186.03 582.42 188.07 579.7 190.8 578.5C193.52 577.31 197.61 576.8 198.97 576.46" fill="none" stroke="#000" stroke-width="1.25" stroke-linecap="round" stroke-linejoin="round" clip-path="url(#c4)"/>
<path d="M63.07 570.33C64.6 570.67 69.03 571.35 72.26 572.37C75.5 573.39 79.07 575.27 82.48 576.46C85.89 577.65 89.29 578.84 92.7 579.52C96.11 580.21 99.51 580.21 102.92 580.55C106.32 580.89 110.07 581.06 113.14 581.57C116.2 582.08 118.59 582.93 121.31 583.61C124.04 584.29 126.76 585.66 129.49 585.66C132.21 585.66 134.6 584.29 137.66 583.61C140.73 582.93 144.13 581.74 147.88 581.57C151.63 581.4 156.06 582.25 160.14 582.59C164.23 582.93 168.66 583.78 172.41 583.61C176.15 583.44 179.56 582.59 182.62 581.57C185.69 580.55 188.07 578.5 190.8 577.48C193.52 576.46 197.61 575.78 198.97 575.44" fill="none" stroke="#000" stroke-width="1.25" stroke-linecap="round" stroke-linejoin="round" clip-path="url(#c4)"/>
<path d="M63.07 570.33C64.6 570.5 69.03 570.5 72.26 571.35C75.5 572.2 79.07 574.42 82.48 575.44C85.89 576.46 89.29 576.8 92.7 577.48C96.11 578.16 99.51 579.01 102.92 579.52C106.32 580.04 110.07 580.55 113.14 580.55C116.2 580.55 118.59 580.38 121.31 579.52C124.04 578.67 126.76 576.63 129.49 575.44C132.21 574.25 134.6 572.71 137.66 572.37C140.73 572.03 144.13 573.05 147.88 573.39C151.63 573.73 156.06 574.25 160.14 574.42C164.23 574.59 168.66 574.59 172.41 574.42C176.15 574.25 179.56 574.25 182.62 573.39C185.69 572.54 188.07 570.16 190.8 569.31C193.52 568.45 197.61 568.45 198.97 568.28" fill="none" stroke="#000" stroke-width="1.25" stroke-linecap="round" stroke-linejoin="round" clip-path="url(#c4)"/>
<path d="M63.07 570.33C64.94 570.23 70.73 569.37 74.31 569.71C77.88 570.06 81.12 571.42 84.52 572.37C87.93 573.33 91.34 574.59 94.74 575.44C98.15 576.29 101.56 576.97 104.96 577.48C108.37 577.99 112.12 578.5 115.18 578.5C118.25 578.5 120.63 578.16 123.36 577.48C126.08 576.8 128.47 575.51 131.53 574.42C134.6 573.33 138.34 571.45 141.75 570.94C145.16 570.43 148.22 571.21 151.97 571.35C155.71 571.49 160.14 571.76 164.23 571.76C168.32 571.76 172.75 571.76 176.49 571.35C180.24 570.94 183.65 570.16 186.71 569.31C189.78 568.45 192.84 566.75 194.89 566.24C196.93 565.73 198.29 566.24 198.97 566.24" fill="none" stroke="#000" stroke-width="1.25" stroke-linecap="round" stroke-linejoin="round" clip-path="url(#c4)"/>
<path d="M63.07 570.33C64.6 570.43 69.03 570.26 72.26 570.94C75.5 571.62 79.07 573.5 82.48 574.42C85.89 575.34 88.95 575.68 92.7 576.46C96.45 577.24 101.22 578.54 104.96 579.12C108.71 579.7 112.12 579.93 115.18 579.93C118.25 579.93 120.63 579.7 123.36 579.12C126.08 578.54 128.47 577.24 131.53 576.46C134.6 575.68 138 574.59 141.75 574.42C145.5 574.25 149.92 574.93 154.01 575.44C158.1 575.95 162.19 576.97 166.27 577.48C170.36 577.99 174.79 579.01 178.54 578.5C182.28 577.99 185.35 575.44 188.76 574.42C192.16 573.39 197.27 572.71 198.97 572.37" fill="none" stroke="#000" stroke-width="1.25" stroke-linecap="round" stroke-linejoin="round" clip-path="url(#c4)"/>
<path d="M63.07 570.33C64.6 570.57 69.03 570.91 72.26 571.76C75.5 572.61 79.07 574.42 82.48 575.44C85.89 576.46 88.95 576.94 92.7 577.89C96.45 578.84 101.22 580.38 104.96 581.16C108.71 581.94 111.77 582.25 115.18 582.59C118.59 582.93 122.33 583.37 125.4 583.2C128.47 583.03 130.51 582.35 133.57 581.57C136.64 580.79 140.05 578.91 143.79 578.5C147.54 578.09 151.63 578.78 156.06 579.12C160.48 579.46 165.93 580.48 170.36 580.55C174.79 580.61 179.22 580.38 182.62 579.52C186.03 578.67 188.07 576.29 190.8 575.44C193.52 574.59 197.61 574.59 198.97 574.42" fill="none" stroke="#000" stroke-width="1.25" stroke-linecap="round" stroke-linejoin="round" clip-path="url(#c4)"/>
<circle cx="89.23" cy="574.42" r="2.3" fill="#d95319"/>
<circle cx="93.31" cy="583.61" r="2.3" fill="#d95319"/>
<circle cx="107.01" cy="586.68" r="2.3" fill="#d95319"/>
<circle cx="115.18" cy="582.18" r="2.3" fill="#d95319"/>
<circle cx="115.18" cy="587.7" r="2.3" fill="#d95319"/>
<circle cx="121.31" cy="586.68" r="2.3" fill="#d95319"/>
<circle cx="128.47" cy="589.74" r="2.3" fill="#d95319"/>
<circle cx="110.68" cy="599.96" r="2.3" fill="#d95319"/>
<circle cx="110.68" cy="602.01" r="2.3" fill="#d95319"/>
<path d="M271 538.4V635.2H405.8" fill="none" stroke="#262626" stroke-width="1.3"/>
<path d="M271 538.4h2.2M271 554.55h2.2M271 570.7h2.2M271 586.85h2.2M271 603h2.2M271 619.15h2.2M296.8 635.2v-2.2M321.7 635.2v-2.2M347.6 635.2v-2.2M373 635.2v-2.2M398.4 635.2v-2.2" fill="none" stroke="#262626" stroke-width="1"/>
<text x="266.2" y="546.62" font-size="12" text-anchor="end" fill="#262626" stroke="#262626" stroke-width="0.28">20</text>
<text x="266.2" y="578.32" font-size="12" text-anchor="end" fill="#262626" stroke="#262626" stroke-width="0.28">0</text>
<text x="266.2" y="610.82" font-size="12" text-anchor="end" fill="#262626" stroke="#262626" stroke-width="0.28">-20</text>
<text x="266.2" y="643.02" font-size="12" text-anchor="end" fill="#262626" stroke="#262626" stroke-width="0.28">-40</text>
<text x="265.3" y="532.9" font-size="12" text-anchor="middle" fill="#262626" stroke="#262626" stroke-width="0.28">%</text>
<text x="271.7" y="655.6" font-size="12" text-anchor="middle" fill="#262626" stroke="#262626" stroke-width="0.28">0</text>
<text x="397.4" y="655.6" font-size="12" text-anchor="middle" fill="#262626" stroke="#262626" stroke-width="0.28">800</text>
<text x="342.6" y="665.4" font-size="12" text-anchor="middle" fill="#262626" stroke="#262626" stroke-width="0.28">time (ms)</text>
<path d="M271.35 570.45C273.11 571.05 278.41 571.69 281.93 574.05C285.46 576.42 288.99 581.11 292.52 584.64C296.05 588.16 299.93 592.4 303.1 595.22C306.28 598.04 309.28 600.16 311.57 601.57C313.86 602.98 315.1 603.51 316.86 603.69C318.63 603.86 320.21 603.86 322.15 602.63C324.1 601.39 326.39 598.92 328.51 596.28C330.62 593.63 332.74 589.4 334.86 586.75C336.97 584.11 338.74 581.81 341.21 580.4C343.68 578.99 346.15 578.81 349.67 578.29C353.2 577.76 358.14 577.23 362.38 577.23C366.61 577.23 370.84 578.29 375.08 578.29C379.31 578.29 384.25 578.11 387.78 577.23C391.31 576.34 393.42 573.88 396.24 572.99C399.07 572.11 403.3 572.11 404.71 571.93" fill="none" stroke="#000" stroke-width="1.25" stroke-linecap="round" stroke-linejoin="round" clip-path="url(#c5)"/>
<path d="M271.35 570.45C273.11 571.23 278.41 572.39 281.93 575.11C285.46 577.83 288.99 583.05 292.52 586.75C296.05 590.46 299.93 594.69 303.1 597.34C306.28 599.98 309.28 601.39 311.57 602.63C313.86 603.86 314.92 604.64 316.86 604.75C318.8 604.85 321.1 604.68 323.21 603.26C325.33 601.85 327.45 598.85 329.56 596.28C331.68 593.7 333.62 589.75 335.91 587.81C338.21 585.87 340.32 584.99 343.32 584.64C346.32 584.28 350.03 585.34 353.91 585.69C357.79 586.05 362.38 586.58 366.61 586.75C370.84 586.93 375.43 586.93 379.31 586.75C383.19 586.58 386.72 586.75 389.89 585.69C393.07 584.64 395.72 581.64 398.36 580.4C401.01 579.17 404.54 578.64 405.77 578.29" fill="none" stroke="#000" stroke-width="1.25" stroke-linecap="round" stroke-linejoin="round" clip-path="url(#c5)"/>
<path d="M271.35 570.45C273.11 570.52 278.41 570.98 281.93 570.88C285.46 570.77 288.64 570.17 292.52 569.82C296.4 569.47 301.34 568.76 305.22 568.76C309.1 568.76 312.63 568.94 315.8 569.82C318.98 570.7 321.45 572.64 324.27 574.05C327.09 575.46 330.62 577.23 332.74 578.29C334.86 579.34 334.86 580.76 336.97 580.4C339.09 580.05 342.27 577.23 345.44 576.17C348.62 575.11 351.79 574.58 356.02 574.05C360.26 573.52 366.26 573.35 370.84 572.99C375.43 572.64 379.31 572.82 383.54 571.93C387.78 571.05 392.54 568.58 396.24 567.7C399.95 566.82 404.18 566.82 405.77 566.64" fill="none" stroke="#000" stroke-width="1.25" stroke-linecap="round" stroke-linejoin="round" clip-path="url(#c5)"/>
<path d="M271.35 570.45C273.11 571.05 278.41 572.75 281.93 574.05C285.46 575.36 288.99 577.23 292.52 578.29C296.05 579.34 299.58 580.23 303.1 580.4C306.63 580.58 310.16 580.05 313.69 579.34C317.22 578.64 321.27 576.98 324.27 576.17C327.27 575.36 329.71 574.65 331.68 574.48C333.66 574.3 333.83 575.71 336.13 575.11C338.42 574.51 342.12 571.76 345.44 570.88C348.76 569.99 351.79 569.99 356.02 569.82C360.26 569.64 366.26 569.99 370.84 569.82C375.43 569.64 379.13 569.82 383.54 568.76C387.95 567.7 393.6 564.7 397.3 563.47C401.01 562.23 404.36 561.7 405.77 561.35" fill="none" stroke="#000" stroke-width="1.25" stroke-linecap="round" stroke-linejoin="round" clip-path="url(#c5)"/>
<path d="M271.35 570.45C273.11 571.23 278.41 573.28 281.93 575.11C285.46 576.94 288.99 579.7 292.52 581.46C296.05 583.22 299.58 584.81 303.1 585.69C306.63 586.58 310.16 586.75 313.69 586.75C317.22 586.75 321.1 586.4 324.27 585.69C327.45 584.99 330.76 583.22 332.74 582.52C334.71 581.81 334.01 582.17 336.13 581.46C338.24 580.76 342.12 578.99 345.44 578.29C348.76 577.58 351.79 577.58 356.02 577.23C360.26 576.87 366.26 576.52 370.84 576.17C375.43 575.82 379.13 575.99 383.54 575.11C387.95 574.23 393.6 571.76 397.3 570.88C401.01 569.99 404.36 569.99 405.77 569.82" fill="none" stroke="#000" stroke-width="1.25" stroke-linecap="round" stroke-linejoin="round" clip-path="url(#c5)"/>
<path d="M271.35 570.45C273.11 571.41 278.41 573.8 281.93 576.17C285.46 578.53 288.99 582.34 292.52 584.64C296.05 586.93 299.58 588.69 303.1 589.93C306.63 591.16 310.16 591.87 313.69 592.04C317.22 592.22 321.1 591.87 324.27 590.99C327.45 590.1 330.76 587.81 332.74 586.75C334.71 585.69 334.01 585.52 336.13 584.64C338.24 583.75 341.77 582.17 345.44 581.46C349.11 580.76 353.91 580.65 358.14 580.4C362.38 580.16 366.61 580.33 370.84 579.98C375.08 579.63 379.13 579.1 383.54 578.29C387.95 577.47 393.6 575.82 397.3 575.11C401.01 574.4 404.36 574.23 405.77 574.05" fill="none" stroke="#000" stroke-width="1.25" stroke-linecap="round" stroke-linejoin="round" clip-path="url(#c5)"/>
<path d="M271.35 570.45C273.11 571.05 278.41 572.57 281.93 574.05C285.46 575.53 288.99 577.93 292.52 579.34C296.05 580.76 299.58 581.81 303.1 582.52C306.63 583.22 310.16 583.58 313.69 583.58C317.22 583.58 321.1 583.05 324.27 582.52C327.45 581.99 330.76 580.93 332.74 580.4C334.71 579.87 334.01 578.46 336.13 579.34C338.24 580.23 343.18 584.64 345.44 585.69C347.7 586.75 347.2 586.22 349.67 585.69C352.14 585.17 356.02 583.22 360.26 582.52C364.49 581.81 370.49 581.81 375.08 581.46C379.66 581.11 384.07 581.28 387.78 580.4C391.48 579.52 394.3 577.05 397.3 576.17C400.3 575.29 404.36 575.29 405.77 575.11" fill="none" stroke="#000" stroke-width="1.25" stroke-linecap="round" stroke-linejoin="round" clip-path="url(#c5)"/>
<path d="M271.35 570.45C273.11 571.12 278.41 572.82 281.93 574.48C285.46 576.13 288.99 578.89 292.52 580.4C296.05 581.92 299.58 582.87 303.1 583.58C306.63 584.28 309.81 584.11 313.69 584.64C317.57 585.17 323.21 586.05 326.39 586.75C329.56 587.46 331.12 588.69 332.74 588.87C334.36 589.05 334.01 588.52 336.13 587.81C338.24 587.11 341.77 585.34 345.44 584.64C349.11 583.93 353.91 583.75 358.14 583.58C362.38 583.4 366.61 583.75 370.84 583.58C375.08 583.4 379.13 583.4 383.54 582.52C387.95 581.64 393.6 579.34 397.3 578.29C401.01 577.23 404.36 576.52 405.77 576.17" fill="none" stroke="#000" stroke-width="1.25" stroke-linecap="round" stroke-linejoin="round" clip-path="url(#c5)"/>
<path d="M271.35 570.45C273.11 570.88 278.41 572.04 281.93 572.99C285.46 573.95 288.99 575.46 292.52 576.17C296.05 576.87 299.58 577.23 303.1 577.23C306.63 577.23 310.16 576.52 313.69 576.17C317.22 575.82 321.27 575.53 324.27 575.11C327.27 574.69 329.71 573.45 331.68 573.63C333.66 573.8 333.83 576.45 336.13 576.17C338.42 575.89 341.77 572.82 345.44 571.93C349.11 571.05 354.08 571.23 358.14 570.88C362.2 570.52 365.55 569.99 369.78 569.82C374.02 569.64 378.96 570.17 383.54 569.82C388.13 569.47 393.6 568.05 397.3 567.7C401.01 567.35 404.36 567.7 405.77 567.7" fill="none" stroke="#000" stroke-width="1.25" stroke-linecap="round" stroke-linejoin="round" clip-path="url(#c5)"/>
<path d="M271.35 570.45C273.11 570.98 278.41 572.39 281.93 573.63C285.46 574.86 288.99 576.56 292.52 577.86C296.05 579.17 299.58 580.68 303.1 581.46C306.63 582.24 310.16 582.52 313.69 582.52C317.22 582.52 321.1 582.17 324.27 581.46C327.45 580.76 330.76 578.89 332.74 578.29C334.71 577.69 334.01 578.39 336.13 577.86C338.24 577.33 341.77 575.75 345.44 575.11C349.11 574.48 353.2 574.4 358.14 574.05C363.08 573.7 370.49 572.99 375.08 572.99C379.66 572.99 381.96 574.23 385.66 574.05C389.36 573.88 393.95 572.46 397.3 571.93C400.65 571.41 404.36 571.05 405.77 570.88" fill="none" stroke="#000" stroke-width="1.25" stroke-linecap="round" stroke-linejoin="round" clip-path="url(#c5)"/>
<path d="M271.35 570.45C273.11 571.34 278.41 573.73 281.93 575.75C285.46 577.76 288.99 580.68 292.52 582.52C296.05 584.35 299.58 585.69 303.1 586.75C306.63 587.81 309.81 588.34 313.69 588.87C317.57 589.4 322.86 589.75 326.39 589.93C329.92 590.1 332.39 590.46 334.86 589.93C337.33 589.4 338.74 587.63 341.21 586.75C343.68 585.87 346.15 585.34 349.67 584.64C353.2 583.93 358.14 583.3 362.38 582.52C366.61 581.74 370.84 580.51 375.08 579.98C379.31 579.45 384.07 580.16 387.78 579.34C391.48 578.53 394.3 575.64 397.3 575.11C400.3 574.58 404.36 575.99 405.77 576.17" fill="none" stroke="#000" stroke-width="1.25" stroke-linecap="round" stroke-linejoin="round" clip-path="url(#c5)"/>
<path d="M271.35 570.45C273.11 571.23 278.41 573.28 281.93 575.11C285.46 576.94 288.99 579.52 292.52 581.46C296.05 583.4 299.58 585.34 303.1 586.75C306.63 588.16 309.81 589.05 313.69 589.93C317.57 590.81 323.21 591.87 326.39 592.04C329.56 592.22 330.27 591.52 332.74 590.99C335.21 590.46 337.68 589.4 341.21 588.87C344.73 588.34 349.67 587.99 353.91 587.81C358.14 587.63 362.38 587.81 366.61 587.81C370.84 587.81 375.43 587.99 379.31 587.81C383.19 587.63 386.9 587.81 389.89 586.75C392.89 585.69 394.66 583.05 397.3 581.46C399.95 579.87 404.36 577.93 405.77 577.23" fill="none" stroke="#000" stroke-width="1.25" stroke-linecap="round" stroke-linejoin="round" clip-path="url(#c5)"/>
<circle cx="331.68" cy="574.05" r="2.3" fill="#ff0000"/>
<circle cx="335.91" cy="572.99" r="2.3" fill="#ff0000"/>
<circle cx="336.13" cy="576.17" r="2.3" fill="#ff0000"/>
<circle cx="336.13" cy="579.34" r="2.3" fill="#ff0000"/>
<circle cx="336.13" cy="582.52" r="2.3" fill="#ff0000"/>
<circle cx="336.13" cy="585.69" r="2.3" fill="#ff0000"/>
<circle cx="336.55" cy="587.81" r="2.3" fill="#ff0000"/>
<circle cx="345.44" cy="585.69" r="2.3" fill="#ff0000"/>
<circle cx="349.67" cy="585.69" r="2.3" fill="#ff0000"/>
<circle cx="375.08" cy="579.98" r="2.3" fill="#ff0000"/>
<circle cx="370.84" cy="569.82" r="2.3" fill="#0000ff"/>
<circle cx="375.08" cy="572.99" r="2.3" fill="#0000ff"/>
<circle cx="397.3" cy="561.35" r="2.3" fill="#0000ff"/>
<circle cx="397.3" cy="564.53" r="2.3" fill="#0000ff"/>
<circle cx="397.3" cy="567.7" r="2.3" fill="#0000ff"/>
<circle cx="397.3" cy="570.88" r="2.3" fill="#0000ff"/>
<circle cx="397.3" cy="574.05" r="2.3" fill="#0000ff"/>
<circle cx="397.3" cy="576.17" r="2.3" fill="#0000ff"/>
<circle cx="402.6" cy="577.23" r="2.3" fill="#0000ff"/>
<circle cx="400.48" cy="575.11" r="2.3" fill="#0000ff"/>
<path d="M488.6 538.3V634.4H621.9" fill="none" stroke="#262626" stroke-width="1.3"/>
<path d="M488.6 542.25h2.2M488.6 555.4h2.2M488.6 568.55h2.2M488.6 581.7h2.2M488.6 594.85h2.2M488.6 608h2.2M488.6 621.15h2.2M513.9 634.4v-2.2M539.1 634.4v-2.2M564.3 634.4v-2.2M589.5 634.4v-2.2M614.7 634.4v-2.2" fill="none" stroke="#262626" stroke-width="1"/>
<text x="484.6" y="560.32" font-size="12" text-anchor="end" fill="#262626" stroke="#262626" stroke-width="0.28">0</text>
<text x="484.6" y="625.12" font-size="12" text-anchor="end" fill="#262626" stroke="#262626" stroke-width="0.28">-1</text>
<text x="488.8" y="655.8" font-size="12" text-anchor="middle" fill="#262626" stroke="#262626" stroke-width="0.28">0</text>
<text x="614.1" y="655.8" font-size="12" text-anchor="middle" fill="#262626" stroke="#262626" stroke-width="0.28">800</text>
<text x="558.8" y="665.4" font-size="12" text-anchor="middle" fill="#262626" stroke="#262626" stroke-width="0.28">time (ms)</text>
<path d="M489.09 568.72C490.11 569.57 492.83 570.6 495.22 573.83C497.6 577.07 500.67 583.71 503.39 588.14C506.12 592.57 509.18 597.5 511.57 600.4C513.95 603.29 515.66 604.83 517.7 605.51C519.74 606.19 521.79 606.02 523.83 604.49C525.87 602.95 527.58 601.08 529.96 596.31C532.35 591.54 535.41 582.69 538.14 575.87C540.86 569.06 543.93 560.89 546.31 555.44C548.7 549.99 550.74 545.63 552.44 543.17C554.15 540.72 555.17 540.55 556.53 540.72C557.89 540.89 558.92 542.08 560.62 544.2C562.32 546.31 564.71 551.52 566.75 553.39C568.79 555.27 570.16 555.1 572.88 555.44C575.61 555.78 580.03 555.61 583.1 555.44C586.16 555.27 588.55 554.07 591.27 554.42C594 554.76 596.72 556.29 599.45 557.48C602.17 558.67 604.9 561.23 607.62 561.57C610.35 561.91 613.59 559.87 615.8 559.52C618.01 559.18 620.06 559.52 620.91 559.52" fill="none" stroke="#ff0000" stroke-width="1.2" stroke-linecap="round" stroke-linejoin="round" clip-path="url(#c6)"/>
<path d="M489.09 568.72C490.45 569.91 494.54 571.28 497.26 575.87C499.99 580.47 503.05 589.5 505.44 596.31C507.82 603.12 509.52 610.28 511.57 616.75C513.61 623.22 516 632.42 517.7 635.14C519.4 637.87 520.08 635.14 521.79 633.1C523.49 631.06 525.87 626.29 527.92 622.88C529.96 619.47 531.67 617.09 534.05 612.66C536.43 608.23 539.5 601.76 542.22 596.31C544.95 590.86 547.67 585.41 550.4 579.96C553.12 574.51 555.85 567.53 558.57 563.61C561.3 559.7 563.68 557.82 566.75 556.46C569.82 555.1 573.56 555.27 576.97 555.44C580.37 555.61 583.78 556.46 587.19 557.48C590.59 558.5 594 560.72 597.41 561.57C600.81 562.42 604.56 563.78 607.62 562.59C610.69 561.4 613.59 555.95 615.8 554.42C618.01 552.88 620.06 553.56 620.91 553.39" fill="none" stroke="#ff0000" stroke-width="1.2" stroke-linecap="round" stroke-linejoin="round" clip-path="url(#c6)"/>
<path d="M489.09 568.72C490.45 569.91 494.54 571.62 497.26 575.87C499.99 580.13 502.71 588.14 505.44 594.27C508.16 600.4 510.89 607.89 513.61 612.66C516.34 617.43 519.06 619.82 521.79 622.88C524.51 625.95 527.58 630.37 529.96 631.06C532.35 631.74 533.71 629.69 536.09 626.97C538.48 624.24 541.54 618.79 544.27 614.71C546.99 610.62 549.72 606.87 552.44 602.44C555.17 598.02 558.23 592.57 560.62 588.14C563 583.71 564.37 578.77 566.75 575.87C569.13 572.98 571.52 572.13 574.92 570.77C578.33 569.4 583.1 568.89 587.19 567.7C591.27 566.51 595.7 564.97 599.45 563.61C603.2 562.25 606.09 560.72 609.67 559.52C613.24 558.33 619.04 556.97 620.91 556.46" fill="none" stroke="#ff0000" stroke-width="1.2" stroke-linecap="round" stroke-linejoin="round" clip-path="url(#c6)"/>
<path d="M489.09 568.72C490.45 569.91 494.54 571.28 497.26 575.87C499.99 580.47 502.71 590.18 505.44 596.31C508.16 602.44 510.89 608.57 513.61 612.66C516.34 616.75 519.06 619.13 521.79 620.84C524.51 622.54 527.24 623.22 529.96 622.88C532.69 622.54 535.41 620.84 538.14 618.79C540.86 616.75 543.59 613.34 546.31 610.62C549.04 607.89 552.1 605.17 554.49 602.44C556.87 599.72 558.57 596.99 560.62 594.27C562.66 591.54 564.02 588.14 566.75 586.09C569.47 584.05 573.56 583.37 576.97 582.01C580.37 580.64 583.44 579.62 587.19 577.92C590.93 576.22 595.7 574.51 599.45 571.79C603.2 569.06 606.09 563.95 609.67 561.57C613.24 559.18 619.04 558.16 620.91 557.48" fill="none" stroke="#ff0000" stroke-width="1.2" stroke-linecap="round" stroke-linejoin="round" clip-path="url(#c6)"/>
<path d="M489.09 568.72C490.45 570.25 494.54 572.98 497.26 577.92C499.99 582.86 502.71 592.22 505.44 598.36C508.16 604.49 510.89 610.62 513.61 614.71C516.34 618.79 519.4 620.84 521.79 622.88C524.17 624.92 525.53 626.97 527.92 626.97C530.3 626.97 533.37 624.58 536.09 622.88C538.82 621.18 541.54 619.13 544.27 616.75C546.99 614.37 549.72 611.98 552.44 608.57C555.17 605.17 558.23 599.72 560.62 596.31C563 592.91 564.37 589.84 566.75 588.14C569.13 586.43 571.52 585.75 574.92 586.09C578.33 586.43 583.1 588.82 587.19 590.18C591.27 591.54 596.04 594.61 599.45 594.27C602.86 593.93 605.24 591.2 607.62 588.14C610.01 585.07 611.54 578.09 613.76 575.87C615.97 573.66 619.72 575.02 620.91 574.85" fill="none" stroke="#ff0000" stroke-width="1.2" stroke-linecap="round" stroke-linejoin="round" clip-path="url(#c6)"/>
<path d="M489.09 568.72C490.45 569.91 494.54 571.28 497.26 575.87C499.99 580.47 502.71 589.84 505.44 596.31C508.16 602.78 510.89 610.62 513.61 614.71C516.34 618.79 519.06 619.47 521.79 620.84C524.51 622.2 527.24 622.71 529.96 622.88C532.69 623.05 535.41 622.88 538.14 621.86C540.86 620.84 543.59 619.3 546.31 616.75C549.04 614.19 552.1 610.28 554.49 606.53C556.87 602.78 558.57 597.33 560.62 594.27C562.66 591.2 564.02 588.48 566.75 588.14C569.47 587.8 573.56 590.86 576.97 592.22C580.37 593.59 583.44 595.29 587.19 596.31C590.93 597.33 596.04 599.04 599.45 598.36C602.86 597.67 605.24 595.29 607.62 592.22C610.01 589.16 611.54 582.69 613.76 579.96C615.97 577.24 619.72 576.56 620.91 575.87" fill="none" stroke="#ff0000" stroke-width="1.2" stroke-linecap="round" stroke-linejoin="round" clip-path="url(#c6)"/>
<path d="M489.09 568.72C490.45 569.74 494.54 570.77 497.26 574.85C499.99 578.94 502.71 587.29 505.44 593.25C508.16 599.21 510.89 606.02 513.61 610.62C516.34 615.22 519.06 618.11 521.79 620.84C524.51 623.56 527.24 625.95 529.96 626.97C532.69 627.99 535.41 628.33 538.14 626.97C540.86 625.61 543.59 622.2 546.31 618.79C549.04 615.39 551.76 610.28 554.49 606.53C557.21 602.78 559.94 598.19 562.66 596.31C565.39 594.44 567.77 595.29 570.84 595.29C573.9 595.29 577.65 596.31 581.06 596.31C584.46 596.31 587.87 595.63 591.27 595.29C594.68 594.95 598.43 595.8 601.49 594.27C604.56 592.74 607.28 589.5 609.67 586.09C612.05 582.69 613.93 576.56 615.8 573.83C617.67 571.11 620.06 570.42 620.91 569.74" fill="none" stroke="#ff0000" stroke-width="1.2" stroke-linecap="round" stroke-linejoin="round" clip-path="url(#c6)"/>
<path d="M489.09 568.72C490.45 568.89 494.54 568.21 497.26 569.74C499.99 571.28 502.37 575.19 505.44 577.92C508.5 580.64 511.91 584.05 515.66 586.09C519.4 588.14 524.85 588.48 527.92 590.18C530.98 591.88 532.01 593.25 534.05 596.31C536.09 599.38 538.14 604.49 540.18 608.57C542.22 612.66 544.27 617.09 546.31 620.84C548.36 624.58 550.4 628.6 552.44 631.06C554.49 633.51 556.19 635.55 558.57 635.55C560.96 635.55 564.37 632.66 566.75 631.06C569.13 629.45 570.5 626.97 572.88 625.95C575.27 624.92 577.99 625.95 581.06 624.92C584.12 623.9 588.55 620.33 591.27 619.82C594 619.3 595.36 620.16 597.41 621.86C599.45 623.56 601.49 630.89 603.54 630.03C605.58 629.18 607.62 622.37 609.67 616.75C611.71 611.13 613.93 601.76 615.8 596.31C617.67 590.86 620.06 586.09 620.91 584.05" fill="none" stroke="#0000ff" stroke-width="1.2" stroke-linecap="round" stroke-linejoin="round" clip-path="url(#c6)"/>
<path d="M489.09 568.72C490.45 569.06 494.54 569.06 497.26 570.77C499.99 572.47 502.37 576.22 505.44 578.94C508.5 581.67 512.25 584.56 515.66 587.12C519.06 589.67 523.15 591.71 525.87 594.27C528.6 596.82 529.96 598.7 532.01 602.44C534.05 606.19 536.09 611.98 538.14 616.75C540.18 621.52 542.22 627.92 544.27 631.06C546.31 634.19 548.02 635.21 550.4 635.55C552.78 635.89 555.85 634.53 558.57 633.1C561.3 631.67 564.02 627.82 566.75 626.97C569.47 626.12 572.2 627.65 574.92 627.99C577.65 628.33 580.37 629.52 583.1 629.01C585.82 628.5 588.55 626.97 591.27 624.92C594 622.88 596.72 620.5 599.45 616.75C602.17 613 604.9 607.55 607.62 602.44C610.35 597.33 613.59 590.52 615.8 586.09C618.01 581.67 620.06 577.58 620.91 575.87" fill="none" stroke="#0000ff" stroke-width="1.2" stroke-linecap="round" stroke-linejoin="round" clip-path="url(#c6)"/>
<path d="M489.09 568.72C490.45 569.57 494.54 570.6 497.26 573.83C499.99 577.07 502.71 582.35 505.44 588.14C508.16 593.93 510.89 603.12 513.61 608.57C516.34 614.02 519.06 617.6 521.79 620.84C524.51 624.07 527.24 625.95 529.96 627.99C532.69 630.03 535.75 631.84 538.14 633.1C540.52 634.36 542.22 635.89 544.27 635.55C546.31 635.21 548.36 633.51 550.4 631.06C552.44 628.6 554.15 624.24 556.53 620.84C558.92 617.43 561.98 612.83 564.71 610.62C567.43 608.4 569.82 608.23 572.88 607.55C575.95 606.87 579.35 607.04 583.1 606.53C586.85 606.02 591.96 605.85 595.36 604.49C598.77 603.12 600.81 602.1 603.54 598.36C606.26 594.61 608.99 586.77 611.71 582.01C614.44 577.24 618.52 571.79 619.89 569.74" fill="none" stroke="#0000ff" stroke-width="1.2" stroke-linecap="round" stroke-linejoin="round" clip-path="url(#c6)"/>
<path d="M489.09 568.72C490.45 569.57 494.54 570.25 497.26 573.83C499.99 577.41 502.71 584.05 505.44 590.18C508.16 596.31 510.89 605.17 513.61 610.62C516.34 616.07 519.06 619.64 521.79 622.88C524.51 626.12 527.24 628.16 529.96 630.03C532.69 631.91 535.41 633.2 538.14 634.12C540.86 635.04 543.59 636.74 546.31 635.55C549.04 634.36 551.76 630.44 554.49 626.97C557.21 623.49 559.94 617.6 562.66 614.71C565.39 611.81 567.77 610.28 570.84 609.6C573.9 608.92 577.31 610.79 581.06 610.62C584.8 610.45 589.91 609.94 593.32 608.57C596.72 607.21 598.77 605.51 601.49 602.44C604.22 599.38 607.28 594.61 609.67 590.18C612.05 585.75 613.93 579.45 615.8 575.87C617.67 572.3 620.06 569.91 620.91 568.72" fill="none" stroke="#0000ff" stroke-width="1.2" stroke-linecap="round" stroke-linejoin="round" clip-path="url(#c6)"/>
<path d="M489.09 568.72C490.45 569.74 494.54 570.94 497.26 574.85C499.99 578.77 502.71 585.92 505.44 592.22C508.16 598.53 510.89 607.21 513.61 612.66C516.34 618.11 519.06 621.69 521.79 624.92C524.51 628.16 527.24 630.31 529.96 632.08C532.69 633.85 535.07 635.11 538.14 635.55C541.2 635.99 545.29 635.82 548.36 634.73C551.42 633.64 553.81 632.01 556.53 629.01C559.26 626.01 561.98 619.64 564.71 616.75C567.43 613.85 569.82 612.66 572.88 611.64C575.95 610.62 579.35 611.47 583.1 610.62C586.85 609.77 591.61 608.92 595.36 606.53C599.11 604.15 602.51 600.74 605.58 596.31C608.65 591.88 611.2 584.05 613.76 579.96C616.31 575.87 619.72 573.15 620.91 571.79" fill="none" stroke="#0000ff" stroke-width="1.2" stroke-linecap="round" stroke-linejoin="round" clip-path="url(#c6)"/>
<path d="M489.09 568.72C490.11 569.4 493.17 570.77 495.22 572.81C497.26 574.85 499.31 577.58 501.35 580.98C503.39 584.39 505.44 589.16 507.48 593.25C509.52 597.33 511.57 601.93 513.61 605.51C515.66 609.09 517.7 612.32 519.74 614.71C521.79 617.09 523.66 618.38 525.87 619.82C528.09 621.25 530.64 622.71 533.03 623.29C535.41 623.87 537.97 624.04 540.18 623.29C542.39 622.54 544.27 620.91 546.31 618.79C548.36 616.68 550.4 613.68 552.44 610.62C554.49 607.55 556.53 603.64 558.57 600.4C560.62 597.16 562.66 593.18 564.71 591.2C566.75 589.23 568.79 588.99 570.84 588.55C572.88 588.1 574.58 588.68 576.97 588.55C579.35 588.41 582.42 588.14 585.14 587.73C587.87 587.32 590.59 586.88 593.32 586.09C596.04 585.31 599.11 584.39 601.49 583.03C603.88 581.67 605.58 579.79 607.62 577.92C609.67 576.05 611.71 573.83 613.76 571.79C615.8 569.74 618.86 566.68 619.89 565.66" fill="none" stroke="#000" stroke-width="3.4" stroke-linecap="butt" stroke-linejoin="round" stroke-dasharray="4.5 4" clip-path="url(#c6)"/>
</svg>
</body></html>
